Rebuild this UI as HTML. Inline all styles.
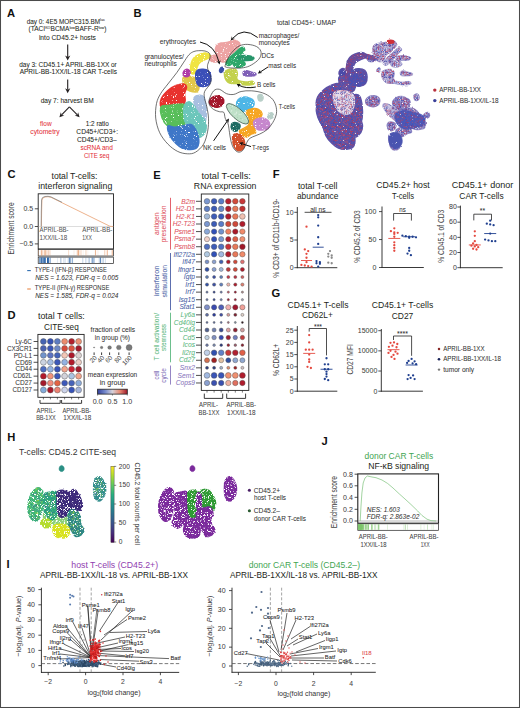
<!DOCTYPE html>
<html><head><meta charset="utf-8"><style>
html,body{margin:0;padding:0;background:#fff;}
body{width:520px;height:708px;overflow:hidden;}
svg{display:block;font-family:"Liberation Sans", sans-serif;}

</style></head><body>
<svg width="520" height="708" viewBox="0 0 520 708">
<rect x="0" y="0" width="520" height="708" fill="#fff"/>
<rect x="0.5" y="0.5" width="519" height="707" fill="none" stroke="#4a4a4a" stroke-width="1.05"/>
<text x="7" y="16.9" font-size="11.2" font-weight="bold" fill="#111">A</text>
<text x="133.6" y="16.9" font-size="11.2" font-weight="bold" fill="#111">B</text>
<text x="7.5" y="178.3" font-size="11.2" font-weight="bold" fill="#111">C</text>
<text x="7.6" y="319.2" font-size="11.2" font-weight="bold" fill="#111">D</text>
<text x="153.3" y="178.6" font-size="11.2" font-weight="bold" fill="#111">E</text>
<text x="272.8" y="177.8" font-size="11.2" font-weight="bold" fill="#111">F</text>
<text x="271.6" y="297.2" font-size="11.2" font-weight="bold" fill="#111">G</text>
<text x="7.2" y="440.7" font-size="11.2" font-weight="bold" fill="#111">H</text>
<text x="6.6" y="567.5" font-size="11.2" font-weight="bold" fill="#111">I</text>
<text x="321.4" y="444.8" font-size="11.2" font-weight="bold" fill="#111">J</text>
<text x="65.70" y="23.61" font-size="6.4" fill="#231f20" stroke="#231f20" stroke-width="0.05" text-anchor="middle" textLength="78" lengthAdjust="spacingAndGlyphs" >day 0: 4E5 MOPC315.BM<tspan font-size="3.6" dy="-2.2">luc</tspan></text>
<text x="67.50" y="31.41" font-size="6.4" fill="#231f20" stroke="#231f20" stroke-width="0.05" text-anchor="middle" textLength="78" lengthAdjust="spacingAndGlyphs" >(TACI<tspan font-size="3.6" dy="-2.2">KO</tspan><tspan dy="2.2">BCMA</tspan><tspan font-size="3.6" dy="-2.2">low</tspan><tspan dy="2.2">BAFF-R</tspan><tspan font-size="3.6" dy="-2.2">low</tspan><tspan dy="2.2">)</tspan></text>
<text x="67.40" y="39.71" font-size="6.4" fill="#231f20" stroke="#231f20" stroke-width="0.05" text-anchor="middle" textLength="57" lengthAdjust="spacingAndGlyphs" >into CD45.2+ hosts</text>
<line x1="67.70" y1="44.60" x2="67.70" y2="57.10" stroke="#231f20" stroke-width="1.1" />
<path d="M67.70,60.60 L65.10,55.60 L67.70,57.10 L70.30,55.60 Z" fill="#231f20"/>
<text x="68.00" y="66.81" font-size="6.4" fill="#231f20" stroke="#231f20" stroke-width="0.05" text-anchor="middle" textLength="97.5" lengthAdjust="spacingAndGlyphs" >day 3: CD45.1+ APRIL-BB-1XX or</text>
<text x="68.30" y="74.41" font-size="6.4" fill="#231f20" stroke="#231f20" stroke-width="0.05" text-anchor="middle" textLength="97.3" lengthAdjust="spacingAndGlyphs" >APRIL-BB-1XX/IL-18 CAR T-cells</text>
<line x1="67.70" y1="79.40" x2="67.70" y2="89.80" stroke="#231f20" stroke-width="1.1" />
<path d="M67.70,93.30 L65.10,88.30 L67.70,89.80 L70.30,88.30 Z" fill="#231f20"/>
<text x="67.20" y="102.51" font-size="6.4" fill="#231f20" stroke="#231f20" stroke-width="0.05" text-anchor="middle" textLength="53" lengthAdjust="spacingAndGlyphs" >day 7: harvest BM</text>
<line x1="69.40" y1="106.80" x2="61.63" y2="114.88" stroke="#231f20" stroke-width="1.1" />
<path d="M59.40,117.20 L60.86,112.22 L61.63,114.88 L64.32,115.55 Z" fill="#231f20"/>
<line x1="69.40" y1="106.80" x2="77.35" y2="114.90" stroke="#231f20" stroke-width="1.1" />
<path d="M79.60,117.20 L74.67,115.60 L77.35,114.90 L78.09,112.24 Z" fill="#231f20"/>
<text x="45.80" y="126.31" font-size="6.4" fill="#e4343b" stroke="#e4343b" stroke-width="0.05" text-anchor="middle" textLength="11.6" lengthAdjust="spacingAndGlyphs" >flow</text>
<text x="45.00" y="133.71" font-size="6.4" fill="#e4343b" stroke="#e4343b" stroke-width="0.05" text-anchor="middle" textLength="29.3" lengthAdjust="spacingAndGlyphs" >cytometry</text>
<text x="97.30" y="126.31" font-size="6.4" fill="#231f20" stroke="#231f20" stroke-width="0.05" text-anchor="middle" textLength="23.1" lengthAdjust="spacingAndGlyphs" >1:2 ratio</text>
<text x="97.20" y="133.71" font-size="6.4" fill="#231f20" stroke="#231f20" stroke-width="0.05" text-anchor="middle" textLength="41.7" lengthAdjust="spacingAndGlyphs" >CD45+/CD3+:</text>
<text x="96.90" y="141.81" font-size="6.4" fill="#231f20" stroke="#231f20" stroke-width="0.05" text-anchor="middle" textLength="39.7" lengthAdjust="spacingAndGlyphs" >CD45+/CD3–</text>
<text x="96.60" y="149.81" font-size="6.4" fill="#e4343b" stroke="#e4343b" stroke-width="0.05" text-anchor="middle" textLength="32.4" lengthAdjust="spacingAndGlyphs" >scRNA and</text>
<text x="96.60" y="157.91" font-size="6.4" fill="#e4343b" stroke="#e4343b" stroke-width="0.05" text-anchor="middle" textLength="25.4" lengthAdjust="spacingAndGlyphs" >CITE seq</text>
<text x="74.50" y="178.97" font-size="9.0" fill="#231f20" text-anchor="middle" textLength="46" lengthAdjust="spacingAndGlyphs" >total T-cells:</text>
<text x="75.30" y="188.87" font-size="9.0" fill="#231f20" text-anchor="middle" textLength="74" lengthAdjust="spacingAndGlyphs" >interferon signaling</text>
<rect x="38.20" y="193.80" width="75.30" height="55.10" fill="none" stroke="#222" stroke-width="0.9" />
<line x1="38.20" y1="226.50" x2="113.50" y2="226.50" stroke="#bbbbbb" stroke-width="0.5" />
<rect x="38.20" y="249.60" width="75.30" height="6.40" fill="#fff" stroke="#222" stroke-width="0.7" />
<rect x="38.20" y="257.10" width="75.30" height="6.40" fill="#fff" stroke="#222" stroke-width="0.7" />
<line x1="41.31" y1="250.10" x2="41.31" y2="255.50" stroke="#e07a3a" stroke-width="1.0" opacity="0.52"/>
<line x1="42.82" y1="250.10" x2="42.82" y2="255.50" stroke="#e07a3a" stroke-width="0.7" opacity="0.54"/>
<line x1="45.73" y1="250.10" x2="45.73" y2="255.50" stroke="#e07a3a" stroke-width="0.7" opacity="0.33"/>
<line x1="38.75" y1="250.10" x2="38.75" y2="255.50" stroke="#e07a3a" stroke-width="0.5" opacity="0.63"/>
<line x1="41.56" y1="250.10" x2="41.56" y2="255.50" stroke="#e07a3a" stroke-width="0.5" opacity="0.39"/>
<line x1="49.95" y1="250.10" x2="49.95" y2="255.50" stroke="#e07a3a" stroke-width="0.7" opacity="0.49"/>
<line x1="48.14" y1="250.10" x2="48.14" y2="255.50" stroke="#e07a3a" stroke-width="1.0" opacity="0.49"/>
<line x1="45.89" y1="250.10" x2="45.89" y2="255.50" stroke="#e07a3a" stroke-width="0.7" opacity="0.36"/>
<line x1="45.84" y1="250.10" x2="45.84" y2="255.50" stroke="#e07a3a" stroke-width="0.5" opacity="0.65"/>
<line x1="44.56" y1="250.10" x2="44.56" y2="255.50" stroke="#e07a3a" stroke-width="0.7" opacity="0.60"/>
<line x1="77.71" y1="250.10" x2="77.71" y2="255.50" stroke="#e07a3a" stroke-width="0.5" opacity="0.27"/>
<line x1="78.58" y1="250.10" x2="78.58" y2="255.50" stroke="#e07a3a" stroke-width="0.7" opacity="0.43"/>
<line x1="74.01" y1="250.10" x2="74.01" y2="255.50" stroke="#e07a3a" stroke-width="0.5" opacity="0.26"/>
<line x1="79.66" y1="250.10" x2="79.66" y2="255.50" stroke="#e07a3a" stroke-width="0.5" opacity="0.39"/>
<line x1="78.19" y1="250.10" x2="78.19" y2="255.50" stroke="#e07a3a" stroke-width="0.7" opacity="0.51"/>
<line x1="78.14" y1="250.10" x2="78.14" y2="255.50" stroke="#e07a3a" stroke-width="0.7" opacity="0.53"/>
<line x1="107.17" y1="250.10" x2="107.17" y2="255.50" stroke="#e07a3a" stroke-width="0.7" opacity="0.54"/>
<line x1="107.63" y1="250.10" x2="107.63" y2="255.50" stroke="#e07a3a" stroke-width="0.5" opacity="0.58"/>
<line x1="111.67" y1="250.10" x2="111.67" y2="255.50" stroke="#e07a3a" stroke-width="0.5" opacity="0.33"/>
<line x1="104.76" y1="250.10" x2="104.76" y2="255.50" stroke="#e07a3a" stroke-width="1.0" opacity="0.37"/>
<line x1="112.48" y1="250.10" x2="112.48" y2="255.50" stroke="#e07a3a" stroke-width="1.0" opacity="0.43"/>
<line x1="83.21" y1="250.10" x2="83.21" y2="255.50" stroke="#e07a3a" stroke-width="0.5" opacity="0.19"/>
<line x1="76.88" y1="250.10" x2="76.88" y2="255.50" stroke="#e07a3a" stroke-width="0.7" opacity="0.21"/>
<line x1="68.60" y1="250.10" x2="68.60" y2="255.50" stroke="#e07a3a" stroke-width="1.0" opacity="0.25"/>
<line x1="80.97" y1="250.10" x2="80.97" y2="255.50" stroke="#e07a3a" stroke-width="1.0" opacity="0.33"/>
<line x1="86.15" y1="250.10" x2="86.15" y2="255.50" stroke="#e07a3a" stroke-width="0.7" opacity="0.33"/>
<line x1="95.39" y1="250.10" x2="95.39" y2="255.50" stroke="#e07a3a" stroke-width="1.0" opacity="0.35"/>
<line x1="85.58" y1="250.10" x2="85.58" y2="255.50" stroke="#e07a3a" stroke-width="0.7" opacity="0.16"/>
<line x1="95.61" y1="250.10" x2="95.61" y2="255.50" stroke="#e07a3a" stroke-width="1.0" opacity="0.34"/>
<line x1="97.95" y1="250.10" x2="97.95" y2="255.50" stroke="#e07a3a" stroke-width="0.5" opacity="0.25"/>
<line x1="87.83" y1="250.10" x2="87.83" y2="255.50" stroke="#e07a3a" stroke-width="0.5" opacity="0.17"/>
<line x1="42.10" y1="257.60" x2="42.10" y2="263.00" stroke="#2a64a8" stroke-width="0.7" opacity="0.63"/>
<line x1="45.00" y1="257.60" x2="45.00" y2="263.00" stroke="#2a64a8" stroke-width="1.0" opacity="0.61"/>
<line x1="40.97" y1="257.60" x2="40.97" y2="263.00" stroke="#2a64a8" stroke-width="0.7" opacity="0.76"/>
<line x1="45.10" y1="257.60" x2="45.10" y2="263.00" stroke="#2a64a8" stroke-width="0.5" opacity="0.66"/>
<line x1="39.42" y1="257.60" x2="39.42" y2="263.00" stroke="#2a64a8" stroke-width="0.7" opacity="0.95"/>
<line x1="42.14" y1="257.60" x2="42.14" y2="263.00" stroke="#2a64a8" stroke-width="0.5" opacity="0.98"/>
<line x1="47.97" y1="257.60" x2="47.97" y2="263.00" stroke="#2a64a8" stroke-width="0.5" opacity="0.75"/>
<line x1="43.60" y1="257.60" x2="43.60" y2="263.00" stroke="#2a64a8" stroke-width="0.5" opacity="0.81"/>
<line x1="45.44" y1="257.60" x2="45.44" y2="263.00" stroke="#2a64a8" stroke-width="0.7" opacity="0.84"/>
<line x1="44.59" y1="257.60" x2="44.59" y2="263.00" stroke="#2a64a8" stroke-width="1.0" opacity="0.85"/>
<line x1="48.41" y1="257.60" x2="48.41" y2="263.00" stroke="#2a64a8" stroke-width="1.0" opacity="0.80"/>
<line x1="43.31" y1="257.60" x2="43.31" y2="263.00" stroke="#2a64a8" stroke-width="0.7" opacity="0.89"/>
<line x1="41.38" y1="257.60" x2="41.38" y2="263.00" stroke="#2a64a8" stroke-width="1.0" opacity="0.72"/>
<line x1="48.78" y1="257.60" x2="48.78" y2="263.00" stroke="#2a64a8" stroke-width="1.0" opacity="0.81"/>
<line x1="44.48" y1="257.60" x2="44.48" y2="263.00" stroke="#2a64a8" stroke-width="0.5" opacity="0.60"/>
<line x1="43.15" y1="257.60" x2="43.15" y2="263.00" stroke="#2a64a8" stroke-width="0.5" opacity="0.83"/>
<line x1="50.28" y1="257.60" x2="50.28" y2="263.00" stroke="#2a64a8" stroke-width="1.0" opacity="0.45"/>
<line x1="89.33" y1="257.60" x2="89.33" y2="263.00" stroke="#2a64a8" stroke-width="0.7" opacity="0.22"/>
<line x1="89.02" y1="257.60" x2="89.02" y2="263.00" stroke="#2a64a8" stroke-width="1.0" opacity="0.39"/>
<line x1="92.34" y1="257.60" x2="92.34" y2="263.00" stroke="#2a64a8" stroke-width="1.0" opacity="0.34"/>
<line x1="94.10" y1="257.60" x2="94.10" y2="263.00" stroke="#2a64a8" stroke-width="1.0" opacity="0.50"/>
<line x1="50.42" y1="257.60" x2="50.42" y2="263.00" stroke="#2a64a8" stroke-width="0.7" opacity="0.22"/>
<line x1="92.13" y1="257.60" x2="92.13" y2="263.00" stroke="#2a64a8" stroke-width="1.0" opacity="0.59"/>
<line x1="65.02" y1="257.60" x2="65.02" y2="263.00" stroke="#2a64a8" stroke-width="0.7" opacity="0.38"/>
<line x1="86.81" y1="257.60" x2="86.81" y2="263.00" stroke="#2a64a8" stroke-width="0.5" opacity="0.33"/>
<line x1="72.22" y1="257.60" x2="72.22" y2="263.00" stroke="#2a64a8" stroke-width="0.5" opacity="0.33"/>
<line x1="72.55" y1="257.60" x2="72.55" y2="263.00" stroke="#2a64a8" stroke-width="1.0" opacity="0.44"/>
<line x1="68.17" y1="257.60" x2="68.17" y2="263.00" stroke="#2a64a8" stroke-width="0.7" opacity="0.35"/>
<line x1="98.27" y1="257.60" x2="98.27" y2="263.00" stroke="#2a64a8" stroke-width="0.5" opacity="0.21"/>
<line x1="85.32" y1="257.60" x2="85.32" y2="263.00" stroke="#2a64a8" stroke-width="0.5" opacity="0.49"/>
<line x1="68.78" y1="257.60" x2="68.78" y2="263.00" stroke="#2a64a8" stroke-width="0.5" opacity="0.29"/>
<line x1="100.28" y1="257.60" x2="100.28" y2="263.00" stroke="#2a64a8" stroke-width="0.5" opacity="0.30"/>
<line x1="60.96" y1="257.60" x2="60.96" y2="263.00" stroke="#2a64a8" stroke-width="1.0" opacity="0.37"/>
<line x1="93.54" y1="257.60" x2="93.54" y2="263.00" stroke="#2a64a8" stroke-width="1.0" opacity="0.24"/>
<line x1="69.54" y1="257.60" x2="69.54" y2="263.00" stroke="#2a64a8" stroke-width="0.5" opacity="0.33"/>
<line x1="102.18" y1="257.60" x2="102.18" y2="263.00" stroke="#2a64a8" stroke-width="0.7" opacity="0.38"/>
<line x1="103.58" y1="257.60" x2="103.58" y2="263.00" stroke="#2a64a8" stroke-width="1.0" opacity="0.27"/>
<line x1="70.48" y1="257.60" x2="70.48" y2="263.00" stroke="#2a64a8" stroke-width="0.5" opacity="0.46"/>
<line x1="105.46" y1="257.60" x2="105.46" y2="263.00" stroke="#2a64a8" stroke-width="0.5" opacity="0.38"/>
<line x1="63.36" y1="257.60" x2="63.36" y2="263.00" stroke="#2a64a8" stroke-width="0.7" opacity="0.25"/>
<line x1="82.79" y1="257.60" x2="82.79" y2="263.00" stroke="#2a64a8" stroke-width="1.0" opacity="0.28"/>
<line x1="100.47" y1="257.60" x2="100.47" y2="263.00" stroke="#2a64a8" stroke-width="0.5" opacity="0.54"/>
<line x1="60.71" y1="257.60" x2="60.71" y2="263.00" stroke="#2a64a8" stroke-width="0.5" opacity="0.31"/>
<line x1="100.50" y1="257.60" x2="100.50" y2="263.00" stroke="#2a64a8" stroke-width="1.0" opacity="0.46"/>
<line x1="100.44" y1="257.60" x2="100.44" y2="263.00" stroke="#2a64a8" stroke-width="0.7" opacity="0.34"/>
<line x1="57.27" y1="257.60" x2="57.27" y2="263.00" stroke="#2a64a8" stroke-width="0.5" opacity="0.32"/>
<line x1="99.65" y1="257.60" x2="99.65" y2="263.00" stroke="#2a64a8" stroke-width="1.0" opacity="0.31"/>
<line x1="71.10" y1="257.60" x2="71.10" y2="263.00" stroke="#2a64a8" stroke-width="0.5" opacity="0.37"/>
<line x1="69.80" y1="257.60" x2="69.80" y2="263.00" stroke="#2a64a8" stroke-width="1.0" opacity="0.90"/>
<line x1="47.50" y1="257.60" x2="47.50" y2="263.00" stroke="#2a64a8" stroke-width="1.0" opacity="1.00"/>
<line x1="41.00" y1="257.60" x2="41.00" y2="263.00" stroke="#2a64a8" stroke-width="0.7" opacity="1.00"/>
<line x1="34.80" y1="208.80" x2="38.20" y2="208.80" stroke="#222" stroke-width="0.8" />
<text x="33.20" y="211.11" font-size="7.0" fill="#444" stroke="#444" stroke-width="0.05" text-anchor="end" >0.5</text>
<line x1="34.80" y1="226.50" x2="38.20" y2="226.50" stroke="#222" stroke-width="0.8" />
<text x="33.20" y="228.81" font-size="7.0" fill="#444" stroke="#444" stroke-width="0.05" text-anchor="end" >0.0</text>
<line x1="34.80" y1="243.90" x2="38.20" y2="243.90" stroke="#222" stroke-width="0.8" />
<text x="33.20" y="246.21" font-size="7.0" fill="#444" stroke="#444" stroke-width="0.05" text-anchor="end" >−0.5</text>
<text transform="translate(11.40,228.40) rotate(-90)" x="0" y="2.77" font-size="8.4" fill="#444" stroke="#444" stroke-width="0.05" text-anchor="middle" textLength="52" lengthAdjust="spacingAndGlyphs" >Enrichment score</text>
<path d="M41.4,226.5 L41.6,212 L41.9,200.5 L42.8,198.0 L45,197.0 L48,196.7 L51,197.3 L54,198.8 L110.0,226.3 L113,226.5" fill="none" stroke="#e8a070" stroke-width="0.8"/>
<path d="M41.2,226.5 L41.3,212 L41.6,199.5 L42.5,197.6 L45,196.5 L48,196.3 L51,196.9 L54,198.4 L62,202.3" fill="none" stroke="#888" stroke-width="0.8"/>
<text x="39.60" y="231.58" font-size="6.6" fill="#555" stroke="#555" stroke-width="0.05" textLength="28.9" lengthAdjust="spacingAndGlyphs" >APRIL-BB-</text>
<text x="39.60" y="239.78" font-size="6.6" fill="#555" stroke="#555" stroke-width="0.05" textLength="27.5" lengthAdjust="spacingAndGlyphs" >1XX/IL-18</text>
<text x="82.30" y="231.58" font-size="6.6" fill="#555" stroke="#555" stroke-width="0.05" textLength="30" lengthAdjust="spacingAndGlyphs" >APRIL-BB-</text>
<text x="82.30" y="239.78" font-size="6.6" fill="#555" stroke="#555" stroke-width="0.05" textLength="9.6" lengthAdjust="spacingAndGlyphs" >1XX</text>
<line x1="27.20" y1="270.60" x2="30.80" y2="270.60" stroke="#2f6db0" stroke-width="1.1" />
<line x1="27.20" y1="289.00" x2="30.80" y2="289.00" stroke="#e8894a" stroke-width="1.1" />
<text x="34.80" y="271.78" font-size="6.6" fill="#333" stroke="#333" stroke-width="0.05" textLength="72" lengthAdjust="spacingAndGlyphs" >TYPE-I (IFN-β) RESPONSE</text>
<text x="35.20" y="280.18" font-size="6.6" fill="#333" stroke="#333" stroke-width="0.05" font-style="italic" textLength="83.2" lengthAdjust="spacingAndGlyphs" >NES = 1.623, FDR-q = 0.005</text>
<text x="34.80" y="290.38" font-size="6.6" fill="#333" stroke="#333" stroke-width="0.05" textLength="74.5" lengthAdjust="spacingAndGlyphs" >TYPE-II (IFN-γ) RESPONSE</text>
<text x="35.20" y="298.38" font-size="6.6" fill="#333" stroke="#333" stroke-width="0.05" font-style="italic" textLength="83.2" lengthAdjust="spacingAndGlyphs" >NES = 1.585, FDR-q = 0.024</text>
<text x="61.40" y="319.37" font-size="9.0" fill="#231f20" text-anchor="middle" textLength="46.8" lengthAdjust="spacingAndGlyphs" >total T cells:</text>
<text x="61.40" y="329.77" font-size="9.0" fill="#231f20" text-anchor="middle" textLength="34.7" lengthAdjust="spacingAndGlyphs" >CITE-seq</text>
<rect x="37.90" y="334.40" width="46.20" height="62.90" fill="none" stroke="#222" stroke-width="0.9" />
<text x="32.00" y="343.74" font-size="6.8" fill="#333" stroke="#333" stroke-width="0.05" text-anchor="end" textLength="16.8" lengthAdjust="spacingAndGlyphs" >Ly-6C</text>
<line x1="33.60" y1="341.50" x2="37.90" y2="341.50" stroke="#222" stroke-width="0.8" />
<circle cx="43.40" cy="341.50" r="2.95" fill="#4563b3" stroke="#555" stroke-width="0.45" />
<circle cx="50.40" cy="341.50" r="2.95" fill="#3552b5" stroke="#555" stroke-width="0.45" />
<circle cx="57.40" cy="341.50" r="2.95" fill="#5d7cc2" stroke="#555" stroke-width="0.45" />
<circle cx="64.60" cy="341.50" r="2.95" fill="#ec8b6c" stroke="#555" stroke-width="0.45" />
<circle cx="71.60" cy="341.50" r="2.95" fill="#b3202b" stroke="#555" stroke-width="0.45" />
<circle cx="78.60" cy="341.50" r="2.95" fill="#ee9073" stroke="#555" stroke-width="0.45" />
<text x="32.00" y="350.67" font-size="6.8" fill="#333" stroke="#333" stroke-width="0.05" text-anchor="end" textLength="25.0" lengthAdjust="spacingAndGlyphs" >CX3CR1</text>
<line x1="33.60" y1="348.43" x2="37.90" y2="348.43" stroke="#222" stroke-width="0.8" />
<circle cx="43.40" cy="348.43" r="2.95" fill="#4b62b0" stroke="#555" stroke-width="0.45" />
<circle cx="50.40" cy="348.43" r="2.95" fill="#3a56b8" stroke="#555" stroke-width="0.45" />
<circle cx="57.40" cy="348.43" r="2.95" fill="#6d88c6" stroke="#555" stroke-width="0.45" />
<circle cx="64.60" cy="348.43" r="2.95" fill="#d54a3a" stroke="#555" stroke-width="0.45" />
<circle cx="71.60" cy="348.43" r="2.95" fill="#dc5340" stroke="#555" stroke-width="0.45" />
<circle cx="78.60" cy="348.43" r="2.95" fill="#a41a29" stroke="#555" stroke-width="0.45" />
<text x="32.00" y="357.60" font-size="6.8" fill="#333" stroke="#333" stroke-width="0.05" text-anchor="end" textLength="18.2" lengthAdjust="spacingAndGlyphs" >PD-L1</text>
<line x1="33.60" y1="355.36" x2="37.90" y2="355.36" stroke="#222" stroke-width="0.8" />
<circle cx="43.40" cy="355.36" r="2.95" fill="#7294cb" stroke="#555" stroke-width="0.45" />
<circle cx="50.40" cy="355.36" r="2.95" fill="#5c73c1" stroke="#555" stroke-width="0.45" />
<circle cx="57.40" cy="355.36" r="2.95" fill="#4463b9" stroke="#555" stroke-width="0.45" />
<circle cx="64.60" cy="355.36" r="2.95" fill="#f3c6b5" stroke="#555" stroke-width="0.45" />
<circle cx="71.60" cy="355.36" r="2.95" fill="#ab192b" stroke="#555" stroke-width="0.45" />
<circle cx="78.60" cy="355.36" r="2.95" fill="#dbd2d1" stroke="#555" stroke-width="0.45" />
<text x="32.00" y="364.53" font-size="6.8" fill="#333" stroke="#333" stroke-width="0.05" text-anchor="end" textLength="16.8" lengthAdjust="spacingAndGlyphs" >CD69</text>
<line x1="33.60" y1="362.29" x2="37.90" y2="362.29" stroke="#222" stroke-width="0.8" />
<circle cx="43.40" cy="362.29" r="2.95" fill="#cbd3e1" stroke="#555" stroke-width="0.45" />
<circle cx="50.40" cy="362.29" r="2.95" fill="#a4bce2" stroke="#555" stroke-width="0.45" />
<circle cx="57.40" cy="362.29" r="2.95" fill="#3c58b9" stroke="#555" stroke-width="0.45" />
<circle cx="64.60" cy="362.29" r="2.95" fill="#93b2e2" stroke="#555" stroke-width="0.45" />
<circle cx="71.60" cy="362.29" r="2.95" fill="#b21a29" stroke="#555" stroke-width="0.45" />
<circle cx="78.60" cy="362.29" r="2.95" fill="#ecccc3" stroke="#555" stroke-width="0.45" />
<text x="32.00" y="371.46" font-size="6.8" fill="#333" stroke="#333" stroke-width="0.05" text-anchor="end" textLength="16.4" lengthAdjust="spacingAndGlyphs" >CD44</text>
<line x1="33.60" y1="369.22" x2="37.90" y2="369.22" stroke="#222" stroke-width="0.8" />
<circle cx="43.40" cy="369.22" r="2.95" fill="#4c6cc1" stroke="#555" stroke-width="0.45" />
<circle cx="50.40" cy="369.22" r="2.95" fill="#92b1e2" stroke="#555" stroke-width="0.45" />
<circle cx="57.40" cy="369.22" r="2.95" fill="#3753b8" stroke="#555" stroke-width="0.45" />
<circle cx="64.60" cy="369.22" r="2.95" fill="#f3a38a" stroke="#555" stroke-width="0.45" />
<circle cx="71.60" cy="369.22" r="2.95" fill="#cb2232" stroke="#555" stroke-width="0.45" />
<circle cx="78.60" cy="369.22" r="2.95" fill="#a31b29" stroke="#555" stroke-width="0.45" />
<text x="32.00" y="378.39" font-size="6.8" fill="#333" stroke="#333" stroke-width="0.05" text-anchor="end" textLength="19.0" lengthAdjust="spacingAndGlyphs" >CD62L</text>
<line x1="33.60" y1="376.15" x2="37.90" y2="376.15" stroke="#222" stroke-width="0.8" />
<circle cx="43.40" cy="376.15" r="2.95" fill="#b2192a" stroke="#555" stroke-width="0.45" />
<circle cx="50.40" cy="376.15" r="2.95" fill="#f2937a" stroke="#555" stroke-width="0.45" />
<circle cx="57.40" cy="376.15" r="2.95" fill="#3c58b9" stroke="#555" stroke-width="0.45" />
<circle cx="64.60" cy="376.15" r="2.95" fill="#d3d3da" stroke="#555" stroke-width="0.45" />
<circle cx="71.60" cy="376.15" r="2.95" fill="#abc3e2" stroke="#555" stroke-width="0.45" />
<circle cx="78.60" cy="376.15" r="2.95" fill="#f2a48b" stroke="#555" stroke-width="0.45" />
<text x="32.00" y="385.32" font-size="6.8" fill="#333" stroke="#333" stroke-width="0.05" text-anchor="end" textLength="16.8" lengthAdjust="spacingAndGlyphs" >CD27</text>
<line x1="33.60" y1="383.08" x2="37.90" y2="383.08" stroke="#222" stroke-width="0.8" />
<circle cx="43.40" cy="383.08" r="2.95" fill="#a4192a" stroke="#555" stroke-width="0.45" />
<circle cx="50.40" cy="383.08" r="2.95" fill="#f28b7b" stroke="#555" stroke-width="0.45" />
<circle cx="57.40" cy="383.08" r="2.95" fill="#e36343" stroke="#555" stroke-width="0.45" />
<circle cx="64.60" cy="383.08" r="2.95" fill="#3c58b9" stroke="#555" stroke-width="0.45" />
<circle cx="71.60" cy="383.08" r="2.95" fill="#4763b9" stroke="#555" stroke-width="0.45" />
<circle cx="78.60" cy="383.08" r="2.95" fill="#8dabda" stroke="#555" stroke-width="0.45" />
<text x="32.00" y="392.25" font-size="6.8" fill="#333" stroke="#333" stroke-width="0.05" text-anchor="end" textLength="19.5" lengthAdjust="spacingAndGlyphs" >CD127</text>
<line x1="33.60" y1="390.01" x2="37.90" y2="390.01" stroke="#222" stroke-width="0.8" />
<circle cx="43.40" cy="390.01" r="2.95" fill="#84abda" stroke="#555" stroke-width="0.45" />
<circle cx="50.40" cy="390.01" r="2.95" fill="#aa192a" stroke="#555" stroke-width="0.45" />
<circle cx="57.40" cy="390.01" r="2.95" fill="#ec8373" stroke="#555" stroke-width="0.45" />
<circle cx="64.60" cy="390.01" r="2.95" fill="#ccd3ea" stroke="#555" stroke-width="0.45" />
<circle cx="71.60" cy="390.01" r="2.95" fill="#3753b8" stroke="#555" stroke-width="0.45" />
<circle cx="78.60" cy="390.01" r="2.95" fill="#a3b3da" stroke="#555" stroke-width="0.45" />
<line x1="43.40" y1="397.30" x2="43.40" y2="399.40" stroke="#222" stroke-width="0.6" />
<line x1="50.40" y1="397.30" x2="50.40" y2="399.40" stroke="#222" stroke-width="0.6" />
<line x1="57.40" y1="397.30" x2="57.40" y2="399.40" stroke="#222" stroke-width="0.6" />
<line x1="64.60" y1="397.30" x2="64.60" y2="399.40" stroke="#222" stroke-width="0.6" />
<line x1="71.60" y1="397.30" x2="71.60" y2="399.40" stroke="#222" stroke-width="0.6" />
<line x1="78.60" y1="397.30" x2="78.60" y2="399.40" stroke="#222" stroke-width="0.6" />
<path d="M40,400 V403.3 H60.2 V400" fill="none" stroke="#222" stroke-width="0.9"/>
<path d="M61.6,400 V403.3 H81.6 V400" fill="none" stroke="#222" stroke-width="0.9"/>
<text x="46.00" y="412.54" font-size="6.8" fill="#444" stroke="#444" stroke-width="0.05" text-anchor="middle" textLength="19.1" lengthAdjust="spacingAndGlyphs" >APRIL-</text>
<text x="46.00" y="419.64" font-size="6.8" fill="#444" stroke="#444" stroke-width="0.05" text-anchor="middle" textLength="19.6" lengthAdjust="spacingAndGlyphs" >BB-1XX</text>
<text x="76.70" y="412.54" font-size="6.8" fill="#444" stroke="#444" stroke-width="0.05" text-anchor="middle" textLength="28.6" lengthAdjust="spacingAndGlyphs" >APRIL-BB-</text>
<text x="77.30" y="419.64" font-size="6.8" fill="#444" stroke="#444" stroke-width="0.05" text-anchor="middle" textLength="28.0" lengthAdjust="spacingAndGlyphs" >1XX/IL-18</text>
<text x="112.80" y="332.14" font-size="6.8" fill="#333" stroke="#333" stroke-width="0.05" text-anchor="middle" textLength="44.4" lengthAdjust="spacingAndGlyphs" >fraction of cells</text>
<text x="112.40" y="340.24" font-size="6.8" fill="#333" stroke="#333" stroke-width="0.05" text-anchor="middle" textLength="35.2" lengthAdjust="spacingAndGlyphs" >in group (%)</text>
<circle cx="94.10" cy="347.50" r="0.60" fill="#7a7a7a" stroke="#555" stroke-width="0.3" />
<line x1="94.10" y1="352.40" x2="94.10" y2="355.00" stroke="#222" stroke-width="0.9" />
<text transform="translate(95.90,356.8) rotate(-45)" font-size="6.4" fill="#444" text-anchor="end" x="0" y="2.0">20</text>
<circle cx="101.60" cy="347.50" r="1.25" fill="#7a7a7a" stroke="#555" stroke-width="0.3" />
<line x1="101.60" y1="352.40" x2="101.60" y2="355.00" stroke="#222" stroke-width="0.9" />
<text transform="translate(103.40,356.8) rotate(-45)" font-size="6.4" fill="#444" text-anchor="end" x="0" y="2.0">40</text>
<circle cx="109.60" cy="347.50" r="1.85" fill="#7a7a7a" stroke="#555" stroke-width="0.3" />
<line x1="109.60" y1="352.40" x2="109.60" y2="355.00" stroke="#222" stroke-width="0.9" />
<text transform="translate(111.40,356.8) rotate(-45)" font-size="6.4" fill="#444" text-anchor="end" x="0" y="2.0">60</text>
<circle cx="118.80" cy="347.50" r="2.35" fill="#7a7a7a" stroke="#555" stroke-width="0.3" />
<line x1="118.80" y1="352.40" x2="118.80" y2="355.00" stroke="#222" stroke-width="0.9" />
<text transform="translate(120.60,356.8) rotate(-45)" font-size="6.4" fill="#444" text-anchor="end" x="0" y="2.0">80</text>
<circle cx="129.10" cy="347.50" r="3.00" fill="#7a7a7a" stroke="#555" stroke-width="0.3" />
<line x1="129.10" y1="352.40" x2="129.10" y2="355.00" stroke="#222" stroke-width="0.9" />
<text transform="translate(130.90,356.8) rotate(-45)" font-size="6.4" fill="#444" text-anchor="end" x="0" y="2.0">100</text>
<text x="112.50" y="377.04" font-size="6.8" fill="#333" stroke="#333" stroke-width="0.05" text-anchor="middle" textLength="49.4" lengthAdjust="spacingAndGlyphs" >mean expression</text>
<text x="112.50" y="385.04" font-size="6.8" fill="#333" stroke="#333" stroke-width="0.05" text-anchor="middle" textLength="25.4" lengthAdjust="spacingAndGlyphs" >in group</text>
<defs><linearGradient id="cw" x1="0" x2="1" y1="0" y2="0"><stop offset="0" stop-color="#34419a"/><stop offset="0.25" stop-color="#7388cc"/><stop offset="0.5" stop-color="#d6d2da"/><stop offset="0.75" stop-color="#e88a72"/><stop offset="1" stop-color="#a0182a"/></linearGradient></defs>
<rect x="97.60" y="389.20" width="29.70" height="4.90" fill="url(#cw)" stroke="#222" stroke-width="0.8" />
<line x1="97.60" y1="394.10" x2="97.60" y2="395.60" stroke="#222" stroke-width="0.5" />
<line x1="112.45" y1="394.10" x2="112.45" y2="395.60" stroke="#222" stroke-width="0.5" />
<line x1="127.30" y1="394.10" x2="127.30" y2="395.60" stroke="#222" stroke-width="0.5" />
<text x="97.60" y="403.51" font-size="7.0" fill="#444" stroke="#444" stroke-width="0.05" text-anchor="middle" textLength="9.9" lengthAdjust="spacingAndGlyphs" >0.0</text>
<text x="112.45" y="403.51" font-size="7.0" fill="#444" stroke="#444" stroke-width="0.05" text-anchor="middle" textLength="9.9" lengthAdjust="spacingAndGlyphs" >0.5</text>
<text x="127.30" y="403.51" font-size="7.0" fill="#444" stroke="#444" stroke-width="0.05" text-anchor="middle" textLength="9.9" lengthAdjust="spacingAndGlyphs" >1.0</text>
<text x="226.20" y="178.57" font-size="9.0" fill="#231f20" text-anchor="middle" textLength="49.3" lengthAdjust="spacingAndGlyphs" >total T-cells:</text>
<text x="225.10" y="189.17" font-size="9.0" fill="#231f20" text-anchor="middle" textLength="62.5" lengthAdjust="spacingAndGlyphs" >RNA expression</text>
<rect x="201.30" y="194.00" width="47.50" height="196.40" fill="none" stroke="#222" stroke-width="0.9" />
<text x="195.00" y="203.51" font-size="6.7" fill="#e0505c" stroke="#e0505c" stroke-width="0.05" text-anchor="end" font-style="italic" >B2m</text>
<line x1="196.00" y1="201.30" x2="201.30" y2="201.30" stroke="#222" stroke-width="0.8" />
<circle cx="207.00" cy="201.30" r="2.80" fill="#7b97cf" stroke="#555" stroke-width="0.45" />
<circle cx="214.10" cy="201.30" r="2.80" fill="#3d5cb8" stroke="#555" stroke-width="0.45" />
<circle cx="221.20" cy="201.30" r="2.80" fill="#5a7cc8" stroke="#555" stroke-width="0.45" />
<circle cx="228.30" cy="201.30" r="2.80" fill="#b82030" stroke="#555" stroke-width="0.45" />
<circle cx="235.30" cy="201.30" r="2.80" fill="#d04a3a" stroke="#555" stroke-width="0.45" />
<circle cx="242.40" cy="201.30" r="2.80" fill="#c83838" stroke="#555" stroke-width="0.45" />
<text x="195.00" y="211.08" font-size="6.7" fill="#e0505c" stroke="#e0505c" stroke-width="0.05" text-anchor="end" font-style="italic" >H2-D1</text>
<line x1="196.00" y1="208.87" x2="201.30" y2="208.87" stroke="#222" stroke-width="0.8" />
<circle cx="207.00" cy="208.87" r="2.80" fill="#6080c4" stroke="#555" stroke-width="0.45" />
<circle cx="214.10" cy="208.87" r="2.80" fill="#3d5cb8" stroke="#555" stroke-width="0.45" />
<circle cx="221.20" cy="208.87" r="2.80" fill="#6a8ac8" stroke="#555" stroke-width="0.45" />
<circle cx="228.30" cy="208.87" r="2.80" fill="#b01c2c" stroke="#555" stroke-width="0.45" />
<circle cx="235.30" cy="208.87" r="2.80" fill="#e87a5a" stroke="#555" stroke-width="0.45" />
<circle cx="242.40" cy="208.87" r="2.80" fill="#c03030" stroke="#555" stroke-width="0.45" />
<text x="195.00" y="218.65" font-size="6.7" fill="#e0505c" stroke="#e0505c" stroke-width="0.05" text-anchor="end" font-style="italic" >H2-K1</text>
<line x1="196.00" y1="216.44" x2="201.30" y2="216.44" stroke="#222" stroke-width="0.8" />
<circle cx="207.00" cy="216.44" r="2.80" fill="#a0b8d8" stroke="#555" stroke-width="0.45" />
<circle cx="214.10" cy="216.44" r="2.80" fill="#3d5cb8" stroke="#555" stroke-width="0.45" />
<circle cx="221.20" cy="216.44" r="2.80" fill="#3a58b8" stroke="#555" stroke-width="0.45" />
<circle cx="228.30" cy="216.44" r="2.80" fill="#b01c2c" stroke="#555" stroke-width="0.45" />
<circle cx="235.30" cy="216.44" r="2.80" fill="#e87a5a" stroke="#555" stroke-width="0.45" />
<circle cx="242.40" cy="216.44" r="2.80" fill="#f0c0b0" stroke="#555" stroke-width="0.45" />
<text x="195.00" y="226.22" font-size="6.7" fill="#e0505c" stroke="#e0505c" stroke-width="0.05" text-anchor="end" font-style="italic" >H2-T23</text>
<line x1="196.00" y1="224.01" x2="201.30" y2="224.01" stroke="#222" stroke-width="0.8" />
<circle cx="207.00" cy="224.01" r="2.70" fill="#7b97cf" stroke="#555" stroke-width="0.45" />
<circle cx="214.10" cy="224.01" r="2.70" fill="#3d5cb8" stroke="#555" stroke-width="0.45" />
<circle cx="221.20" cy="224.01" r="2.70" fill="#5a7cc8" stroke="#555" stroke-width="0.45" />
<circle cx="228.30" cy="224.01" r="2.70" fill="#d04a3a" stroke="#555" stroke-width="0.45" />
<circle cx="235.30" cy="224.01" r="2.70" fill="#d04a3a" stroke="#555" stroke-width="0.45" />
<circle cx="242.40" cy="224.01" r="2.70" fill="#b01c2c" stroke="#555" stroke-width="0.45" />
<text x="195.00" y="233.79" font-size="6.7" fill="#e0505c" stroke="#e0505c" stroke-width="0.05" text-anchor="end" font-style="italic" >Psme1</text>
<line x1="196.00" y1="231.58" x2="201.30" y2="231.58" stroke="#222" stroke-width="0.8" />
<circle cx="207.00" cy="231.58" r="2.70" fill="#8aa8d8" stroke="#555" stroke-width="0.45" />
<circle cx="214.10" cy="231.58" r="2.70" fill="#3050b8" stroke="#555" stroke-width="0.45" />
<circle cx="221.20" cy="231.58" r="2.70" fill="#7090cc" stroke="#555" stroke-width="0.45" />
<circle cx="228.30" cy="231.58" r="2.70" fill="#f08060" stroke="#555" stroke-width="0.45" />
<circle cx="235.30" cy="231.58" r="2.70" fill="#a81828" stroke="#555" stroke-width="0.45" />
<circle cx="242.40" cy="231.58" r="2.70" fill="#f08a68" stroke="#555" stroke-width="0.45" />
<text x="195.00" y="241.36" font-size="6.7" fill="#e0505c" stroke="#e0505c" stroke-width="0.05" text-anchor="end" font-style="italic" >Psma7</text>
<line x1="196.00" y1="239.15" x2="201.30" y2="239.15" stroke="#222" stroke-width="0.8" />
<circle cx="207.00" cy="239.15" r="2.60" fill="#f0d0c8" stroke="#555" stroke-width="0.45" />
<circle cx="214.10" cy="239.15" r="2.60" fill="#3050b8" stroke="#555" stroke-width="0.45" />
<circle cx="221.20" cy="239.15" r="2.60" fill="#7a98d0" stroke="#555" stroke-width="0.45" />
<circle cx="228.30" cy="239.15" r="2.60" fill="#b01c2c" stroke="#555" stroke-width="0.45" />
<circle cx="235.30" cy="239.15" r="2.60" fill="#e06048" stroke="#555" stroke-width="0.45" />
<circle cx="242.40" cy="239.15" r="2.60" fill="#f09070" stroke="#555" stroke-width="0.45" />
<text x="195.00" y="248.93" font-size="6.7" fill="#e0505c" stroke="#e0505c" stroke-width="0.05" text-anchor="end" font-style="italic" >Psmb8</text>
<line x1="196.00" y1="246.72" x2="201.30" y2="246.72" stroke="#222" stroke-width="0.8" />
<circle cx="207.00" cy="246.72" r="2.80" fill="#5070c0" stroke="#555" stroke-width="0.45" />
<circle cx="214.10" cy="246.72" r="2.80" fill="#3d5cb8" stroke="#555" stroke-width="0.45" />
<circle cx="221.20" cy="246.72" r="2.80" fill="#5070c0" stroke="#555" stroke-width="0.45" />
<circle cx="228.30" cy="246.72" r="2.80" fill="#c83038" stroke="#555" stroke-width="0.45" />
<circle cx="235.30" cy="246.72" r="2.80" fill="#e87a5a" stroke="#555" stroke-width="0.45" />
<circle cx="242.40" cy="246.72" r="2.80" fill="#a01828" stroke="#555" stroke-width="0.45" />
<text x="195.00" y="256.50" font-size="6.7" fill="#4b5fa6" stroke="#4b5fa6" stroke-width="0.05" text-anchor="end" font-style="italic" >Ifi27l2a</text>
<line x1="196.00" y1="254.29" x2="201.30" y2="254.29" stroke="#222" stroke-width="0.8" />
<circle cx="207.00" cy="254.29" r="2.70" fill="#b0c8e0" stroke="#555" stroke-width="0.45" />
<circle cx="214.10" cy="254.29" r="2.70" fill="#3050b8" stroke="#555" stroke-width="0.45" />
<circle cx="221.20" cy="254.29" r="2.70" fill="#a0b8e0" stroke="#555" stroke-width="0.45" />
<circle cx="228.30" cy="254.29" r="2.70" fill="#b01c2c" stroke="#555" stroke-width="0.45" />
<circle cx="235.30" cy="254.29" r="2.70" fill="#e87a5a" stroke="#555" stroke-width="0.45" />
<circle cx="242.40" cy="254.29" r="2.70" fill="#f08a68" stroke="#555" stroke-width="0.45" />
<text x="195.00" y="264.07" font-size="6.7" fill="#4b5fa6" stroke="#4b5fa6" stroke-width="0.05" text-anchor="end" font-style="italic" >Ifi47</text>
<line x1="196.00" y1="261.86" x2="201.30" y2="261.86" stroke="#222" stroke-width="0.8" />
<circle cx="207.00" cy="261.86" r="1.90" fill="#7890c8" stroke="#555" stroke-width="0.45" />
<circle cx="214.10" cy="261.86" r="1.90" fill="#8aa0d0" stroke="#555" stroke-width="0.45" />
<circle cx="221.20" cy="261.86" r="1.90" fill="#4060b0" stroke="#555" stroke-width="0.45" />
<circle cx="228.30" cy="261.86" r="1.90" fill="#b01c2c" stroke="#555" stroke-width="0.45" />
<circle cx="235.30" cy="261.86" r="1.90" fill="#d04a3a" stroke="#555" stroke-width="0.45" />
<circle cx="242.40" cy="261.86" r="1.90" fill="#e07070" stroke="#555" stroke-width="0.45" />
<text x="195.00" y="271.64" font-size="6.7" fill="#4b5fa6" stroke="#4b5fa6" stroke-width="0.05" text-anchor="end" font-style="italic" >Ifngr1</text>
<line x1="196.00" y1="269.43" x2="201.30" y2="269.43" stroke="#222" stroke-width="0.8" />
<circle cx="207.00" cy="269.43" r="2.00" fill="#3050a8" stroke="#555" stroke-width="0.45" />
<circle cx="214.10" cy="269.43" r="2.00" fill="#8aa0d0" stroke="#555" stroke-width="0.45" />
<circle cx="221.20" cy="269.43" r="2.00" fill="#a0b8d8" stroke="#555" stroke-width="0.45" />
<circle cx="228.30" cy="269.43" r="2.00" fill="#c03838" stroke="#555" stroke-width="0.45" />
<circle cx="235.30" cy="269.43" r="2.00" fill="#d04a3a" stroke="#555" stroke-width="0.45" />
<circle cx="242.40" cy="269.43" r="2.00" fill="#b01c2c" stroke="#555" stroke-width="0.45" />
<text x="195.00" y="279.21" font-size="6.7" fill="#4b5fa6" stroke="#4b5fa6" stroke-width="0.05" text-anchor="end" font-style="italic" >Igtp</text>
<line x1="196.00" y1="277.00" x2="201.30" y2="277.00" stroke="#222" stroke-width="0.8" />
<circle cx="207.00" cy="277.00" r="1.50" fill="#6080b8" stroke="#555" stroke-width="0.45" />
<circle cx="214.10" cy="277.00" r="1.50" fill="#3a50a8" stroke="#555" stroke-width="0.45" />
<circle cx="221.20" cy="277.00" r="1.50" fill="#6080b8" stroke="#555" stroke-width="0.45" />
<circle cx="228.30" cy="277.00" r="1.50" fill="#c83848" stroke="#555" stroke-width="0.45" />
<circle cx="235.30" cy="277.00" r="1.50" fill="#c03040" stroke="#555" stroke-width="0.45" />
<circle cx="242.40" cy="277.00" r="1.50" fill="#d06060" stroke="#555" stroke-width="0.45" />
<text x="195.00" y="286.78" font-size="6.7" fill="#4b5fa6" stroke="#4b5fa6" stroke-width="0.05" text-anchor="end" font-style="italic" >Irf1</text>
<line x1="196.00" y1="284.57" x2="201.30" y2="284.57" stroke="#222" stroke-width="0.8" />
<circle cx="207.00" cy="284.57" r="1.60" fill="#3050a8" stroke="#555" stroke-width="0.45" />
<circle cx="214.10" cy="284.57" r="1.60" fill="#3a50a8" stroke="#555" stroke-width="0.45" />
<circle cx="221.20" cy="284.57" r="1.60" fill="#6080c0" stroke="#555" stroke-width="0.45" />
<circle cx="228.30" cy="284.57" r="1.60" fill="#f0b8b0" stroke="#555" stroke-width="0.45" />
<circle cx="235.30" cy="284.57" r="1.60" fill="#b01c2c" stroke="#555" stroke-width="0.45" />
<circle cx="242.40" cy="284.57" r="1.60" fill="#e08070" stroke="#555" stroke-width="0.45" />
<text x="195.00" y="294.35" font-size="6.7" fill="#4b5fa6" stroke="#4b5fa6" stroke-width="0.05" text-anchor="end" font-style="italic" >Irf7</text>
<line x1="196.00" y1="292.14" x2="201.30" y2="292.14" stroke="#222" stroke-width="0.8" />
<circle cx="207.00" cy="292.14" r="1.10" fill="#7080b0" stroke="#555" stroke-width="0.45" />
<circle cx="214.10" cy="292.14" r="1.10" fill="#3a4a98" stroke="#555" stroke-width="0.45" />
<circle cx="221.20" cy="292.14" r="1.10" fill="#7080b0" stroke="#555" stroke-width="0.45" />
<circle cx="228.30" cy="292.14" r="1.10" fill="#c86070" stroke="#555" stroke-width="0.45" />
<circle cx="235.30" cy="292.14" r="1.10" fill="#a01830" stroke="#555" stroke-width="0.45" />
<circle cx="242.40" cy="292.14" r="1.10" fill="#b09090" stroke="#555" stroke-width="0.45" />
<text x="195.00" y="301.92" font-size="6.7" fill="#4b5fa6" stroke="#4b5fa6" stroke-width="0.05" text-anchor="end" font-style="italic" >Isg15</text>
<line x1="196.00" y1="299.71" x2="201.30" y2="299.71" stroke="#222" stroke-width="0.8" />
<circle cx="207.00" cy="299.71" r="1.10" fill="#7080b0" stroke="#555" stroke-width="0.45" />
<circle cx="214.10" cy="299.71" r="1.10" fill="#3a4a98" stroke="#555" stroke-width="0.45" />
<circle cx="221.20" cy="299.71" r="1.10" fill="#7080b0" stroke="#555" stroke-width="0.45" />
<circle cx="228.30" cy="299.71" r="1.10" fill="#a01830" stroke="#555" stroke-width="0.45" />
<circle cx="235.30" cy="299.71" r="1.10" fill="#a01830" stroke="#555" stroke-width="0.45" />
<circle cx="242.40" cy="299.71" r="1.10" fill="#a0a0b0" stroke="#555" stroke-width="0.45" />
<text x="195.00" y="309.49" font-size="6.7" fill="#4b5fa6" stroke="#4b5fa6" stroke-width="0.05" text-anchor="end" font-style="italic" >Stat1</text>
<line x1="196.00" y1="307.28" x2="201.30" y2="307.28" stroke="#222" stroke-width="0.8" />
<circle cx="207.00" cy="307.28" r="2.60" fill="#8090c8" stroke="#555" stroke-width="0.45" />
<circle cx="214.10" cy="307.28" r="2.60" fill="#3a4ab0" stroke="#555" stroke-width="0.45" />
<circle cx="221.20" cy="307.28" r="2.60" fill="#5060b8" stroke="#555" stroke-width="0.45" />
<circle cx="228.30" cy="307.28" r="2.60" fill="#f0b0b0" stroke="#555" stroke-width="0.45" />
<circle cx="235.30" cy="307.28" r="2.60" fill="#a01830" stroke="#555" stroke-width="0.45" />
<circle cx="242.40" cy="307.28" r="2.60" fill="#f0a098" stroke="#555" stroke-width="0.45" />
<text x="195.00" y="317.06" font-size="6.7" fill="#5cb880" stroke="#5cb880" stroke-width="0.05" text-anchor="end" font-style="italic" >Ly6a</text>
<line x1="196.00" y1="314.85" x2="201.30" y2="314.85" stroke="#222" stroke-width="0.8" />
<circle cx="207.00" cy="314.85" r="1.50" fill="#6070a8" stroke="#555" stroke-width="0.45" />
<circle cx="214.10" cy="314.85" r="1.50" fill="#2a3aa0" stroke="#555" stroke-width="0.45" />
<circle cx="221.20" cy="314.85" r="1.50" fill="#4050a8" stroke="#555" stroke-width="0.45" />
<circle cx="228.30" cy="314.85" r="1.50" fill="#d8a0a0" stroke="#555" stroke-width="0.45" />
<circle cx="235.30" cy="314.85" r="1.50" fill="#802030" stroke="#555" stroke-width="0.45" />
<circle cx="242.40" cy="314.85" r="1.50" fill="#e0d0c8" stroke="#555" stroke-width="0.45" />
<text x="195.00" y="324.63" font-size="6.7" fill="#5cb880" stroke="#5cb880" stroke-width="0.05" text-anchor="end" font-style="italic" >Cd40lg</text>
<line x1="196.00" y1="322.42" x2="201.30" y2="322.42" stroke="#222" stroke-width="0.8" />
<circle cx="207.00" cy="322.42" r="1.00" fill="#6070a0" stroke="#555" stroke-width="0.45" />
<circle cx="214.10" cy="322.42" r="1.00" fill="#6070a0" stroke="#555" stroke-width="0.45" />
<circle cx="221.20" cy="322.42" r="1.00" fill="#6070a0" stroke="#555" stroke-width="0.45" />
<circle cx="228.30" cy="322.42" r="1.00" fill="#a07080" stroke="#555" stroke-width="0.45" />
<circle cx="235.30" cy="322.42" r="1.00" fill="#8090a0" stroke="#555" stroke-width="0.45" />
<circle cx="242.40" cy="322.42" r="1.00" fill="#301820" stroke="#555" stroke-width="0.45" />
<text x="195.00" y="332.20" font-size="6.7" fill="#5cb880" stroke="#5cb880" stroke-width="0.05" text-anchor="end" font-style="italic" >Cd44</text>
<line x1="196.00" y1="329.99" x2="201.30" y2="329.99" stroke="#222" stroke-width="0.8" />
<circle cx="207.00" cy="329.99" r="2.00" fill="#506090" stroke="#555" stroke-width="0.45" />
<circle cx="214.10" cy="329.99" r="2.00" fill="#7080b0" stroke="#555" stroke-width="0.45" />
<circle cx="221.20" cy="329.99" r="2.00" fill="#3a4a90" stroke="#555" stroke-width="0.45" />
<circle cx="228.30" cy="329.99" r="2.00" fill="#e0a0a0" stroke="#555" stroke-width="0.45" />
<circle cx="235.30" cy="329.99" r="2.00" fill="#902030" stroke="#555" stroke-width="0.45" />
<circle cx="242.40" cy="329.99" r="2.00" fill="#d0a0a0" stroke="#555" stroke-width="0.45" />
<text x="195.00" y="339.77" font-size="6.7" fill="#5cb880" stroke="#5cb880" stroke-width="0.05" text-anchor="end" font-style="italic" >Cd5</text>
<line x1="196.00" y1="337.56" x2="201.30" y2="337.56" stroke="#222" stroke-width="0.8" />
<circle cx="207.00" cy="337.56" r="2.20" fill="#c0d0e0" stroke="#555" stroke-width="0.45" />
<circle cx="214.10" cy="337.56" r="2.20" fill="#8090c0" stroke="#555" stroke-width="0.45" />
<circle cx="221.20" cy="337.56" r="2.20" fill="#3a4ab0" stroke="#555" stroke-width="0.45" />
<circle cx="228.30" cy="337.56" r="2.20" fill="#a02030" stroke="#555" stroke-width="0.45" />
<circle cx="235.30" cy="337.56" r="2.20" fill="#7080c0" stroke="#555" stroke-width="0.45" />
<circle cx="242.40" cy="337.56" r="2.20" fill="#c04040" stroke="#555" stroke-width="0.45" />
<text x="195.00" y="347.34" font-size="6.7" fill="#5cb880" stroke="#5cb880" stroke-width="0.05" text-anchor="end" font-style="italic" >Icos</text>
<line x1="196.00" y1="345.13" x2="201.30" y2="345.13" stroke="#222" stroke-width="0.8" />
<circle cx="207.00" cy="345.13" r="1.30" fill="#7080b0" stroke="#555" stroke-width="0.45" />
<circle cx="214.10" cy="345.13" r="1.30" fill="#8090b8" stroke="#555" stroke-width="0.45" />
<circle cx="221.20" cy="345.13" r="1.30" fill="#2a3a80" stroke="#555" stroke-width="0.45" />
<circle cx="228.30" cy="345.13" r="1.30" fill="#a02030" stroke="#555" stroke-width="0.45" />
<circle cx="235.30" cy="345.13" r="1.30" fill="#a06070" stroke="#555" stroke-width="0.45" />
<circle cx="242.40" cy="345.13" r="1.30" fill="#902030" stroke="#555" stroke-width="0.45" />
<text x="195.00" y="354.91" font-size="6.7" fill="#5cb880" stroke="#5cb880" stroke-width="0.05" text-anchor="end" font-style="italic" >Il2rg</text>
<line x1="196.00" y1="352.70" x2="201.30" y2="352.70" stroke="#222" stroke-width="0.8" />
<circle cx="207.00" cy="352.70" r="2.80" fill="#c0d0e8" stroke="#555" stroke-width="0.45" />
<circle cx="214.10" cy="352.70" r="2.80" fill="#3050b0" stroke="#555" stroke-width="0.45" />
<circle cx="221.20" cy="352.70" r="2.80" fill="#6080c8" stroke="#555" stroke-width="0.45" />
<circle cx="228.30" cy="352.70" r="2.80" fill="#c83838" stroke="#555" stroke-width="0.45" />
<circle cx="235.30" cy="352.70" r="2.80" fill="#b02030" stroke="#555" stroke-width="0.45" />
<circle cx="242.40" cy="352.70" r="2.80" fill="#e06048" stroke="#555" stroke-width="0.45" />
<text x="195.00" y="362.48" font-size="6.7" fill="#5cb880" stroke="#5cb880" stroke-width="0.05" text-anchor="end" font-style="italic" >Cd27</text>
<line x1="196.00" y1="360.27" x2="201.30" y2="360.27" stroke="#222" stroke-width="0.8" />
<circle cx="207.00" cy="360.27" r="2.50" fill="#d07050" stroke="#555" stroke-width="0.45" />
<circle cx="214.10" cy="360.27" r="2.50" fill="#a02020" stroke="#555" stroke-width="0.45" />
<circle cx="221.20" cy="360.27" r="2.50" fill="#e0c0a0" stroke="#555" stroke-width="0.45" />
<circle cx="228.30" cy="360.27" r="2.50" fill="#3050a0" stroke="#555" stroke-width="0.45" />
<circle cx="235.30" cy="360.27" r="2.50" fill="#90a8d0" stroke="#555" stroke-width="0.45" />
<circle cx="242.40" cy="360.27" r="2.50" fill="#90a8d0" stroke="#555" stroke-width="0.45" />
<text x="195.00" y="370.05" font-size="6.7" fill="#8a78bd" stroke="#8a78bd" stroke-width="0.05" text-anchor="end" font-style="italic" >Snx2</text>
<line x1="196.00" y1="367.84" x2="201.30" y2="367.84" stroke="#222" stroke-width="0.8" />
<circle cx="207.00" cy="367.84" r="1.50" fill="#304080" stroke="#555" stroke-width="0.45" />
<circle cx="214.10" cy="367.84" r="1.50" fill="#304080" stroke="#555" stroke-width="0.45" />
<circle cx="221.20" cy="367.84" r="1.50" fill="#a0b0c8" stroke="#555" stroke-width="0.45" />
<circle cx="228.30" cy="367.84" r="1.50" fill="#e09070" stroke="#555" stroke-width="0.45" />
<circle cx="235.30" cy="367.84" r="1.50" fill="#a02020" stroke="#555" stroke-width="0.45" />
<circle cx="242.40" cy="367.84" r="1.50" fill="#d0c0c0" stroke="#555" stroke-width="0.45" />
<text x="195.00" y="377.62" font-size="6.7" fill="#8a78bd" stroke="#8a78bd" stroke-width="0.05" text-anchor="end" font-style="italic" >Sem1</text>
<line x1="196.00" y1="375.41" x2="201.30" y2="375.41" stroke="#222" stroke-width="0.8" />
<circle cx="207.00" cy="375.41" r="2.90" fill="#a0b8e0" stroke="#555" stroke-width="0.45" />
<circle cx="214.10" cy="375.41" r="2.90" fill="#3a55b8" stroke="#555" stroke-width="0.45" />
<circle cx="221.20" cy="375.41" r="2.90" fill="#3a55b8" stroke="#555" stroke-width="0.45" />
<circle cx="228.30" cy="375.41" r="2.90" fill="#f09070" stroke="#555" stroke-width="0.45" />
<circle cx="235.30" cy="375.41" r="2.90" fill="#f09070" stroke="#555" stroke-width="0.45" />
<circle cx="242.40" cy="375.41" r="2.90" fill="#b01c2c" stroke="#555" stroke-width="0.45" />
<text x="195.00" y="385.19" font-size="6.7" fill="#8a78bd" stroke="#8a78bd" stroke-width="0.05" text-anchor="end" font-style="italic" >Cops9</text>
<line x1="196.00" y1="382.98" x2="201.30" y2="382.98" stroke="#222" stroke-width="0.8" />
<circle cx="207.00" cy="382.98" r="2.70" fill="#8aa0d0" stroke="#555" stroke-width="0.45" />
<circle cx="214.10" cy="382.98" r="2.70" fill="#3a50b0" stroke="#555" stroke-width="0.45" />
<circle cx="221.20" cy="382.98" r="2.70" fill="#3a50b0" stroke="#555" stroke-width="0.45" />
<circle cx="228.30" cy="382.98" r="2.70" fill="#f0b0a0" stroke="#555" stroke-width="0.45" />
<circle cx="235.30" cy="382.98" r="2.70" fill="#e07060" stroke="#555" stroke-width="0.45" />
<circle cx="242.40" cy="382.98" r="2.70" fill="#b01c2c" stroke="#555" stroke-width="0.45" />
<line x1="207.00" y1="390.40" x2="207.00" y2="392.60" stroke="#222" stroke-width="0.6" />
<line x1="214.10" y1="390.40" x2="214.10" y2="392.60" stroke="#222" stroke-width="0.6" />
<line x1="221.20" y1="390.40" x2="221.20" y2="392.60" stroke="#222" stroke-width="0.6" />
<line x1="228.30" y1="390.40" x2="228.30" y2="392.60" stroke="#222" stroke-width="0.6" />
<line x1="235.30" y1="390.40" x2="235.30" y2="392.60" stroke="#222" stroke-width="0.6" />
<line x1="242.40" y1="390.40" x2="242.40" y2="392.60" stroke="#222" stroke-width="0.6" />
<path d="M204.3,393.6 V398.4 H222.7 V393.6" fill="none" stroke="#222" stroke-width="0.9"/>
<path d="M226.7,393.6 V398.4 H245.6 V393.6" fill="none" stroke="#222" stroke-width="0.9"/>
<text x="208.60" y="407.14" font-size="6.8" fill="#444" stroke="#444" stroke-width="0.05" text-anchor="middle" textLength="19.0" lengthAdjust="spacingAndGlyphs" >APRIL-</text>
<text x="208.90" y="414.84" font-size="6.8" fill="#444" stroke="#444" stroke-width="0.05" text-anchor="middle" textLength="20.8" lengthAdjust="spacingAndGlyphs" >BB-1XX</text>
<text x="241.30" y="407.14" font-size="6.8" fill="#444" stroke="#444" stroke-width="0.05" text-anchor="middle" textLength="29.4" lengthAdjust="spacingAndGlyphs" >APRIL-BB-</text>
<text x="241.30" y="414.84" font-size="6.8" fill="#444" stroke="#444" stroke-width="0.05" text-anchor="middle" textLength="28.4" lengthAdjust="spacingAndGlyphs" >1XX/IL-18</text>
<line x1="170.50" y1="197.80" x2="170.50" y2="249.60" stroke="#e0505c" stroke-width="0.9" />
<line x1="170.50" y1="253.00" x2="170.50" y2="310.20" stroke="#4b5fa6" stroke-width="0.9" />
<line x1="170.50" y1="312.70" x2="170.50" y2="362.30" stroke="#5cb880" stroke-width="0.9" />
<line x1="170.50" y1="365.50" x2="170.50" y2="384.60" stroke="#8a78bd" stroke-width="0.9" />
<text transform="translate(156.50,223.70) rotate(-90)" x="0" y="2.24" font-size="6.8" fill="#e0505c" stroke="#e0505c" stroke-width="0.05" text-anchor="middle" textLength="22.5" lengthAdjust="spacingAndGlyphs" >antigen</text>
<text transform="translate(163.90,224.00) rotate(-90)" x="0" y="2.24" font-size="6.8" fill="#e0505c" stroke="#e0505c" stroke-width="0.05" text-anchor="middle" textLength="36.7" lengthAdjust="spacingAndGlyphs" >presentation</text>
<text transform="translate(156.40,281.00) rotate(-90)" x="0" y="2.24" font-size="6.8" fill="#4b5fa6" stroke="#4b5fa6" stroke-width="0.05" text-anchor="middle" textLength="30.7" lengthAdjust="spacingAndGlyphs" >interferon</text>
<text transform="translate(164.40,281.20) rotate(-90)" x="0" y="2.24" font-size="6.8" fill="#4b5fa6" stroke="#4b5fa6" stroke-width="0.05" text-anchor="middle" textLength="32.5" lengthAdjust="spacingAndGlyphs" >stimulation</text>
<text transform="translate(156.50,336.70) rotate(-90)" x="0" y="2.24" font-size="6.8" fill="#5cb880" stroke="#5cb880" stroke-width="0.05" text-anchor="middle" textLength="47.4" lengthAdjust="spacingAndGlyphs" >T cell activation/</text>
<text transform="translate(164.20,337.50) rotate(-90)" x="0" y="2.24" font-size="6.8" fill="#5cb880" stroke="#5cb880" stroke-width="0.05" text-anchor="middle" textLength="27.0" lengthAdjust="spacingAndGlyphs" >stemness</text>
<text transform="translate(156.50,375.20) rotate(-90)" x="0" y="2.24" font-size="6.8" fill="#8a78bd" stroke="#8a78bd" stroke-width="0.05" text-anchor="middle" textLength="8.5" lengthAdjust="spacingAndGlyphs" >cell</text>
<text transform="translate(164.20,375.40) rotate(-90)" x="0" y="2.24" font-size="6.8" fill="#8a78bd" stroke="#8a78bd" stroke-width="0.05" text-anchor="middle" textLength="14.7" lengthAdjust="spacingAndGlyphs" >cycle</text>
<text x="317.70" y="189.17" font-size="9.0" fill="#231f20" text-anchor="middle" textLength="39.6" lengthAdjust="spacingAndGlyphs" >total T-cell</text>
<text x="317.70" y="199.17" font-size="9.0" fill="#231f20" text-anchor="middle" textLength="41.5" lengthAdjust="spacingAndGlyphs" >abundance</text>
<line x1="297.30" y1="207.00" x2="297.30" y2="268.10" stroke="#222" stroke-width="0.9" />
<line x1="296.90" y1="267.70" x2="337.30" y2="267.70" stroke="#222" stroke-width="0.9" />
<line x1="294.30" y1="212.30" x2="297.30" y2="212.30" stroke="#222" stroke-width="0.8" />
<text x="293.60" y="214.61" font-size="7.0" fill="#444" stroke="#444" stroke-width="0.05" text-anchor="end" >10</text>
<line x1="294.30" y1="240.00" x2="297.30" y2="240.00" stroke="#222" stroke-width="0.8" />
<text x="293.60" y="242.31" font-size="7.0" fill="#444" stroke="#444" stroke-width="0.05" text-anchor="end" >5</text>
<line x1="294.30" y1="267.70" x2="297.30" y2="267.70" stroke="#222" stroke-width="0.8" />
<text x="293.60" y="270.01" font-size="7.0" fill="#444" stroke="#444" stroke-width="0.05" text-anchor="end" >0</text>
<text transform="translate(276.20,238.20) rotate(-90)" x="0" y="2.94" font-size="8.9" fill="#444" text-anchor="middle" textLength="79" lengthAdjust="spacingAndGlyphs" >% CD3+ of CD11b-/CD19-</text>
<text x="317.90" y="211.74" font-size="7.4" fill="#333" stroke="#333" stroke-width="0.05" text-anchor="middle" textLength="15.5" lengthAdjust="spacingAndGlyphs" >all ns</text>
<line x1="304.60" y1="212.30" x2="331.50" y2="212.30" stroke="#222" stroke-width="0.8" />
<circle cx="306.50" cy="226.70" r="1.15" fill="#e4493f" stroke="none" stroke-width="0.3" />
<circle cx="304.80" cy="249.42" r="1.15" fill="#e4493f" stroke="none" stroke-width="0.3" />
<circle cx="308.20" cy="251.08" r="1.15" fill="#e4493f" stroke="none" stroke-width="0.3" />
<circle cx="306.50" cy="253.85" r="1.15" fill="#e4493f" stroke="none" stroke-width="0.3" />
<circle cx="306.50" cy="257.73" r="1.15" fill="#e4493f" stroke="none" stroke-width="0.3" />
<circle cx="306.50" cy="262.16" r="1.15" fill="#e4493f" stroke="none" stroke-width="0.3" />
<circle cx="301.40" cy="264.93" r="1.15" fill="#e4493f" stroke="none" stroke-width="0.3" />
<circle cx="304.80" cy="265.48" r="1.15" fill="#e4493f" stroke="none" stroke-width="0.3" />
<circle cx="308.20" cy="266.04" r="1.15" fill="#e4493f" stroke="none" stroke-width="0.3" />
<circle cx="311.60" cy="266.59" r="1.15" fill="#e4493f" stroke="none" stroke-width="0.3" />
<line x1="301.00" y1="260.50" x2="312.00" y2="260.50" stroke="#e4493f" stroke-width="0.9" />
<circle cx="318.20" cy="215.07" r="1.15" fill="#1f3f8f" stroke="none" stroke-width="0.3" />
<circle cx="318.20" cy="217.29" r="1.15" fill="#1f3f8f" stroke="none" stroke-width="0.3" />
<circle cx="318.20" cy="225.60" r="1.15" fill="#1f3f8f" stroke="none" stroke-width="0.3" />
<circle cx="318.20" cy="237.23" r="1.15" fill="#1f3f8f" stroke="none" stroke-width="0.3" />
<circle cx="318.20" cy="243.88" r="1.15" fill="#1f3f8f" stroke="none" stroke-width="0.3" />
<circle cx="316.50" cy="261.05" r="1.15" fill="#1f3f8f" stroke="none" stroke-width="0.3" />
<circle cx="319.90" cy="262.16" r="1.15" fill="#1f3f8f" stroke="none" stroke-width="0.3" />
<circle cx="316.50" cy="263.27" r="1.15" fill="#1f3f8f" stroke="none" stroke-width="0.3" />
<circle cx="319.90" cy="263.82" r="1.15" fill="#1f3f8f" stroke="none" stroke-width="0.3" />
<circle cx="318.20" cy="266.59" r="1.15" fill="#1f3f8f" stroke="none" stroke-width="0.3" />
<line x1="312.70" y1="247.20" x2="323.70" y2="247.20" stroke="#1f3f8f" stroke-width="0.9" />
<circle cx="330.00" cy="251.08" r="1.15" fill="#8a8a8a" stroke="none" stroke-width="0.3" />
<circle cx="328.30" cy="253.85" r="1.15" fill="#8a8a8a" stroke="none" stroke-width="0.3" />
<circle cx="331.70" cy="255.51" r="1.15" fill="#8a8a8a" stroke="none" stroke-width="0.3" />
<circle cx="328.30" cy="256.62" r="1.15" fill="#8a8a8a" stroke="none" stroke-width="0.3" />
<circle cx="331.70" cy="257.73" r="1.15" fill="#8a8a8a" stroke="none" stroke-width="0.3" />
<circle cx="328.30" cy="262.71" r="1.15" fill="#8a8a8a" stroke="none" stroke-width="0.3" />
<circle cx="331.70" cy="263.27" r="1.15" fill="#8a8a8a" stroke="none" stroke-width="0.3" />
<text x="403.00" y="188.47" font-size="9.0" fill="#231f20" text-anchor="middle" textLength="53.5" lengthAdjust="spacingAndGlyphs" >CD45.2+ host</text>
<text x="403.00" y="199.37" font-size="9.0" fill="#231f20" text-anchor="middle" textLength="22" lengthAdjust="spacingAndGlyphs" >T-cells</text>
<line x1="382.00" y1="206.50" x2="382.00" y2="267.90" stroke="#222" stroke-width="0.9" />
<line x1="381.60" y1="267.50" x2="423.80" y2="267.50" stroke="#222" stroke-width="0.9" />
<line x1="379.00" y1="211.60" x2="382.00" y2="211.60" stroke="#222" stroke-width="0.8" />
<text x="376.30" y="213.91" font-size="7.0" fill="#444" stroke="#444" stroke-width="0.05" text-anchor="end" >100</text>
<line x1="379.00" y1="239.55" x2="382.00" y2="239.55" stroke="#222" stroke-width="0.8" />
<text x="376.30" y="241.86" font-size="7.0" fill="#444" stroke="#444" stroke-width="0.05" text-anchor="end" >50</text>
<line x1="379.00" y1="267.50" x2="382.00" y2="267.50" stroke="#222" stroke-width="0.8" />
<text x="376.30" y="269.81" font-size="7.0" fill="#444" stroke="#444" stroke-width="0.05" text-anchor="end" >0</text>
<text transform="translate(357.00,236.60) rotate(-90)" x="0" y="2.94" font-size="8.9" fill="#444" text-anchor="middle" textLength="52.3" lengthAdjust="spacingAndGlyphs" >% CD45.2 of CD3</text>
<path d="M393.6,220.6 V213.5 H411.4 V220.6" fill="none" stroke="#222" stroke-width="0.8"/>
<text x="402.50" y="211.84" font-size="6.8" fill="#333" stroke="#333" stroke-width="0.05" text-anchor="middle" textLength="6.5" lengthAdjust="spacingAndGlyphs" >ns</text>
<circle cx="394.30" cy="228.37" r="1.15" fill="#e4493f" stroke="none" stroke-width="0.3" />
<circle cx="390.90" cy="231.16" r="1.15" fill="#e4493f" stroke="none" stroke-width="0.3" />
<circle cx="394.30" cy="232.28" r="1.15" fill="#e4493f" stroke="none" stroke-width="0.3" />
<circle cx="397.70" cy="232.84" r="1.15" fill="#e4493f" stroke="none" stroke-width="0.3" />
<circle cx="394.30" cy="233.96" r="1.15" fill="#e4493f" stroke="none" stroke-width="0.3" />
<circle cx="394.30" cy="236.75" r="1.15" fill="#e4493f" stroke="none" stroke-width="0.3" />
<circle cx="394.30" cy="242.34" r="1.15" fill="#e4493f" stroke="none" stroke-width="0.3" />
<circle cx="394.30" cy="245.14" r="1.15" fill="#e4493f" stroke="none" stroke-width="0.3" />
<circle cx="394.30" cy="247.94" r="1.15" fill="#e4493f" stroke="none" stroke-width="0.3" />
<circle cx="394.30" cy="250.73" r="1.15" fill="#e4493f" stroke="none" stroke-width="0.3" />
<line x1="388.30" y1="238.43" x2="400.30" y2="238.43" stroke="#e4493f" stroke-width="0.9" />
<circle cx="402.40" cy="235.64" r="1.15" fill="#1f3f8f" stroke="none" stroke-width="0.3" />
<circle cx="405.80" cy="236.20" r="1.15" fill="#1f3f8f" stroke="none" stroke-width="0.3" />
<circle cx="409.20" cy="236.75" r="1.15" fill="#1f3f8f" stroke="none" stroke-width="0.3" />
<circle cx="412.60" cy="236.75" r="1.15" fill="#1f3f8f" stroke="none" stroke-width="0.3" />
<circle cx="416.00" cy="237.31" r="1.15" fill="#1f3f8f" stroke="none" stroke-width="0.3" />
<circle cx="409.20" cy="237.87" r="1.15" fill="#1f3f8f" stroke="none" stroke-width="0.3" />
<circle cx="409.20" cy="247.94" r="1.15" fill="#1f3f8f" stroke="none" stroke-width="0.3" />
<circle cx="409.20" cy="250.73" r="1.15" fill="#1f3f8f" stroke="none" stroke-width="0.3" />
<circle cx="407.50" cy="253.53" r="1.15" fill="#1f3f8f" stroke="none" stroke-width="0.3" />
<circle cx="410.90" cy="255.20" r="1.15" fill="#1f3f8f" stroke="none" stroke-width="0.3" />
<line x1="403.20" y1="236.75" x2="415.20" y2="236.75" stroke="#1f3f8f" stroke-width="0.9" />
<text x="482.50" y="188.37" font-size="9.0" fill="#231f20" text-anchor="middle" textLength="61.6" lengthAdjust="spacingAndGlyphs" >CD45.1+ donor</text>
<text x="481.50" y="198.97" font-size="9.0" fill="#231f20" text-anchor="middle" textLength="44.3" lengthAdjust="spacingAndGlyphs" >CAR T-cells</text>
<line x1="460.40" y1="205.60" x2="460.40" y2="268.10" stroke="#222" stroke-width="0.9" />
<line x1="460.00" y1="267.70" x2="502.70" y2="267.70" stroke="#222" stroke-width="0.9" />
<line x1="457.40" y1="207.00" x2="460.40" y2="207.00" stroke="#222" stroke-width="0.8" />
<text x="456.80" y="209.31" font-size="7.0" fill="#444" stroke="#444" stroke-width="0.05" text-anchor="end" >80</text>
<line x1="457.40" y1="222.17" x2="460.40" y2="222.17" stroke="#222" stroke-width="0.8" />
<text x="456.80" y="224.48" font-size="7.0" fill="#444" stroke="#444" stroke-width="0.05" text-anchor="end" >60</text>
<line x1="457.40" y1="237.35" x2="460.40" y2="237.35" stroke="#222" stroke-width="0.8" />
<text x="456.80" y="239.66" font-size="7.0" fill="#444" stroke="#444" stroke-width="0.05" text-anchor="end" >40</text>
<line x1="457.40" y1="252.52" x2="460.40" y2="252.52" stroke="#222" stroke-width="0.8" />
<text x="456.80" y="254.83" font-size="7.0" fill="#444" stroke="#444" stroke-width="0.05" text-anchor="end" >20</text>
<line x1="457.40" y1="267.70" x2="460.40" y2="267.70" stroke="#222" stroke-width="0.8" />
<text x="456.80" y="270.01" font-size="7.0" fill="#444" stroke="#444" stroke-width="0.05" text-anchor="end" >0</text>
<text transform="translate(440.80,236.20) rotate(-90)" x="0" y="2.94" font-size="8.9" fill="#444" text-anchor="middle" textLength="53" lengthAdjust="spacingAndGlyphs" >% CD45.1 of CD3</text>
<path d="M473.8,220.4 V214.2 H491.5 V220.4" fill="none" stroke="#222" stroke-width="0.8"/>
<text x="482.50" y="213.44" font-size="6.8" fill="#333" stroke="#333" stroke-width="0.05" text-anchor="middle" >**</text>
<circle cx="474.80" cy="231.28" r="1.15" fill="#e4493f" stroke="none" stroke-width="0.3" />
<circle cx="474.80" cy="235.83" r="1.15" fill="#e4493f" stroke="none" stroke-width="0.3" />
<circle cx="474.80" cy="241.14" r="1.15" fill="#e4493f" stroke="none" stroke-width="0.3" />
<circle cx="473.10" cy="243.42" r="1.15" fill="#e4493f" stroke="none" stroke-width="0.3" />
<circle cx="476.50" cy="244.94" r="1.15" fill="#e4493f" stroke="none" stroke-width="0.3" />
<circle cx="471.40" cy="245.69" r="1.15" fill="#e4493f" stroke="none" stroke-width="0.3" />
<circle cx="474.80" cy="246.45" r="1.15" fill="#e4493f" stroke="none" stroke-width="0.3" />
<circle cx="478.20" cy="247.21" r="1.15" fill="#e4493f" stroke="none" stroke-width="0.3" />
<circle cx="473.10" cy="248.73" r="1.15" fill="#e4493f" stroke="none" stroke-width="0.3" />
<circle cx="476.50" cy="249.49" r="1.15" fill="#e4493f" stroke="none" stroke-width="0.3" />
<line x1="468.80" y1="244.94" x2="480.80" y2="244.94" stroke="#e4493f" stroke-width="0.9" />
<circle cx="490.20" cy="220.65" r="1.15" fill="#1f3f8f" stroke="none" stroke-width="0.3" />
<circle cx="486.80" cy="223.69" r="1.15" fill="#1f3f8f" stroke="none" stroke-width="0.3" />
<circle cx="490.20" cy="224.45" r="1.15" fill="#1f3f8f" stroke="none" stroke-width="0.3" />
<circle cx="493.60" cy="225.21" r="1.15" fill="#1f3f8f" stroke="none" stroke-width="0.3" />
<circle cx="490.20" cy="233.55" r="1.15" fill="#1f3f8f" stroke="none" stroke-width="0.3" />
<circle cx="485.10" cy="239.62" r="1.15" fill="#1f3f8f" stroke="none" stroke-width="0.3" />
<circle cx="488.50" cy="240.38" r="1.15" fill="#1f3f8f" stroke="none" stroke-width="0.3" />
<circle cx="491.90" cy="241.14" r="1.15" fill="#1f3f8f" stroke="none" stroke-width="0.3" />
<circle cx="495.30" cy="241.14" r="1.15" fill="#1f3f8f" stroke="none" stroke-width="0.3" />
<line x1="484.20" y1="233.55" x2="496.20" y2="233.55" stroke="#1f3f8f" stroke-width="0.9" />
<text x="318.00" y="307.57" font-size="9.0" fill="#231f20" text-anchor="middle" textLength="61" lengthAdjust="spacingAndGlyphs" >CD45.1+ T-cells</text>
<text x="317.40" y="317.97" font-size="9.0" fill="#231f20" text-anchor="middle" textLength="30.7" lengthAdjust="spacingAndGlyphs" >CD62L+</text>
<line x1="297.30" y1="326.00" x2="297.30" y2="391.60" stroke="#222" stroke-width="0.9" />
<line x1="296.90" y1="391.20" x2="337.30" y2="391.20" stroke="#222" stroke-width="0.9" />
<line x1="294.30" y1="330.20" x2="297.30" y2="330.20" stroke="#222" stroke-width="0.8" />
<text x="293.60" y="332.51" font-size="7.0" fill="#444" stroke="#444" stroke-width="0.05" text-anchor="end" >25</text>
<line x1="294.30" y1="342.40" x2="297.30" y2="342.40" stroke="#222" stroke-width="0.8" />
<text x="293.60" y="344.71" font-size="7.0" fill="#444" stroke="#444" stroke-width="0.05" text-anchor="end" >20</text>
<line x1="294.30" y1="354.60" x2="297.30" y2="354.60" stroke="#222" stroke-width="0.8" />
<text x="293.60" y="356.91" font-size="7.0" fill="#444" stroke="#444" stroke-width="0.05" text-anchor="end" >15</text>
<line x1="294.30" y1="366.80" x2="297.30" y2="366.80" stroke="#222" stroke-width="0.8" />
<text x="293.60" y="369.11" font-size="7.0" fill="#444" stroke="#444" stroke-width="0.05" text-anchor="end" >10</text>
<line x1="294.30" y1="379.00" x2="297.30" y2="379.00" stroke="#222" stroke-width="0.8" />
<text x="293.60" y="381.31" font-size="7.0" fill="#444" stroke="#444" stroke-width="0.05" text-anchor="end" >5</text>
<line x1="294.30" y1="391.20" x2="297.30" y2="391.20" stroke="#222" stroke-width="0.8" />
<text x="293.60" y="393.51" font-size="7.0" fill="#444" stroke="#444" stroke-width="0.05" text-anchor="end" >0</text>
<text transform="translate(275.80,359.90) rotate(-90)" x="0" y="2.94" font-size="8.9" fill="#444" text-anchor="middle" textLength="32.2" lengthAdjust="spacingAndGlyphs" >% CD62L+</text>
<path d="M309.2,331.6 V328.5 H326.5 V355.4" fill="none" stroke="#222" stroke-width="0.8"/>
<text x="318.00" y="328.74" font-size="6.8" fill="#333" stroke="#333" stroke-width="0.05" text-anchor="middle" >***</text>
<circle cx="309.20" cy="335.08" r="1.15" fill="#e4493f" stroke="none" stroke-width="0.3" />
<circle cx="309.20" cy="342.40" r="1.15" fill="#e4493f" stroke="none" stroke-width="0.3" />
<circle cx="305.80" cy="349.72" r="1.15" fill="#e4493f" stroke="none" stroke-width="0.3" />
<circle cx="309.20" cy="349.72" r="1.15" fill="#e4493f" stroke="none" stroke-width="0.3" />
<circle cx="312.60" cy="349.72" r="1.15" fill="#e4493f" stroke="none" stroke-width="0.3" />
<circle cx="309.20" cy="354.60" r="1.15" fill="#e4493f" stroke="none" stroke-width="0.3" />
<circle cx="309.20" cy="359.48" r="1.15" fill="#e4493f" stroke="none" stroke-width="0.3" />
<circle cx="309.20" cy="361.92" r="1.15" fill="#e4493f" stroke="none" stroke-width="0.3" />
<circle cx="307.50" cy="366.80" r="1.15" fill="#e4493f" stroke="none" stroke-width="0.3" />
<circle cx="310.90" cy="368.02" r="1.15" fill="#e4493f" stroke="none" stroke-width="0.3" />
<line x1="303.20" y1="353.38" x2="315.20" y2="353.38" stroke="#e4493f" stroke-width="0.9" />
<circle cx="326.50" cy="358.26" r="1.15" fill="#1f3f8f" stroke="none" stroke-width="0.3" />
<circle cx="324.80" cy="364.36" r="1.15" fill="#1f3f8f" stroke="none" stroke-width="0.3" />
<circle cx="328.20" cy="364.36" r="1.15" fill="#1f3f8f" stroke="none" stroke-width="0.3" />
<circle cx="324.80" cy="369.24" r="1.15" fill="#1f3f8f" stroke="none" stroke-width="0.3" />
<circle cx="328.20" cy="369.24" r="1.15" fill="#1f3f8f" stroke="none" stroke-width="0.3" />
<circle cx="326.50" cy="371.68" r="1.15" fill="#1f3f8f" stroke="none" stroke-width="0.3" />
<circle cx="326.50" cy="374.12" r="1.15" fill="#1f3f8f" stroke="none" stroke-width="0.3" />
<circle cx="326.50" cy="376.56" r="1.15" fill="#1f3f8f" stroke="none" stroke-width="0.3" />
<circle cx="324.80" cy="379.00" r="1.15" fill="#1f3f8f" stroke="none" stroke-width="0.3" />
<circle cx="328.20" cy="380.22" r="1.15" fill="#1f3f8f" stroke="none" stroke-width="0.3" />
<line x1="320.50" y1="369.24" x2="332.50" y2="369.24" stroke="#1f3f8f" stroke-width="0.9" />
<text x="402.50" y="307.67" font-size="9.0" fill="#231f20" text-anchor="middle" textLength="61.5" lengthAdjust="spacingAndGlyphs" >CD45.1+ T-cells</text>
<text x="402.50" y="318.57" font-size="9.0" fill="#231f20" text-anchor="middle" textLength="21.7" lengthAdjust="spacingAndGlyphs" >CD27</text>
<line x1="381.30" y1="329.00" x2="381.30" y2="391.60" stroke="#222" stroke-width="0.9" />
<line x1="380.90" y1="391.20" x2="422.90" y2="391.20" stroke="#222" stroke-width="0.9" />
<line x1="378.30" y1="330.70" x2="381.30" y2="330.70" stroke="#222" stroke-width="0.8" />
<text x="377.30" y="333.01" font-size="7.0" fill="#444" stroke="#444" stroke-width="0.05" text-anchor="end" >15000</text>
<line x1="378.30" y1="350.87" x2="381.30" y2="350.87" stroke="#222" stroke-width="0.8" />
<text x="377.30" y="353.18" font-size="7.0" fill="#444" stroke="#444" stroke-width="0.05" text-anchor="end" >10000</text>
<line x1="378.30" y1="371.03" x2="381.30" y2="371.03" stroke="#222" stroke-width="0.8" />
<text x="377.30" y="373.34" font-size="7.0" fill="#444" stroke="#444" stroke-width="0.05" text-anchor="end" >5000</text>
<line x1="378.30" y1="391.20" x2="381.30" y2="391.20" stroke="#222" stroke-width="0.8" />
<text x="377.30" y="393.51" font-size="7.0" fill="#444" stroke="#444" stroke-width="0.05" text-anchor="end" >0</text>
<text transform="translate(349.80,359.40) rotate(-90)" x="0" y="2.94" font-size="8.9" fill="#444" text-anchor="middle" textLength="30.4" lengthAdjust="spacingAndGlyphs" >CD27 MFI</text>
<path d="M393.5,340.0 V336.0 H411.6 V355.8" fill="none" stroke="#222" stroke-width="0.8"/>
<text x="402.50" y="335.64" font-size="6.8" fill="#333" stroke="#333" stroke-width="0.05" text-anchor="middle" textLength="11" lengthAdjust="spacingAndGlyphs" >****</text>
<circle cx="390.50" cy="342.80" r="1.15" fill="#e4493f" stroke="none" stroke-width="0.3" />
<circle cx="394.00" cy="342.40" r="1.15" fill="#e4493f" stroke="none" stroke-width="0.3" />
<circle cx="397.30" cy="344.01" r="1.15" fill="#e4493f" stroke="none" stroke-width="0.3" />
<circle cx="388.90" cy="346.84" r="1.15" fill="#e4493f" stroke="none" stroke-width="0.3" />
<circle cx="392.50" cy="345.63" r="1.15" fill="#e4493f" stroke="none" stroke-width="0.3" />
<circle cx="396.50" cy="347.24" r="1.15" fill="#e4493f" stroke="none" stroke-width="0.3" />
<circle cx="390.50" cy="350.87" r="1.15" fill="#e4493f" stroke="none" stroke-width="0.3" />
<circle cx="395.50" cy="351.68" r="1.15" fill="#e4493f" stroke="none" stroke-width="0.3" />
<circle cx="388.50" cy="352.89" r="1.15" fill="#e4493f" stroke="none" stroke-width="0.3" />
<circle cx="393.50" cy="354.90" r="1.15" fill="#e4493f" stroke="none" stroke-width="0.3" />
<circle cx="397.50" cy="353.69" r="1.15" fill="#e4493f" stroke="none" stroke-width="0.3" />
<circle cx="391.50" cy="356.92" r="1.15" fill="#e4493f" stroke="none" stroke-width="0.3" />
<circle cx="394.50" cy="358.94" r="1.15" fill="#e4493f" stroke="none" stroke-width="0.3" />
<line x1="387.50" y1="349.66" x2="399.50" y2="349.66" stroke="#e4493f" stroke-width="0.9" />
<circle cx="411.60" cy="358.94" r="1.15" fill="#1f3f8f" stroke="none" stroke-width="0.3" />
<circle cx="408.60" cy="360.95" r="1.15" fill="#1f3f8f" stroke="none" stroke-width="0.3" />
<circle cx="414.60" cy="361.36" r="1.15" fill="#1f3f8f" stroke="none" stroke-width="0.3" />
<circle cx="407.10" cy="362.97" r="1.15" fill="#1f3f8f" stroke="none" stroke-width="0.3" />
<circle cx="412.60" cy="363.37" r="1.15" fill="#1f3f8f" stroke="none" stroke-width="0.3" />
<circle cx="416.10" cy="364.18" r="1.15" fill="#1f3f8f" stroke="none" stroke-width="0.3" />
<circle cx="408.60" cy="375.07" r="1.15" fill="#1f3f8f" stroke="none" stroke-width="0.3" />
<circle cx="413.10" cy="375.47" r="1.15" fill="#1f3f8f" stroke="none" stroke-width="0.3" />
<circle cx="410.60" cy="377.89" r="1.15" fill="#1f3f8f" stroke="none" stroke-width="0.3" />
<circle cx="414.60" cy="379.10" r="1.15" fill="#1f3f8f" stroke="none" stroke-width="0.3" />
<circle cx="407.60" cy="379.10" r="1.15" fill="#1f3f8f" stroke="none" stroke-width="0.3" />
<line x1="405.60" y1="364.99" x2="417.60" y2="364.99" stroke="#1f3f8f" stroke-width="0.9" />
<circle cx="439.00" cy="349.00" r="1.25" fill="#8a2a28" stroke="none" stroke-width="0.3" />
<text x="443.20" y="350.88" font-size="6.6" fill="#333" stroke="#333" stroke-width="0.05" textLength="41.3" lengthAdjust="spacingAndGlyphs" >APRIL-BB-1XX</text>
<circle cx="439.00" cy="359.20" r="1.30" fill="#1a2458" stroke="none" stroke-width="0.3" />
<text x="443.20" y="360.88" font-size="6.6" fill="#333" stroke="#333" stroke-width="0.05" textLength="57.8" lengthAdjust="spacingAndGlyphs" >APRIL-BB-1XX/IL-18</text>
<circle cx="439.00" cy="369.60" r="1.20" fill="#777" stroke="none" stroke-width="0.3" />
<text x="443.20" y="371.58" font-size="6.6" fill="#333" stroke="#333" stroke-width="0.05" textLength="30.8" lengthAdjust="spacingAndGlyphs" >tumor only</text>
<defs><filter id="spk" x="-5%" y="-5%" width="110%" height="110%" color-interpolation-filters="sRGB"><feTurbulence type="fractalNoise" baseFrequency="1.1" numOctaves="2" seed="4" result="n"/><feColorMatrix in="n" type="matrix" values="0 0 0 0 0  0 0 0 0 0  0 0 0 0 0  10 0 0 0 -2.45" result="m"/><feComposite in="SourceGraphic" in2="m" operator="in" result="c"/><feTurbulence type="fractalNoise" baseFrequency="0.35" numOctaves="1" seed="9" result="n2"/><feDisplacementMap in="c" in2="n2" scale="2.2" xChannelSelector="R" yChannelSelector="G"/></filter></defs>
<g filter="url(#spk)">
<path d="M209.50,57.50 C209.83,56.58 211.75,55.75 213.00,55.50 C214.25,55.25 216.00,55.25 217.00,56.00 C218.00,56.75 219.33,59.00 219.00,60.00 C218.67,61.00 216.33,61.83 215.00,62.00 C213.67,62.17 211.92,61.75 211.00,61.00 C210.08,60.25 209.17,58.42 209.50,57.50 Z" fill="#eaa0a0" stroke="#eaa0a0" stroke-width="1.6" stroke-linejoin="round"/>
<path d="M216.40,45.80 C217.30,44.23 219.28,43.67 221.20,43.10 C223.12,42.53 226.12,42.85 227.90,42.40 C229.68,41.95 230.33,40.62 231.90,40.40 C233.47,40.18 235.95,40.43 237.30,41.10 C238.65,41.77 240.00,43.17 240.00,44.40 C240.00,45.63 238.42,47.15 237.30,48.50 C236.18,49.85 234.65,51.38 233.30,52.50 C231.95,53.62 230.33,53.85 229.20,55.20 C228.07,56.55 227.62,59.48 226.50,60.60 C225.38,61.72 223.83,62.13 222.50,61.90 C221.17,61.67 219.62,60.77 218.50,59.20 C217.38,57.63 216.15,54.73 215.80,52.50 C215.45,50.27 215.50,47.37 216.40,45.80 Z" fill="#eda3a3" stroke="#eda3a3" stroke-width="1.6" stroke-linejoin="round"/>
<path d="M226.00,63.00 C226.17,61.67 228.50,59.17 230.00,57.50 C231.50,55.83 233.33,54.50 235.00,53.00 C236.67,51.50 238.58,49.42 240.00,48.50 C241.42,47.58 242.75,47.17 243.50,47.50 C244.25,47.83 244.92,49.42 244.50,50.50 C244.08,51.58 242.25,52.67 241.00,54.00 C239.75,55.33 238.33,57.08 237.00,58.50 C235.67,59.92 234.33,61.33 233.00,62.50 C231.67,63.67 230.17,65.42 229.00,65.50 C227.83,65.58 225.83,64.33 226.00,63.00 Z" fill="#2ea86a" stroke="#2ea86a" stroke-width="1.6" stroke-linejoin="round"/>
<path d="M238.00,57.00 C238.67,56.17 242.00,55.67 244.00,55.50 C246.00,55.33 248.37,55.62 250.00,56.00 C251.63,56.38 253.47,57.13 253.80,57.80 C254.13,58.47 253.30,59.55 252.00,60.00 C250.70,60.45 248.00,60.42 246.00,60.50 C244.00,60.58 241.33,61.08 240.00,60.50 C238.67,59.92 237.33,57.83 238.00,57.00 Z" fill="#27956a" stroke="#27956a" stroke-width="1.6" stroke-linejoin="round"/>
<path d="M233.00,62.00 C233.50,61.00 236.33,60.58 238.00,60.50 C239.67,60.42 241.83,60.83 243.00,61.50 C244.17,62.17 245.33,63.58 245.00,64.50 C244.67,65.42 242.67,66.67 241.00,67.00 C239.33,67.33 236.33,67.33 235.00,66.50 C233.67,65.67 232.50,63.00 233.00,62.00 Z" fill="#2ea86a" stroke="#2ea86a" stroke-width="1.6" stroke-linejoin="round"/>
<path d="M219.80,69.50 C220.13,68.72 221.40,67.38 222.00,67.30 C222.60,67.22 223.40,68.22 223.40,69.00 C223.40,69.78 222.57,71.50 222.00,72.00 C221.43,72.50 220.37,72.42 220.00,72.00 C219.63,71.58 219.47,70.28 219.80,69.50 Z" fill="#3950a8" stroke="#3950a8" stroke-width="1.6" stroke-linejoin="round"/>
<path d="M243.40,72.00 C243.85,71.22 245.47,70.70 246.70,70.70 C247.93,70.70 249.33,71.55 250.80,72.00 C252.27,72.45 254.83,72.83 255.50,73.40 C256.17,73.97 256.03,74.97 254.80,75.40 C253.57,75.83 249.90,76.00 248.10,76.00 C246.30,76.00 244.78,76.07 244.00,75.40 C243.22,74.73 242.95,72.78 243.40,72.00 Z" fill="#8060b8" stroke="#8060b8" stroke-width="1.6" stroke-linejoin="round"/>
<path d="M225.20,71.30 C226.22,70.52 228.80,69.52 230.60,69.30 C232.40,69.08 234.88,69.22 236.00,70.00 C237.12,70.78 237.20,72.65 237.30,74.00 C237.40,75.35 236.38,76.97 236.60,78.10 C236.82,79.23 237.13,80.13 238.60,80.80 C240.07,81.47 243.15,82.00 245.40,82.10 C247.65,82.20 250.65,81.17 252.10,81.40 C253.55,81.63 254.32,82.93 254.10,83.50 C253.88,84.07 252.48,84.58 250.80,84.80 C249.12,85.02 246.25,85.02 244.00,84.80 C241.75,84.58 239.32,83.72 237.30,83.50 C235.28,83.28 233.47,83.73 231.90,83.50 C230.33,83.27 229.02,83.00 227.90,82.10 C226.78,81.20 225.77,79.45 225.20,78.10 C224.63,76.75 224.50,75.13 224.50,74.00 C224.50,72.87 224.18,72.08 225.20,71.30 Z" fill="#c3d14c" stroke="#c3d14c" stroke-width="1.6" stroke-linejoin="round"/>
<path d="M190.60,69.40 C190.60,67.65 190.85,64.80 191.40,62.90 C191.95,61.00 192.68,59.37 193.90,58.00 C195.12,56.63 196.82,55.52 198.70,54.70 C200.58,53.88 203.43,53.10 205.20,53.10 C206.97,53.10 208.75,53.88 209.30,54.70 C209.85,55.52 209.45,57.05 208.50,58.00 C207.55,58.95 205.23,59.45 203.60,60.40 C201.97,61.35 199.92,62.20 198.70,63.70 C197.48,65.20 196.97,67.78 196.30,69.40 C195.63,71.02 195.52,72.73 194.70,73.40 C193.88,74.07 192.08,74.07 191.40,73.40 C190.72,72.73 190.60,71.15 190.60,69.40 Z" fill="#f0e442" stroke="#f0e442" stroke-width="1.6" stroke-linejoin="round"/>
<path d="M183.00,78.00 C183.83,76.17 187.67,76.25 190.00,76.50 C192.33,76.75 195.50,77.92 197.00,79.50 C198.50,81.08 199.00,84.00 199.00,86.00 C199.00,88.00 198.50,90.67 197.00,91.50 C195.50,92.33 192.00,91.67 190.00,91.00 C188.00,90.33 186.17,89.67 185.00,87.50 C183.83,85.33 182.17,79.83 183.00,78.00 Z" fill="#e2c74a" stroke="#e2c74a" stroke-width="1.6" stroke-linejoin="round"/>
<path d="M183.30,72.50 C183.63,71.43 185.00,69.73 186.00,69.40 C187.00,69.07 188.67,69.65 189.30,70.50 C189.93,71.35 190.18,73.47 189.80,74.50 C189.42,75.53 187.97,76.48 187.00,76.70 C186.03,76.92 184.62,76.50 184.00,75.80 C183.38,75.10 182.97,73.57 183.30,72.50 Z" fill="#b03ca8" stroke="#b03ca8" stroke-width="1.6" stroke-linejoin="round"/>
<path d="M196.30,71.80 C197.25,69.92 199.97,69.53 202.00,69.40 C204.03,69.27 207.02,69.65 208.50,71.00 C209.98,72.35 210.77,75.33 210.90,77.50 C211.03,79.67 210.38,82.52 209.30,84.00 C208.22,85.48 206.17,86.13 204.40,86.40 C202.63,86.67 200.05,86.55 198.70,85.60 C197.35,84.65 196.70,83.00 196.30,80.70 C195.90,78.40 195.35,73.68 196.30,71.80 Z" fill="#3b4fb8" stroke="#3b4fb8" stroke-width="1.6" stroke-linejoin="round"/>
<path d="M161.40,98.60 C162.52,95.87 165.47,92.67 167.90,90.50 C170.33,88.33 173.43,86.68 176.00,85.60 C178.57,84.52 181.55,83.73 183.30,84.00 C185.05,84.27 186.30,85.58 186.50,87.20 C186.70,88.82 184.73,91.53 184.50,93.70 C184.27,95.87 185.37,98.43 185.10,100.20 C184.83,101.97 185.50,103.35 182.90,104.30 C180.30,105.25 173.12,105.47 169.50,105.90 C165.88,106.33 162.55,108.12 161.20,106.90 C159.85,105.68 160.28,101.33 161.40,98.60 Z" fill="#e8322e" stroke="#e8322e" stroke-width="1.6" stroke-linejoin="round"/>
<path d="M161.20,106.70 C162.42,104.58 165.88,105.85 169.50,105.40 C173.12,104.95 180.30,103.78 182.90,104.00 C185.50,104.22 184.60,104.62 185.10,106.70 C185.60,108.78 186.17,113.25 185.90,116.50 C185.63,119.75 185.42,124.32 183.50,126.20 C181.58,128.08 177.00,127.80 174.40,127.80 C171.80,127.80 169.93,127.82 167.90,126.20 C165.87,124.58 163.32,121.35 162.20,118.10 C161.08,114.85 159.98,108.82 161.20,106.70 Z" fill="#58be5a" stroke="#58be5a" stroke-width="1.6" stroke-linejoin="round"/>
<path d="M193.90,98.60 C194.43,96.43 197.08,95.57 198.70,95.30 C200.32,95.03 202.38,95.10 203.60,97.00 C204.82,98.90 205.60,103.18 206.00,106.70 C206.40,110.22 206.40,115.38 206.00,118.10 C205.60,120.82 204.82,123.27 203.60,123.00 C202.38,122.73 200.05,118.95 198.70,116.50 C197.35,114.05 196.30,111.28 195.50,108.30 C194.70,105.32 193.37,100.77 193.90,98.60 Z" fill="#a8bfe0" stroke="#a8bfe0" stroke-width="1.6" stroke-linejoin="round"/>
<path d="M184.10,106.70 C184.78,103.45 187.52,102.07 189.00,101.80 C190.48,101.53 191.38,103.20 193.00,105.10 C194.62,107.00 196.67,110.50 198.70,113.20 C200.73,115.90 203.98,118.58 205.20,121.30 C206.42,124.02 206.53,127.05 206.00,129.50 C205.47,131.95 203.48,134.83 202.00,136.00 C200.52,137.17 198.87,138.13 197.10,136.50 C195.33,134.87 193.43,128.73 191.40,126.20 C189.37,123.67 186.12,124.55 184.90,121.30 C183.68,118.05 183.42,109.95 184.10,106.70 Z" fill="#6cc6bb" stroke="#6cc6bb" stroke-width="1.6" stroke-linejoin="round"/>
<path d="M167.90,126.20 C168.62,124.75 171.97,127.33 174.40,127.30 C176.83,127.27 179.80,126.45 182.50,126.00 C185.20,125.55 188.43,124.02 190.60,124.60 C192.77,125.18 194.15,127.07 195.50,129.50 C196.85,131.93 198.43,136.23 198.70,139.20 C198.97,142.17 198.45,145.58 197.10,147.30 C195.75,149.02 193.03,149.33 190.60,149.50 C188.17,149.67 184.93,149.30 182.50,148.30 C180.07,147.30 178.07,145.55 176.00,143.50 C173.93,141.45 171.45,138.88 170.10,136.00 C168.75,133.12 167.18,127.65 167.90,126.20 Z" fill="#3f77c8" stroke="#3f77c8" stroke-width="1.6" stroke-linejoin="round"/>
<path d="M210.00,100.00 C210.62,98.88 212.08,97.43 213.50,96.80 C214.92,96.17 217.00,96.00 218.50,96.20 C220.00,96.40 221.62,97.12 222.50,98.00 C223.38,98.88 223.88,100.25 223.80,101.50 C223.72,102.75 223.05,104.55 222.00,105.50 C220.95,106.45 219.08,107.08 217.50,107.20 C215.92,107.32 213.78,106.82 212.50,106.20 C211.22,105.58 210.22,104.53 209.80,103.50 C209.38,102.47 209.38,101.12 210.00,100.00 Z" fill="#a3162b" stroke="#a3162b" stroke-width="1.6" stroke-linejoin="round"/>
<path d="M237.00,101.50 C237.58,100.25 239.10,98.75 240.50,98.00 C241.90,97.25 243.87,96.95 245.40,97.00 C246.93,97.05 248.40,97.73 249.70,98.30 C251.00,98.87 252.48,99.37 253.20,100.40 C253.92,101.43 254.33,103.22 254.00,104.50 C253.67,105.78 252.40,107.15 251.20,108.10 C250.00,109.05 248.25,109.72 246.80,110.20 C245.35,110.68 243.70,111.45 242.50,111.00 C241.30,110.55 240.52,108.42 239.60,107.50 C238.68,106.58 237.43,106.50 237.00,105.50 C236.57,104.50 236.42,102.75 237.00,101.50 Z" fill="#4eb6e6" stroke="#4eb6e6" stroke-width="1.6" stroke-linejoin="round"/>
<path d="M246.80,111.00 C247.65,109.92 250.67,109.05 252.60,108.80 C254.53,108.55 256.83,108.67 258.40,109.50 C259.97,110.33 261.77,112.35 262.00,113.80 C262.23,115.25 260.88,116.98 259.80,118.20 C258.72,119.42 256.47,119.67 255.50,121.10 C254.53,122.53 254.00,124.88 254.00,126.80 C254.00,128.72 255.97,131.40 255.50,132.60 C255.03,133.80 252.65,133.28 251.20,134.00 C249.75,134.72 248.25,136.65 246.80,136.90 C245.35,137.15 243.70,136.45 242.50,135.50 C241.30,134.55 239.37,132.40 239.60,131.20 C239.83,130.00 242.45,129.27 243.90,128.30 C245.35,127.33 247.33,126.85 248.30,125.40 C249.27,123.95 249.83,121.28 249.70,119.60 C249.57,117.92 247.98,116.73 247.50,115.30 C247.02,113.87 245.95,112.08 246.80,111.00 Z" fill="#f6a623" stroke="#f6a623" stroke-width="1.6" stroke-linejoin="round"/>
<path d="M254.00,121.10 C254.83,119.67 257.87,118.57 259.80,118.20 C261.73,117.83 264.03,118.18 265.60,118.90 C267.17,119.62 268.72,120.93 269.20,122.50 C269.68,124.07 269.35,127.10 268.50,128.30 C267.65,129.50 265.78,129.47 264.10,129.70 C262.42,129.93 259.95,130.18 258.40,129.70 C256.85,129.22 255.53,128.23 254.80,126.80 C254.07,125.37 253.17,122.53 254.00,121.10 Z" fill="#c687cd" stroke="#c687cd" stroke-width="1.6" stroke-linejoin="round"/>
<path d="M231.70,124.00 C232.20,122.83 233.68,122.42 235.00,122.50 C236.32,122.58 238.93,123.42 239.60,124.50 C240.27,125.58 239.68,127.88 239.00,129.00 C238.32,130.12 236.67,131.12 235.50,131.20 C234.33,131.28 232.63,130.70 232.00,129.50 C231.37,128.30 231.20,125.17 231.70,124.00 Z" fill="#1f6b62" stroke="#1f6b62" stroke-width="1.6" stroke-linejoin="round"/>
<path d="M233.10,135.50 C233.95,134.05 236.63,133.77 238.20,134.00 C239.77,134.23 241.42,135.45 242.50,136.90 C243.58,138.35 244.58,140.77 244.70,142.70 C244.82,144.63 244.17,147.18 243.20,148.50 C242.23,149.82 240.22,150.60 238.90,150.60 C237.58,150.60 236.27,149.82 235.30,148.50 C234.33,147.18 233.47,144.87 233.10,142.70 C232.73,140.53 232.25,136.95 233.10,135.50 Z" fill="#d4502a" stroke="#d4502a" stroke-width="1.6" stroke-linejoin="round"/>
<path d="M258.00,96.00 C258.33,95.00 260.17,94.33 261.00,94.50 C261.83,94.67 262.83,96.00 263.00,97.00 C263.17,98.00 262.67,99.92 262.00,100.50 C261.33,101.08 259.67,101.25 259.00,100.50 C258.33,99.75 257.67,97.00 258.00,96.00 Z" fill="#b8cfc8" stroke="#b8cfc8" stroke-width="1.6" stroke-linejoin="round"/>
<path d="M268.50,114.50 C269.17,113.75 271.17,112.75 272.00,113.00 C272.83,113.25 273.67,115.08 273.50,116.00 C273.33,116.92 271.92,118.25 271.00,118.50 C270.08,118.75 268.42,118.17 268.00,117.50 C267.58,116.83 267.83,115.25 268.50,114.50 Z" fill="#b8cfc8" stroke="#b8cfc8" stroke-width="1.6" stroke-linejoin="round"/>
</g>
<ellipse cx="237.5" cy="113.8" rx="14.2" ry="5.2" transform="rotate(41.8 237.5 113.8)" fill="#bfe0c8" stroke="#1e3a2a" stroke-width="0.6"/>
<circle cx="230.27" cy="106.38" r="0.45" fill="#9acaa8"/><circle cx="232.42" cy="106.32" r="0.45" fill="#ffffff"/><circle cx="246.44" cy="119.31" r="0.45" fill="#ffffff"/><circle cx="237.75" cy="114.85" r="0.45" fill="#9acaa8"/><circle cx="236.46" cy="112.99" r="0.45" fill="#ffffff"/><circle cx="245.14" cy="118.73" r="0.45" fill="#ffffff"/><circle cx="230.49" cy="105.30" r="0.45" fill="#ffffff"/><circle cx="238.04" cy="110.00" r="0.45" fill="#9acaa8"/><circle cx="235.79" cy="109.78" r="0.45" fill="#9acaa8"/><circle cx="231.82" cy="110.25" r="0.45" fill="#ffffff"/><circle cx="242.46" cy="119.11" r="0.45" fill="#ffffff"/><circle cx="241.01" cy="114.29" r="0.45" fill="#ffffff"/><circle cx="240.46" cy="112.20" r="0.45" fill="#9acaa8"/><circle cx="240.55" cy="118.44" r="0.45" fill="#9acaa8"/><circle cx="237.22" cy="108.66" r="0.45" fill="#9acaa8"/><circle cx="236.50" cy="112.09" r="0.45" fill="#ffffff"/><circle cx="245.96" cy="119.03" r="0.45" fill="#9acaa8"/><circle cx="234.37" cy="114.11" r="0.45" fill="#ffffff"/><circle cx="235.77" cy="114.02" r="0.45" fill="#ffffff"/><circle cx="239.07" cy="114.45" r="0.45" fill="#ffffff"/><circle cx="231.60" cy="108.75" r="0.45" fill="#9acaa8"/><circle cx="244.87" cy="122.37" r="0.45" fill="#9acaa8"/><circle cx="241.82" cy="118.37" r="0.45" fill="#9acaa8"/><circle cx="231.12" cy="111.62" r="0.45" fill="#ffffff"/><circle cx="237.67" cy="117.27" r="0.45" fill="#9acaa8"/>
<path d="M193.90,51.50 C195.52,50.83 196.85,50.78 198.70,50.70 C200.55,50.62 203.18,50.52 205.00,51.00 C206.82,51.48 208.80,52.35 209.60,53.60 C210.40,54.85 210.12,56.68 209.80,58.50 C209.48,60.32 208.02,62.68 207.70,64.50 C207.38,66.32 207.37,67.23 207.90,69.40 C208.43,71.57 210.53,75.07 210.90,77.50 C211.27,79.93 211.15,81.65 210.10,84.00 C209.05,86.35 205.52,89.17 204.60,91.60 C203.68,94.03 204.23,96.08 204.60,98.60 C204.97,101.12 206.15,103.45 206.80,106.70 C207.45,109.95 208.35,114.03 208.50,118.10 C208.65,122.17 208.52,126.77 207.70,131.10 C206.88,135.43 205.63,140.58 203.60,144.10 C201.57,147.62 198.20,150.58 195.50,152.20 C192.80,153.82 190.38,153.93 187.40,153.80 C184.42,153.67 180.85,153.02 177.60,151.40 C174.35,149.78 170.88,147.22 167.90,144.10 C164.92,140.98 161.73,137.03 159.70,132.70 C157.67,128.37 156.23,122.97 155.70,118.10 C155.17,113.23 155.68,107.57 156.50,103.50 C157.32,99.43 158.70,96.95 160.60,93.70 C162.50,90.45 165.20,87.52 167.90,84.00 C170.60,80.48 174.23,76.12 176.80,72.60 C179.37,69.08 181.27,65.88 183.30,62.90 C185.33,59.92 187.23,56.60 189.00,54.70 C190.77,52.80 192.28,52.17 193.90,51.50 Z" fill="none" stroke="#333" stroke-width="0.7" />
<path d="M209.30,99.40 C209.98,97.00 212.02,92.48 213.70,90.80 C215.38,89.12 217.25,88.82 219.40,89.30 C221.55,89.78 224.20,92.85 226.60,93.70 C229.00,94.55 231.38,94.77 233.80,94.40 C236.22,94.03 238.20,92.10 241.10,91.50 C244.00,90.90 247.60,90.57 251.20,90.80 C254.80,91.03 259.33,91.70 262.70,92.90 C266.07,94.10 269.23,95.95 271.40,98.00 C273.57,100.05 274.87,102.57 275.70,105.20 C276.53,107.83 276.88,110.92 276.40,113.80 C275.92,116.68 274.37,119.85 272.80,122.50 C271.23,125.15 269.17,127.78 267.00,129.70 C264.83,131.62 262.20,132.80 259.80,134.00 C257.40,135.20 254.52,135.93 252.60,136.90 C250.68,137.87 249.50,138.35 248.30,139.80 C247.10,141.25 246.37,143.80 245.40,145.60 C244.43,147.40 243.70,149.52 242.50,150.60 C241.30,151.68 239.65,152.45 238.20,152.10 C236.75,151.75 235.00,150.30 233.80,148.50 C232.60,146.70 231.72,143.95 231.00,141.30 C230.28,138.65 229.98,135.50 229.50,132.60 C229.02,129.70 228.82,126.30 228.10,123.90 C227.38,121.50 225.92,120.12 225.20,118.20 C224.48,116.28 224.77,113.48 223.80,112.40 C222.83,111.32 221.08,112.18 219.40,111.70 C217.72,111.22 215.33,110.58 213.70,109.50 C212.07,108.42 210.33,106.88 209.60,105.20 C208.87,103.52 208.62,101.80 209.30,99.40 Z" fill="none" stroke="#333" stroke-width="0.7" />
<path d="M225.20,65.30 C225.77,63.28 227.88,58.23 229.90,55.20 C231.92,52.17 234.72,48.90 237.30,47.10 C239.88,45.30 242.48,44.62 245.40,44.40 C248.32,44.18 252.33,44.90 254.80,45.80 C257.27,46.70 259.18,48.23 260.20,49.80 C261.22,51.37 261.35,53.40 260.90,55.20 C260.45,57.00 259.42,58.80 257.50,60.60 C255.58,62.40 252.10,64.77 249.40,66.00 C246.70,67.23 244.22,67.67 241.30,68.00 C238.38,68.33 234.37,68.12 231.90,68.00 C229.43,67.88 227.62,67.75 226.50,67.30 C225.38,66.85 224.63,67.32 225.20,65.30 Z" fill="none" stroke="#333" stroke-width="0.7" />
<text x="159.80" y="44.08" font-size="6.6" fill="#333" stroke="#333" stroke-width="0.05" textLength="36.2" lengthAdjust="spacingAndGlyphs" >erythrocytes</text>
<text x="144.40" y="58.88" font-size="6.6" fill="#333" stroke="#333" stroke-width="0.05" textLength="39.4" lengthAdjust="spacingAndGlyphs" >granulocytes/</text>
<text x="144.40" y="65.78" font-size="6.6" fill="#333" stroke="#333" stroke-width="0.05" textLength="32.3" lengthAdjust="spacingAndGlyphs" >neutrophils</text>
<text x="258.70" y="38.28" font-size="6.6" fill="#333" stroke="#333" stroke-width="0.05" textLength="40.5" lengthAdjust="spacingAndGlyphs" >macrophages/</text>
<text x="258.70" y="45.48" font-size="6.6" fill="#333" stroke="#333" stroke-width="0.05" textLength="31.0" lengthAdjust="spacingAndGlyphs" >monocytes</text>
<text x="261.50" y="57.98" font-size="6.6" fill="#333" stroke="#333" stroke-width="0.05" textLength="12.5" lengthAdjust="spacingAndGlyphs" >DCs</text>
<text x="268.30" y="68.48" font-size="6.6" fill="#333" stroke="#333" stroke-width="0.05" textLength="27.7" lengthAdjust="spacingAndGlyphs" >mast cells</text>
<text x="257.00" y="87.18" font-size="6.6" fill="#333" stroke="#333" stroke-width="0.05" textLength="18.4" lengthAdjust="spacingAndGlyphs" >B cells</text>
<text x="278.80" y="108.68" font-size="6.6" fill="#333" stroke="#333" stroke-width="0.05" textLength="16.2" lengthAdjust="spacingAndGlyphs" >T-cells</text>
<text x="252.00" y="149.68" font-size="6.6" fill="#333" stroke="#333" stroke-width="0.05" textLength="17.0" lengthAdjust="spacingAndGlyphs" >T-regs</text>
<text x="203.00" y="150.18" font-size="6.6" fill="#333" stroke="#333" stroke-width="0.05" textLength="23.0" lengthAdjust="spacingAndGlyphs" >NK cells</text>
<text x="277.00" y="25.18" font-size="6.6" fill="#333" stroke="#333" stroke-width="0.05" textLength="59.0" lengthAdjust="spacingAndGlyphs" >total CD45+: UMAP</text>
<path d="M200.00,42.00 Q215.00,45.00 218.96,61.87" fill="none" stroke="#111" stroke-width="1.0"/>
<path d="M219.60,64.60 L216.74,61.16 L218.96,61.87 L220.63,60.25 Z" fill="#111"/>
<path d="M257.70,37.50 Q243.00,26.00 232.60,38.45" fill="none" stroke="#111" stroke-width="1.0"/>
<path d="M230.80,40.60 L231.83,36.25 L232.60,38.45 L234.90,38.81 Z" fill="#111"/>
<line x1="268.00" y1="67.00" x2="260.15" y2="72.08" stroke="#111" stroke-width="1.0" />
<path d="M257.80,73.60 L260.07,69.75 L260.15,72.08 L262.24,73.11 Z" fill="#111"/>
<path d="M255.80,87.00 Q246.00,89.00 239.07,85.31" fill="none" stroke="#111" stroke-width="1.0"/>
<path d="M236.60,84.00 L241.07,84.11 L239.07,85.31 L239.19,87.64 Z" fill="#111"/>
<line x1="213.60" y1="140.80" x2="227.41" y2="120.80" stroke="#111" stroke-width="1.0" />
<path d="M229.00,118.50 L228.37,122.93 L227.41,120.80 L225.08,120.65 Z" fill="#111"/>
<line x1="251.00" y1="146.60" x2="241.87" y2="143.66" stroke="#111" stroke-width="1.0" />
<path d="M239.20,142.80 L243.62,142.12 L241.87,143.66 L242.39,145.93 Z" fill="#111"/>
<defs><pattern id="pU" patternUnits="userSpaceOnUse" width="18" height="18"><circle cx="8.1" cy="10.1" r="0.42" fill="#c8344c"/><circle cx="8.4" cy="9.1" r="0.42" fill="#3444b8"/><circle cx="3.4" cy="14.5" r="0.42" fill="#3f4fb0"/><circle cx="11.3" cy="14.3" r="0.42" fill="#c8344c"/><circle cx="8.0" cy="2.6" r="0.42" fill="#3444b8"/><circle cx="14.6" cy="12.5" r="0.42" fill="#c8344c"/><circle cx="10.7" cy="7.1" r="0.42" fill="#3f4fb0"/><circle cx="11.8" cy="11.1" r="0.42" fill="#d04a5e"/><circle cx="11.2" cy="15.0" r="0.42" fill="#c8344c"/><circle cx="1.1" cy="3.4" r="0.42" fill="#d04a5e"/><circle cx="10.8" cy="14.0" r="0.42" fill="#a83050"/><circle cx="7.9" cy="15.2" r="0.42" fill="#3444b8"/><circle cx="4.2" cy="5.3" r="0.42" fill="#c8344c"/><circle cx="11.9" cy="8.2" r="0.42" fill="#a83050"/><circle cx="7.3" cy="9.9" r="0.42" fill="#c8344c"/><circle cx="1.5" cy="4.6" r="0.42" fill="#c8344c"/><circle cx="4.1" cy="5.2" r="0.42" fill="#c8344c"/><circle cx="10.1" cy="1.9" r="0.42" fill="#c8344c"/><circle cx="15.2" cy="7.0" r="0.42" fill="#c8344c"/><circle cx="15.3" cy="0.0" r="0.42" fill="#d04a5e"/><circle cx="16.7" cy="0.9" r="0.42" fill="#3f4fb0"/><circle cx="17.6" cy="7.2" r="0.42" fill="#c8344c"/><circle cx="10.2" cy="3.6" r="0.42" fill="#b85a80"/><circle cx="4.9" cy="1.6" r="0.42" fill="#a83050"/><circle cx="0.3" cy="7.4" r="0.42" fill="#c8344c"/><circle cx="2.4" cy="12.7" r="0.42" fill="#c8344c"/><circle cx="1.1" cy="14.3" r="0.42" fill="#d04a5e"/><circle cx="12.3" cy="3.4" r="0.42" fill="#3444b8"/><circle cx="3.4" cy="13.2" r="0.42" fill="#d04a5e"/><circle cx="7.5" cy="6.9" r="0.42" fill="#3f4fb0"/><circle cx="7.6" cy="3.8" r="0.42" fill="#a83050"/><circle cx="15.6" cy="17.5" r="0.42" fill="#3444b8"/><circle cx="5.5" cy="15.9" r="0.42" fill="#d04a5e"/><circle cx="3.4" cy="17.9" r="0.42" fill="#3444b8"/><circle cx="11.6" cy="1.8" r="0.42" fill="#d04a5e"/><circle cx="3.8" cy="4.6" r="0.42" fill="#c8344c"/><circle cx="11.0" cy="14.9" r="0.42" fill="#3f4fb0"/><circle cx="1.3" cy="1.6" r="0.42" fill="#3444b8"/><circle cx="11.5" cy="0.3" r="0.42" fill="#a83050"/><circle cx="6.7" cy="8.2" r="0.42" fill="#3444b8"/><circle cx="8.7" cy="10.3" r="0.42" fill="#c8344c"/><circle cx="6.9" cy="11.3" r="0.42" fill="#a83050"/><circle cx="16.4" cy="14.7" r="0.42" fill="#d04a5e"/><circle cx="13.1" cy="2.9" r="0.42" fill="#b85a80"/><circle cx="16.9" cy="3.5" r="0.42" fill="#3f4fb0"/><circle cx="15.9" cy="10.9" r="0.42" fill="#3f4fb0"/><circle cx="0.9" cy="2.0" r="0.42" fill="#3444b8"/><circle cx="17.3" cy="4.3" r="0.42" fill="#b85a80"/><circle cx="7.0" cy="7.6" r="0.42" fill="#3444b8"/><circle cx="8.8" cy="9.4" r="0.42" fill="#b85a80"/><circle cx="17.6" cy="2.3" r="0.42" fill="#3f4fb0"/><circle cx="10.1" cy="15.3" r="0.42" fill="#3444b8"/><circle cx="1.3" cy="3.8" r="0.42" fill="#d04a5e"/><circle cx="13.5" cy="1.2" r="0.42" fill="#3f4fb0"/><circle cx="8.0" cy="1.1" r="0.42" fill="#d04a5e"/><circle cx="5.1" cy="9.6" r="0.42" fill="#d04a5e"/><circle cx="1.7" cy="2.5" r="0.42" fill="#3f4fb0"/><circle cx="17.6" cy="11.8" r="0.42" fill="#b85a80"/><circle cx="9.4" cy="17.0" r="0.42" fill="#3444b8"/><circle cx="0.6" cy="0.3" r="0.42" fill="#a83050"/><circle cx="12.6" cy="17.3" r="0.42" fill="#c8344c"/><circle cx="10.8" cy="1.3" r="0.42" fill="#c8344c"/><circle cx="13.1" cy="5.7" r="0.42" fill="#c8344c"/><circle cx="1.4" cy="9.8" r="0.42" fill="#b85a80"/><circle cx="0.8" cy="16.9" r="0.42" fill="#b85a80"/><circle cx="12.7" cy="14.3" r="0.42" fill="#a83050"/><circle cx="6.3" cy="12.3" r="0.42" fill="#c8344c"/><circle cx="15.7" cy="7.5" r="0.42" fill="#c8344c"/><circle cx="0.5" cy="9.0" r="0.42" fill="#c8344c"/><circle cx="11.2" cy="6.9" r="0.42" fill="#3444b8"/><circle cx="0.2" cy="1.3" r="0.42" fill="#c8344c"/><circle cx="11.5" cy="17.9" r="0.42" fill="#3f4fb0"/><circle cx="13.1" cy="7.0" r="0.42" fill="#b85a80"/><circle cx="12.5" cy="8.2" r="0.42" fill="#3f4fb0"/><circle cx="15.1" cy="1.5" r="0.42" fill="#c8344c"/><circle cx="9.3" cy="5.6" r="0.42" fill="#c8344c"/><circle cx="8.7" cy="4.1" r="0.42" fill="#b85a80"/><circle cx="2.0" cy="14.0" r="0.42" fill="#b85a80"/><circle cx="16.6" cy="4.6" r="0.42" fill="#c8344c"/><circle cx="6.6" cy="2.6" r="0.42" fill="#3444b8"/><circle cx="3.6" cy="3.1" r="0.42" fill="#a83050"/><circle cx="11.9" cy="8.0" r="0.42" fill="#d04a5e"/><circle cx="5.9" cy="12.0" r="0.42" fill="#d04a5e"/><circle cx="11.4" cy="14.5" r="0.42" fill="#c8344c"/><circle cx="16.5" cy="15.8" r="0.42" fill="#3f4fb0"/><circle cx="4.0" cy="16.6" r="0.42" fill="#d04a5e"/><circle cx="2.5" cy="8.9" r="0.42" fill="#c8344c"/><circle cx="16.1" cy="0.7" r="0.42" fill="#c8344c"/><circle cx="17.1" cy="5.0" r="0.42" fill="#d04a5e"/><circle cx="2.0" cy="8.5" r="0.42" fill="#d04a5e"/><circle cx="15.0" cy="6.9" r="0.42" fill="#3444b8"/><circle cx="8.9" cy="5.7" r="0.42" fill="#c8344c"/><circle cx="15.2" cy="11.2" r="0.42" fill="#a83050"/><circle cx="1.3" cy="0.6" r="0.42" fill="#c8344c"/><circle cx="10.9" cy="12.2" r="0.42" fill="#a83050"/><circle cx="10.3" cy="5.6" r="0.42" fill="#c8344c"/><circle cx="10.2" cy="11.5" r="0.42" fill="#3f4fb0"/><circle cx="8.2" cy="0.4" r="0.42" fill="#c8344c"/><circle cx="4.8" cy="14.0" r="0.42" fill="#c8344c"/><circle cx="0.8" cy="11.3" r="0.42" fill="#3f4fb0"/><circle cx="2.0" cy="9.6" r="0.42" fill="#b85a80"/><circle cx="14.5" cy="17.3" r="0.42" fill="#b85a80"/><circle cx="3.6" cy="14.8" r="0.42" fill="#a83050"/><circle cx="3.2" cy="0.2" r="0.42" fill="#3f4fb0"/><circle cx="9.6" cy="0.7" r="0.42" fill="#d04a5e"/><circle cx="4.9" cy="6.2" r="0.42" fill="#b85a80"/><circle cx="17.0" cy="9.0" r="0.42" fill="#c8344c"/><circle cx="2.9" cy="15.3" r="0.42" fill="#b85a80"/><circle cx="16.3" cy="1.6" r="0.42" fill="#b85a80"/><circle cx="7.0" cy="8.1" r="0.42" fill="#d04a5e"/><circle cx="11.3" cy="16.4" r="0.42" fill="#3f4fb0"/><circle cx="9.9" cy="11.7" r="0.42" fill="#3444b8"/><circle cx="14.3" cy="17.0" r="0.42" fill="#3f4fb0"/><circle cx="5.9" cy="17.7" r="0.42" fill="#c8344c"/><circle cx="13.0" cy="14.7" r="0.42" fill="#b85a80"/><circle cx="16.6" cy="2.2" r="0.42" fill="#d04a5e"/><circle cx="16.2" cy="17.6" r="0.42" fill="#a83050"/><circle cx="9.7" cy="14.2" r="0.42" fill="#a83050"/><circle cx="4.7" cy="12.9" r="0.42" fill="#c8344c"/><circle cx="6.3" cy="1.5" r="0.42" fill="#3f4fb0"/><circle cx="6.2" cy="7.6" r="0.42" fill="#a83050"/><circle cx="8.8" cy="0.5" r="0.42" fill="#c8344c"/><circle cx="15.6" cy="7.7" r="0.42" fill="#c8344c"/><circle cx="3.1" cy="6.0" r="0.42" fill="#c8344c"/><circle cx="16.5" cy="8.5" r="0.42" fill="#3444b8"/><circle cx="16.2" cy="9.3" r="0.42" fill="#b85a80"/><circle cx="12.4" cy="17.0" r="0.42" fill="#3f4fb0"/><circle cx="10.4" cy="12.4" r="0.42" fill="#c8344c"/><circle cx="4.0" cy="9.5" r="0.42" fill="#a83050"/><circle cx="15.0" cy="10.1" r="0.42" fill="#d04a5e"/><circle cx="9.4" cy="15.2" r="0.42" fill="#3444b8"/><circle cx="4.6" cy="12.1" r="0.42" fill="#c8344c"/><circle cx="15.7" cy="11.0" r="0.42" fill="#a83050"/><circle cx="15.3" cy="17.4" r="0.42" fill="#3444b8"/><circle cx="4.9" cy="9.0" r="0.42" fill="#3f4fb0"/><circle cx="9.6" cy="9.1" r="0.42" fill="#3444b8"/><circle cx="6.8" cy="9.7" r="0.42" fill="#c8344c"/><circle cx="9.3" cy="7.2" r="0.42" fill="#c8344c"/><circle cx="17.8" cy="2.2" r="0.42" fill="#c8344c"/><circle cx="12.4" cy="1.2" r="0.42" fill="#3444b8"/><circle cx="8.3" cy="16.6" r="0.42" fill="#c8344c"/><circle cx="16.6" cy="4.8" r="0.42" fill="#3f4fb0"/><circle cx="8.9" cy="6.1" r="0.42" fill="#c8344c"/><circle cx="16.8" cy="16.6" r="0.42" fill="#3444b8"/><circle cx="5.7" cy="3.4" r="0.42" fill="#3444b8"/><circle cx="0.5" cy="4.7" r="0.42" fill="#b85a80"/><circle cx="14.0" cy="0.4" r="0.42" fill="#d04a5e"/><circle cx="2.8" cy="0.2" r="0.42" fill="#a83050"/><circle cx="5.8" cy="6.4" r="0.42" fill="#3444b8"/><circle cx="9.0" cy="9.0" r="0.42" fill="#3444b8"/></pattern></defs>
<defs><pattern id="pS" patternUnits="userSpaceOnUse" width="16" height="16"><circle cx="7.6" cy="10.5" r="0.5" fill="#b03a60"/><circle cx="5.6" cy="6.1" r="0.5" fill="#c03a58"/><circle cx="7.7" cy="10.3" r="0.5" fill="#3a48b0"/><circle cx="11.0" cy="9.6" r="0.5" fill="#e8e4f0"/><circle cx="0.0" cy="10.0" r="0.5" fill="#3a48b0"/><circle cx="5.9" cy="5.4" r="0.5" fill="#5a50b0"/><circle cx="0.9" cy="13.1" r="0.5" fill="#4a4aa8"/><circle cx="8.2" cy="13.1" r="0.5" fill="#b03a60"/><circle cx="6.5" cy="13.5" r="0.5" fill="#4a4aa8"/><circle cx="14.7" cy="13.1" r="0.5" fill="#b03a60"/><circle cx="8.1" cy="1.5" r="0.5" fill="#3a48b0"/><circle cx="15.1" cy="1.8" r="0.5" fill="#3a48b0"/><circle cx="15.5" cy="8.6" r="0.5" fill="#e8e4f0"/><circle cx="8.9" cy="15.6" r="0.5" fill="#4a4aa8"/><circle cx="8.9" cy="8.1" r="0.5" fill="#4a4aa8"/><circle cx="6.4" cy="6.7" r="0.5" fill="#e8e4f0"/><circle cx="7.5" cy="9.7" r="0.5" fill="#e8e4f0"/><circle cx="0.5" cy="11.6" r="0.5" fill="#5a50b0"/><circle cx="15.6" cy="10.6" r="0.5" fill="#c03a58"/><circle cx="15.1" cy="13.9" r="0.5" fill="#3a48b0"/><circle cx="10.8" cy="1.8" r="0.5" fill="#5a50b0"/><circle cx="5.4" cy="5.9" r="0.5" fill="#e8e4f0"/><circle cx="13.0" cy="8.0" r="0.5" fill="#4a4aa8"/><circle cx="6.1" cy="13.7" r="0.5" fill="#4a4aa8"/><circle cx="8.3" cy="3.6" r="0.5" fill="#3a48b0"/><circle cx="0.7" cy="3.3" r="0.5" fill="#e8e4f0"/><circle cx="1.6" cy="8.8" r="0.5" fill="#5a50b0"/><circle cx="1.2" cy="4.4" r="0.5" fill="#3a48b0"/><circle cx="4.4" cy="5.5" r="0.5" fill="#b03a60"/><circle cx="11.6" cy="8.2" r="0.5" fill="#c03a58"/><circle cx="3.3" cy="4.5" r="0.5" fill="#3a48b0"/><circle cx="11.2" cy="13.7" r="0.5" fill="#5a50b0"/><circle cx="15.3" cy="2.7" r="0.5" fill="#e8e4f0"/><circle cx="5.8" cy="3.0" r="0.5" fill="#b03a60"/><circle cx="3.5" cy="9.7" r="0.5" fill="#c03a58"/><circle cx="14.6" cy="12.8" r="0.5" fill="#5a50b0"/><circle cx="3.9" cy="0.1" r="0.5" fill="#4a4aa8"/><circle cx="4.0" cy="1.9" r="0.5" fill="#c03a58"/><circle cx="16.0" cy="8.1" r="0.5" fill="#4a4aa8"/><circle cx="14.8" cy="14.1" r="0.5" fill="#b03a60"/><circle cx="13.3" cy="10.2" r="0.5" fill="#5a50b0"/><circle cx="12.5" cy="8.0" r="0.5" fill="#3a48b0"/><circle cx="10.0" cy="4.2" r="0.5" fill="#3a48b0"/><circle cx="14.3" cy="2.6" r="0.5" fill="#c03a58"/><circle cx="9.9" cy="0.7" r="0.5" fill="#c03a58"/><circle cx="15.1" cy="8.2" r="0.5" fill="#b03a60"/><circle cx="7.1" cy="12.7" r="0.5" fill="#b03a60"/><circle cx="4.6" cy="4.1" r="0.5" fill="#b03a60"/><circle cx="0.1" cy="0.4" r="0.5" fill="#e8e4f0"/><circle cx="14.2" cy="6.7" r="0.5" fill="#5a50b0"/><circle cx="3.2" cy="7.5" r="0.5" fill="#4a4aa8"/><circle cx="9.0" cy="10.0" r="0.5" fill="#c03a58"/><circle cx="12.2" cy="6.7" r="0.5" fill="#e8e4f0"/><circle cx="1.5" cy="6.5" r="0.5" fill="#5a50b0"/><circle cx="9.3" cy="5.6" r="0.5" fill="#c03a58"/><circle cx="10.2" cy="6.2" r="0.5" fill="#5a50b0"/><circle cx="0.3" cy="11.4" r="0.5" fill="#4a4aa8"/><circle cx="12.8" cy="14.4" r="0.5" fill="#3a48b0"/><circle cx="8.6" cy="12.6" r="0.5" fill="#3a48b0"/><circle cx="12.7" cy="11.4" r="0.5" fill="#5a50b0"/><circle cx="5.0" cy="14.9" r="0.5" fill="#b03a60"/><circle cx="11.0" cy="7.9" r="0.5" fill="#e8e4f0"/><circle cx="2.0" cy="8.5" r="0.5" fill="#b03a60"/><circle cx="10.9" cy="9.3" r="0.5" fill="#4a4aa8"/><circle cx="6.5" cy="5.2" r="0.5" fill="#b03a60"/><circle cx="5.3" cy="11.0" r="0.5" fill="#b03a60"/><circle cx="5.0" cy="11.1" r="0.5" fill="#b03a60"/><circle cx="10.6" cy="15.0" r="0.5" fill="#c03a58"/><circle cx="2.8" cy="3.3" r="0.5" fill="#e8e4f0"/><circle cx="7.1" cy="2.9" r="0.5" fill="#b03a60"/><circle cx="9.5" cy="7.3" r="0.5" fill="#c03a58"/><circle cx="1.6" cy="3.6" r="0.5" fill="#c03a58"/><circle cx="5.9" cy="13.6" r="0.5" fill="#b03a60"/><circle cx="6.9" cy="3.5" r="0.5" fill="#5a50b0"/><circle cx="8.0" cy="11.2" r="0.5" fill="#5a50b0"/><circle cx="8.0" cy="6.2" r="0.5" fill="#e8e4f0"/><circle cx="13.5" cy="4.0" r="0.5" fill="#3a48b0"/><circle cx="12.6" cy="0.8" r="0.5" fill="#5a50b0"/><circle cx="6.5" cy="11.2" r="0.5" fill="#3a48b0"/><circle cx="8.3" cy="7.0" r="0.5" fill="#4a4aa8"/><circle cx="15.6" cy="8.9" r="0.5" fill="#b03a60"/><circle cx="5.0" cy="12.2" r="0.5" fill="#4a4aa8"/><circle cx="5.2" cy="8.0" r="0.5" fill="#c03a58"/><circle cx="10.1" cy="2.7" r="0.5" fill="#3a48b0"/><circle cx="3.6" cy="8.7" r="0.5" fill="#c03a58"/><circle cx="7.9" cy="6.9" r="0.5" fill="#c03a58"/><circle cx="4.6" cy="15.0" r="0.5" fill="#e8e4f0"/><circle cx="4.5" cy="13.0" r="0.5" fill="#e8e4f0"/><circle cx="5.1" cy="2.0" r="0.5" fill="#b03a60"/><circle cx="0.5" cy="10.5" r="0.5" fill="#3a48b0"/><circle cx="6.6" cy="9.9" r="0.5" fill="#c03a58"/><circle cx="5.4" cy="12.3" r="0.5" fill="#3a48b0"/><circle cx="6.2" cy="6.4" r="0.5" fill="#5a50b0"/><circle cx="2.7" cy="3.3" r="0.5" fill="#c03a58"/><circle cx="1.8" cy="4.3" r="0.5" fill="#4a4aa8"/><circle cx="13.9" cy="10.4" r="0.5" fill="#b03a60"/><circle cx="13.1" cy="5.7" r="0.5" fill="#b03a60"/><circle cx="14.6" cy="12.3" r="0.5" fill="#c03a58"/><circle cx="13.3" cy="3.4" r="0.5" fill="#4a4aa8"/><circle cx="8.9" cy="0.7" r="0.5" fill="#5a50b0"/><circle cx="3.1" cy="3.2" r="0.5" fill="#c03a58"/><circle cx="14.8" cy="15.7" r="0.5" fill="#c03a58"/><circle cx="8.7" cy="0.3" r="0.5" fill="#4a4aa8"/><circle cx="5.8" cy="8.0" r="0.5" fill="#5a50b0"/><circle cx="7.2" cy="8.4" r="0.5" fill="#b03a60"/><circle cx="2.0" cy="6.3" r="0.5" fill="#3a48b0"/><circle cx="10.2" cy="7.5" r="0.5" fill="#b03a60"/><circle cx="13.4" cy="13.6" r="0.5" fill="#e8e4f0"/><circle cx="0.5" cy="13.5" r="0.5" fill="#4a4aa8"/><circle cx="14.8" cy="7.9" r="0.5" fill="#c03a58"/><circle cx="11.0" cy="15.3" r="0.5" fill="#b03a60"/><circle cx="12.7" cy="8.8" r="0.5" fill="#e8e4f0"/><circle cx="6.0" cy="1.1" r="0.5" fill="#5a50b0"/><circle cx="5.6" cy="3.7" r="0.5" fill="#3a48b0"/><circle cx="1.3" cy="0.9" r="0.5" fill="#4a4aa8"/><circle cx="14.9" cy="0.5" r="0.5" fill="#b03a60"/><circle cx="11.0" cy="9.9" r="0.5" fill="#b03a60"/><circle cx="15.4" cy="11.9" r="0.5" fill="#4a4aa8"/><circle cx="9.5" cy="9.4" r="0.5" fill="#3a48b0"/><circle cx="10.1" cy="7.4" r="0.5" fill="#c03a58"/><circle cx="6.8" cy="8.7" r="0.5" fill="#c03a58"/><circle cx="12.8" cy="6.3" r="0.5" fill="#b03a60"/><circle cx="9.7" cy="15.2" r="0.5" fill="#b03a60"/><circle cx="14.9" cy="5.8" r="0.5" fill="#c03a58"/><circle cx="2.0" cy="7.8" r="0.5" fill="#5a50b0"/><circle cx="10.7" cy="0.2" r="0.5" fill="#5a50b0"/><circle cx="2.0" cy="7.0" r="0.5" fill="#c03a58"/><circle cx="13.2" cy="12.1" r="0.5" fill="#c03a58"/><circle cx="9.5" cy="12.2" r="0.5" fill="#3a48b0"/><circle cx="5.5" cy="14.2" r="0.5" fill="#b03a60"/><circle cx="8.6" cy="5.8" r="0.5" fill="#5a50b0"/><circle cx="5.5" cy="4.3" r="0.5" fill="#e8e4f0"/><circle cx="2.0" cy="8.7" r="0.5" fill="#3a48b0"/><circle cx="11.9" cy="4.0" r="0.5" fill="#3a48b0"/><circle cx="15.9" cy="1.9" r="0.5" fill="#e8e4f0"/><circle cx="10.1" cy="2.8" r="0.5" fill="#e8e4f0"/><circle cx="2.5" cy="9.9" r="0.5" fill="#c03a58"/><circle cx="6.1" cy="5.0" r="0.5" fill="#c03a58"/><circle cx="14.5" cy="14.7" r="0.5" fill="#e8e4f0"/><circle cx="9.6" cy="1.1" r="0.5" fill="#e8e4f0"/><circle cx="6.4" cy="3.3" r="0.5" fill="#c03a58"/><circle cx="9.9" cy="9.9" r="0.5" fill="#5a50b0"/><circle cx="4.7" cy="5.3" r="0.5" fill="#b03a60"/><circle cx="10.3" cy="0.7" r="0.5" fill="#c03a58"/><circle cx="10.4" cy="1.2" r="0.5" fill="#b03a60"/><circle cx="8.4" cy="13.8" r="0.5" fill="#5a50b0"/><circle cx="13.0" cy="15.8" r="0.5" fill="#b03a60"/><circle cx="5.0" cy="12.7" r="0.5" fill="#5a50b0"/><circle cx="4.5" cy="13.5" r="0.5" fill="#5a50b0"/><circle cx="3.0" cy="4.4" r="0.5" fill="#4a4aa8"/><circle cx="10.2" cy="9.4" r="0.5" fill="#3a48b0"/><circle cx="11.9" cy="5.0" r="0.5" fill="#5a50b0"/><circle cx="15.0" cy="6.3" r="0.5" fill="#3a48b0"/><circle cx="6.2" cy="4.4" r="0.5" fill="#5a50b0"/><circle cx="3.8" cy="8.4" r="0.5" fill="#b03a60"/><circle cx="7.8" cy="10.5" r="0.5" fill="#b03a60"/><circle cx="9.9" cy="11.4" r="0.5" fill="#c03a58"/><circle cx="6.4" cy="2.2" r="0.5" fill="#4a4aa8"/><circle cx="14.2" cy="12.6" r="0.5" fill="#3a48b0"/><circle cx="10.8" cy="4.6" r="0.5" fill="#3a48b0"/><circle cx="2.4" cy="13.4" r="0.5" fill="#3a48b0"/><circle cx="9.2" cy="2.9" r="0.5" fill="#3a48b0"/><circle cx="6.6" cy="0.8" r="0.5" fill="#4a4aa8"/><circle cx="7.2" cy="8.5" r="0.5" fill="#5a50b0"/><circle cx="2.5" cy="1.9" r="0.5" fill="#e8e4f0"/><circle cx="6.1" cy="7.8" r="0.5" fill="#e8e4f0"/><circle cx="1.5" cy="3.1" r="0.5" fill="#5a50b0"/><circle cx="6.1" cy="8.5" r="0.5" fill="#c03a58"/><circle cx="14.9" cy="8.5" r="0.5" fill="#c03a58"/><circle cx="12.6" cy="2.0" r="0.5" fill="#5a50b0"/><circle cx="12.2" cy="8.8" r="0.5" fill="#5a50b0"/><circle cx="4.2" cy="8.5" r="0.5" fill="#3a48b0"/><circle cx="1.7" cy="9.9" r="0.5" fill="#5a50b0"/><circle cx="15.4" cy="9.1" r="0.5" fill="#b03a60"/><circle cx="0.9" cy="4.8" r="0.5" fill="#3a48b0"/><circle cx="6.1" cy="13.5" r="0.5" fill="#4a4aa8"/><circle cx="1.2" cy="14.7" r="0.5" fill="#e8e4f0"/><circle cx="7.3" cy="12.6" r="0.5" fill="#e8e4f0"/><circle cx="6.4" cy="0.1" r="0.5" fill="#e8e4f0"/><circle cx="6.0" cy="14.4" r="0.5" fill="#4a4aa8"/><circle cx="5.4" cy="1.2" r="0.5" fill="#b03a60"/><circle cx="10.0" cy="15.8" r="0.5" fill="#5a50b0"/><circle cx="4.8" cy="4.5" r="0.5" fill="#e8e4f0"/><circle cx="11.9" cy="8.4" r="0.5" fill="#b03a60"/><circle cx="10.8" cy="13.9" r="0.5" fill="#b03a60"/><circle cx="15.4" cy="11.1" r="0.5" fill="#c03a58"/><circle cx="1.3" cy="2.0" r="0.5" fill="#4a4aa8"/><circle cx="1.8" cy="12.9" r="0.5" fill="#4a4aa8"/><circle cx="9.6" cy="2.1" r="0.5" fill="#e8e4f0"/><circle cx="8.5" cy="2.8" r="0.5" fill="#c03a58"/><circle cx="15.6" cy="3.6" r="0.5" fill="#3a48b0"/><circle cx="0.3" cy="2.3" r="0.5" fill="#3a48b0"/><circle cx="9.1" cy="11.2" r="0.5" fill="#5a50b0"/><circle cx="13.2" cy="12.0" r="0.5" fill="#c03a58"/><circle cx="6.9" cy="12.2" r="0.5" fill="#5a50b0"/><circle cx="2.7" cy="0.3" r="0.5" fill="#e8e4f0"/><circle cx="5.7" cy="4.7" r="0.5" fill="#e8e4f0"/><circle cx="7.8" cy="6.6" r="0.5" fill="#c03a58"/><circle cx="0.6" cy="4.8" r="0.5" fill="#e8e4f0"/><circle cx="10.0" cy="8.9" r="0.5" fill="#4a4aa8"/></pattern></defs>
<defs><filter id="spk3" x="-5%" y="-5%" width="110%" height="110%" color-interpolation-filters="sRGB"><feTurbulence type="fractalNoise" baseFrequency="1.1" numOctaves="2" seed="8" result="n"/><feColorMatrix in="n" type="matrix" values="0 0 0 0 0  0 0 0 0 0  0 0 0 0 0  10 0 0 0 -1.9" result="m"/><feComposite in="SourceGraphic" in2="m" operator="in" result="c"/><feTurbulence type="fractalNoise" baseFrequency="0.35" numOctaves="1" seed="3" result="n2"/><feDisplacementMap in="c" in2="n2" scale="2.2" xChannelSelector="R" yChannelSelector="G"/></filter></defs>
<g filter="url(#spk3)">
<path d="M320.00,93.60 C321.57,91.80 324.33,90.63 326.80,89.50 C329.27,88.37 332.80,87.47 334.80,86.80 C336.80,86.13 337.23,85.27 338.80,85.50 C340.37,85.73 342.40,87.30 344.20,88.20 C346.00,89.10 347.80,89.78 349.60,90.90 C351.40,92.02 353.43,93.57 355.00,94.90 C356.57,96.23 358.40,97.33 359.00,98.90 C359.60,100.47 358.15,101.38 358.60,104.30 C359.05,107.22 361.42,112.82 361.70,116.40 C361.98,119.98 361.20,122.67 360.30,125.80 C359.40,128.93 357.87,132.52 356.30,135.20 C354.73,137.88 352.92,139.67 350.90,141.90 C348.88,144.13 346.22,147.65 344.20,148.60 C342.18,149.55 341.03,149.17 338.80,147.60 C336.57,146.03 333.27,142.17 330.80,139.20 C328.33,136.23 326.13,133.60 324.00,129.80 C321.87,126.00 319.10,121.32 318.00,116.40 C316.90,111.48 317.07,104.10 317.40,100.30 C317.73,96.50 318.43,95.40 320.00,93.60 Z" fill="#5a52a8" stroke="#5a52a8" stroke-width="1.0" />
<path d="M346.60,68.90 C346.60,67.15 346.85,64.30 347.40,62.40 C347.95,60.50 348.68,58.87 349.90,57.50 C351.12,56.13 352.82,55.02 354.70,54.20 C356.58,53.38 359.43,52.60 361.20,52.60 C362.97,52.60 364.75,53.38 365.30,54.20 C365.85,55.02 365.45,56.55 364.50,57.50 C363.55,58.45 361.23,58.95 359.60,59.90 C357.97,60.85 355.92,61.70 354.70,63.20 C353.48,64.70 352.97,67.28 352.30,68.90 C351.63,70.52 351.52,72.23 350.70,72.90 C349.88,73.57 348.08,73.57 347.40,72.90 C346.72,72.23 346.60,70.65 346.60,68.90 Z" fill="#5a52a8" stroke="#5a52a8" stroke-width="1.8" stroke-linejoin="round"/>
<path d="M317.40,98.10 C318.52,95.37 321.47,92.17 323.90,90.00 C326.33,87.83 329.43,86.18 332.00,85.10 C334.57,84.02 337.55,83.23 339.30,83.50 C341.05,83.77 342.30,85.08 342.50,86.70 C342.70,88.32 340.73,91.03 340.50,93.20 C340.27,95.37 341.37,97.93 341.10,99.70 C340.83,101.47 341.50,102.85 338.90,103.80 C336.30,104.75 329.12,104.97 325.50,105.40 C321.88,105.83 318.55,107.62 317.20,106.40 C315.85,105.18 316.28,100.83 317.40,98.10 Z" fill="#5a52a8" stroke="#5a52a8" stroke-width="1.8" stroke-linejoin="round"/>
<path d="M317.20,106.20 C318.42,104.08 321.88,105.35 325.50,104.90 C329.12,104.45 336.30,103.28 338.90,103.50 C341.50,103.72 340.60,104.12 341.10,106.20 C341.60,108.28 342.17,112.75 341.90,116.00 C341.63,119.25 341.42,123.82 339.50,125.70 C337.58,127.58 333.00,127.30 330.40,127.30 C327.80,127.30 325.93,127.32 323.90,125.70 C321.87,124.08 319.32,120.85 318.20,117.60 C317.08,114.35 315.98,108.32 317.20,106.20 Z" fill="#5a52a8" stroke="#5a52a8" stroke-width="1.8" stroke-linejoin="round"/>
<path d="M340.10,106.20 C340.78,102.95 343.52,101.57 345.00,101.30 C346.48,101.03 347.38,102.70 349.00,104.60 C350.62,106.50 352.67,110.00 354.70,112.70 C356.73,115.40 359.98,118.08 361.20,120.80 C362.42,123.52 362.53,126.55 362.00,129.00 C361.47,131.45 359.48,134.33 358.00,135.50 C356.52,136.67 354.87,137.63 353.10,136.00 C351.33,134.37 349.43,128.23 347.40,125.70 C345.37,123.17 342.12,124.05 340.90,120.80 C339.68,117.55 339.42,109.45 340.10,106.20 Z" fill="#5a52a8" stroke="#5a52a8" stroke-width="1.8" stroke-linejoin="round"/>
<path d="M349.90,98.10 C350.43,95.93 353.08,95.07 354.70,94.80 C356.32,94.53 358.38,94.60 359.60,96.50 C360.82,98.40 361.60,102.68 362.00,106.20 C362.40,109.72 362.40,114.88 362.00,117.60 C361.60,120.32 360.82,122.77 359.60,122.50 C358.38,122.23 356.05,118.45 354.70,116.00 C353.35,113.55 352.30,110.78 351.50,107.80 C350.70,104.82 349.37,100.27 349.90,98.10 Z" fill="#5a52a8" stroke="#5a52a8" stroke-width="1.8" stroke-linejoin="round"/>
<path d="M323.90,125.70 C324.62,124.25 327.97,126.83 330.40,126.80 C332.83,126.77 335.80,125.95 338.50,125.50 C341.20,125.05 344.43,123.52 346.60,124.10 C348.77,124.68 350.15,126.57 351.50,129.00 C352.85,131.43 354.43,135.73 354.70,138.70 C354.97,141.67 354.45,145.08 353.10,146.80 C351.75,148.52 349.03,148.83 346.60,149.00 C344.17,149.17 340.93,148.80 338.50,147.80 C336.07,146.80 334.07,145.05 332.00,143.00 C329.93,140.95 327.45,138.38 326.10,135.50 C324.75,132.62 323.18,127.15 323.90,125.70 Z" fill="#5a52a8" stroke="#5a52a8" stroke-width="1.8" stroke-linejoin="round"/>
<path d="M339.00,77.50 C339.83,75.67 343.67,75.75 346.00,76.00 C348.33,76.25 351.50,77.42 353.00,79.00 C354.50,80.58 355.00,83.50 355.00,85.50 C355.00,87.50 354.50,90.17 353.00,91.00 C351.50,91.83 348.00,91.17 346.00,90.50 C344.00,89.83 342.17,89.17 341.00,87.00 C339.83,84.83 338.17,79.33 339.00,77.50 Z" fill="#5a52a8" stroke="#5a52a8" stroke-width="1.8" stroke-linejoin="round"/>
<path d="M352.30,71.30 C353.25,69.42 355.97,69.03 358.00,68.90 C360.03,68.77 363.02,69.15 364.50,70.50 C365.98,71.85 366.77,74.83 366.90,77.00 C367.03,79.17 366.38,82.02 365.30,83.50 C364.22,84.98 362.17,85.63 360.40,85.90 C358.63,86.17 356.05,86.05 354.70,85.10 C353.35,84.15 352.70,82.50 352.30,80.20 C351.90,77.90 351.35,73.18 352.30,71.30 Z" fill="#5a52a8" stroke="#5a52a8" stroke-width="1.8" stroke-linejoin="round"/>
<path d="M339.30,72.00 C339.63,70.93 341.00,69.23 342.00,68.90 C343.00,68.57 344.67,69.15 345.30,70.00 C345.93,70.85 346.18,72.97 345.80,74.00 C345.42,75.03 343.97,75.98 343.00,76.20 C342.03,76.42 340.62,76.00 340.00,75.30 C339.38,74.60 338.97,73.07 339.30,72.00 Z" fill="#5a52a8" stroke="#5a52a8" stroke-width="1.8" stroke-linejoin="round"/>
<path d="M320.00,93.60 C321.57,91.80 324.33,90.63 326.80,89.50 C329.27,88.37 332.80,87.47 334.80,86.80 C336.80,86.13 337.23,85.27 338.80,85.50 C340.37,85.73 342.40,87.30 344.20,88.20 C346.00,89.10 347.80,89.78 349.60,90.90 C351.40,92.02 353.43,93.57 355.00,94.90 C356.57,96.23 358.40,97.33 359.00,98.90 C359.60,100.47 358.15,101.38 358.60,104.30 C359.05,107.22 361.42,112.82 361.70,116.40 C361.98,119.98 361.20,122.67 360.30,125.80 C359.40,128.93 357.87,132.52 356.30,135.20 C354.73,137.88 352.92,139.67 350.90,141.90 C348.88,144.13 346.22,147.65 344.20,148.60 C342.18,149.55 341.03,149.17 338.80,147.60 C336.57,146.03 333.27,142.17 330.80,139.20 C328.33,136.23 326.13,133.60 324.00,129.80 C321.87,126.00 319.10,121.32 318.00,116.40 C316.90,111.48 317.07,104.10 317.40,100.30 C317.73,96.50 318.43,95.40 320.00,93.60 Z" fill="url(#pU)" stroke="none" stroke-width="0.6" />
<path d="M346.60,68.90 C346.60,67.15 346.85,64.30 347.40,62.40 C347.95,60.50 348.68,58.87 349.90,57.50 C351.12,56.13 352.82,55.02 354.70,54.20 C356.58,53.38 359.43,52.60 361.20,52.60 C362.97,52.60 364.75,53.38 365.30,54.20 C365.85,55.02 365.45,56.55 364.50,57.50 C363.55,58.45 361.23,58.95 359.60,59.90 C357.97,60.85 355.92,61.70 354.70,63.20 C353.48,64.70 352.97,67.28 352.30,68.90 C351.63,70.52 351.52,72.23 350.70,72.90 C349.88,73.57 348.08,73.57 347.40,72.90 C346.72,72.23 346.60,70.65 346.60,68.90 Z" fill="url(#pU)" stroke="none" stroke-width="0.6" />
<path d="M317.40,98.10 C318.52,95.37 321.47,92.17 323.90,90.00 C326.33,87.83 329.43,86.18 332.00,85.10 C334.57,84.02 337.55,83.23 339.30,83.50 C341.05,83.77 342.30,85.08 342.50,86.70 C342.70,88.32 340.73,91.03 340.50,93.20 C340.27,95.37 341.37,97.93 341.10,99.70 C340.83,101.47 341.50,102.85 338.90,103.80 C336.30,104.75 329.12,104.97 325.50,105.40 C321.88,105.83 318.55,107.62 317.20,106.40 C315.85,105.18 316.28,100.83 317.40,98.10 Z" fill="url(#pU)" stroke="none" stroke-width="0.6" />
<path d="M317.20,106.20 C318.42,104.08 321.88,105.35 325.50,104.90 C329.12,104.45 336.30,103.28 338.90,103.50 C341.50,103.72 340.60,104.12 341.10,106.20 C341.60,108.28 342.17,112.75 341.90,116.00 C341.63,119.25 341.42,123.82 339.50,125.70 C337.58,127.58 333.00,127.30 330.40,127.30 C327.80,127.30 325.93,127.32 323.90,125.70 C321.87,124.08 319.32,120.85 318.20,117.60 C317.08,114.35 315.98,108.32 317.20,106.20 Z" fill="url(#pU)" stroke="none" stroke-width="0.6" />
<path d="M340.10,106.20 C340.78,102.95 343.52,101.57 345.00,101.30 C346.48,101.03 347.38,102.70 349.00,104.60 C350.62,106.50 352.67,110.00 354.70,112.70 C356.73,115.40 359.98,118.08 361.20,120.80 C362.42,123.52 362.53,126.55 362.00,129.00 C361.47,131.45 359.48,134.33 358.00,135.50 C356.52,136.67 354.87,137.63 353.10,136.00 C351.33,134.37 349.43,128.23 347.40,125.70 C345.37,123.17 342.12,124.05 340.90,120.80 C339.68,117.55 339.42,109.45 340.10,106.20 Z" fill="url(#pU)" stroke="none" stroke-width="0.6" />
<path d="M349.90,98.10 C350.43,95.93 353.08,95.07 354.70,94.80 C356.32,94.53 358.38,94.60 359.60,96.50 C360.82,98.40 361.60,102.68 362.00,106.20 C362.40,109.72 362.40,114.88 362.00,117.60 C361.60,120.32 360.82,122.77 359.60,122.50 C358.38,122.23 356.05,118.45 354.70,116.00 C353.35,113.55 352.30,110.78 351.50,107.80 C350.70,104.82 349.37,100.27 349.90,98.10 Z" fill="url(#pU)" stroke="none" stroke-width="0.6" />
<path d="M323.90,125.70 C324.62,124.25 327.97,126.83 330.40,126.80 C332.83,126.77 335.80,125.95 338.50,125.50 C341.20,125.05 344.43,123.52 346.60,124.10 C348.77,124.68 350.15,126.57 351.50,129.00 C352.85,131.43 354.43,135.73 354.70,138.70 C354.97,141.67 354.45,145.08 353.10,146.80 C351.75,148.52 349.03,148.83 346.60,149.00 C344.17,149.17 340.93,148.80 338.50,147.80 C336.07,146.80 334.07,145.05 332.00,143.00 C329.93,140.95 327.45,138.38 326.10,135.50 C324.75,132.62 323.18,127.15 323.90,125.70 Z" fill="url(#pU)" stroke="none" stroke-width="0.6" />
<path d="M339.00,77.50 C339.83,75.67 343.67,75.75 346.00,76.00 C348.33,76.25 351.50,77.42 353.00,79.00 C354.50,80.58 355.00,83.50 355.00,85.50 C355.00,87.50 354.50,90.17 353.00,91.00 C351.50,91.83 348.00,91.17 346.00,90.50 C344.00,89.83 342.17,89.17 341.00,87.00 C339.83,84.83 338.17,79.33 339.00,77.50 Z" fill="url(#pU)" stroke="none" stroke-width="0.6" />
<path d="M352.30,71.30 C353.25,69.42 355.97,69.03 358.00,68.90 C360.03,68.77 363.02,69.15 364.50,70.50 C365.98,71.85 366.77,74.83 366.90,77.00 C367.03,79.17 366.38,82.02 365.30,83.50 C364.22,84.98 362.17,85.63 360.40,85.90 C358.63,86.17 356.05,86.05 354.70,85.10 C353.35,84.15 352.70,82.50 352.30,80.20 C351.90,77.90 351.35,73.18 352.30,71.30 Z" fill="url(#pU)" stroke="none" stroke-width="0.6" />
<path d="M339.30,72.00 C339.63,70.93 341.00,69.23 342.00,68.90 C343.00,68.57 344.67,69.15 345.30,70.00 C345.93,70.85 346.18,72.97 345.80,74.00 C345.42,75.03 343.97,75.98 343.00,76.20 C342.03,76.42 340.62,76.00 340.00,75.30 C339.38,74.60 338.97,73.07 339.30,72.00 Z" fill="url(#pU)" stroke="none" stroke-width="0.6" />
<path d="M347.5,80 C347,68 349,60 355,57 C362,54.5 368,55.5 374,59" fill="none" stroke="#6a4a98" stroke-width="5" stroke-linecap="round"/>
<path d="M347.5,80 C347,68 349,60 355,57 C362,54.5 368,55.5 374,59" fill="none" stroke="url(#pU)" stroke-width="5" stroke-linecap="round"/>
<path d="M334.00,92.00 C335.67,90.17 340.08,89.92 343.00,90.00 C345.92,90.08 349.50,91.00 351.50,92.50 C353.50,94.00 354.58,96.42 355.00,99.00 C355.42,101.58 354.83,105.50 354.00,108.00 C353.17,110.50 351.83,112.92 350.00,114.00 C348.17,115.08 345.17,115.17 343.00,114.50 C340.83,113.83 338.67,112.25 337.00,110.00 C335.33,107.75 333.50,104.00 333.00,101.00 C332.50,98.00 332.33,93.83 334.00,92.00 Z" fill="#e6dcea" stroke="none" stroke-width="0.6" />
<path d="M334.00,92.00 C335.67,90.17 340.08,89.92 343.00,90.00 C345.92,90.08 349.50,91.00 351.50,92.50 C353.50,94.00 354.58,96.42 355.00,99.00 C355.42,101.58 354.83,105.50 354.00,108.00 C353.17,110.50 351.83,112.92 350.00,114.00 C348.17,115.08 345.17,115.17 343.00,114.50 C340.83,113.83 338.67,112.25 337.00,110.00 C335.33,107.75 333.50,104.00 333.00,101.00 C332.50,98.00 332.33,93.83 334.00,92.00 Z" fill="url(#pS)" stroke="none" stroke-width="0.6" opacity="0.8"/>
<ellipse cx="357.2" cy="80" rx="9.3" ry="6.6" fill="#4a50b0"/>
<ellipse cx="357.2" cy="80" rx="9.3" ry="6.6" fill="url(#pU)" opacity="0.6"/>
<circle cx="342.40" cy="73.20" r="3.00" fill="#4a4aa8" stroke="none" stroke-width="0.3" />
<path d="M366.50,57.50 C366.83,56.58 368.75,55.75 370.00,55.50 C371.25,55.25 373.00,55.25 374.00,56.00 C375.00,56.75 376.33,59.00 376.00,60.00 C375.67,61.00 373.33,61.83 372.00,62.00 C370.67,62.17 368.92,61.75 368.00,61.00 C367.08,60.25 366.17,58.42 366.50,57.50 Z" fill="#6a62b0" stroke="#6a62b0" stroke-width="1.0" opacity="0.55"/>
<path d="M366.50,57.50 C366.83,56.58 368.75,55.75 370.00,55.50 C371.25,55.25 373.00,55.25 374.00,56.00 C375.00,56.75 376.33,59.00 376.00,60.00 C375.67,61.00 373.33,61.83 372.00,62.00 C370.67,62.17 368.92,61.75 368.00,61.00 C367.08,60.25 366.17,58.42 366.50,57.50 Z" fill="url(#pS)" stroke="none" stroke-width="0.6" />
<path d="M373.40,45.80 C374.30,44.23 376.28,43.67 378.20,43.10 C380.12,42.53 383.12,42.85 384.90,42.40 C386.68,41.95 387.33,40.62 388.90,40.40 C390.47,40.18 392.95,40.43 394.30,41.10 C395.65,41.77 397.00,43.17 397.00,44.40 C397.00,45.63 395.42,47.15 394.30,48.50 C393.18,49.85 391.65,51.38 390.30,52.50 C388.95,53.62 387.33,53.85 386.20,55.20 C385.07,56.55 384.62,59.48 383.50,60.60 C382.38,61.72 380.83,62.13 379.50,61.90 C378.17,61.67 376.62,60.77 375.50,59.20 C374.38,57.63 373.15,54.73 372.80,52.50 C372.45,50.27 372.50,47.37 373.40,45.80 Z" fill="#6a62b0" stroke="#6a62b0" stroke-width="1.0" opacity="0.55"/>
<path d="M373.40,45.80 C374.30,44.23 376.28,43.67 378.20,43.10 C380.12,42.53 383.12,42.85 384.90,42.40 C386.68,41.95 387.33,40.62 388.90,40.40 C390.47,40.18 392.95,40.43 394.30,41.10 C395.65,41.77 397.00,43.17 397.00,44.40 C397.00,45.63 395.42,47.15 394.30,48.50 C393.18,49.85 391.65,51.38 390.30,52.50 C388.95,53.62 387.33,53.85 386.20,55.20 C385.07,56.55 384.62,59.48 383.50,60.60 C382.38,61.72 380.83,62.13 379.50,61.90 C378.17,61.67 376.62,60.77 375.50,59.20 C374.38,57.63 373.15,54.73 372.80,52.50 C372.45,50.27 372.50,47.37 373.40,45.80 Z" fill="url(#pS)" stroke="none" stroke-width="0.6" />
<path d="M383.00,63.00 C383.17,61.67 385.50,59.17 387.00,57.50 C388.50,55.83 390.33,54.50 392.00,53.00 C393.67,51.50 395.58,49.42 397.00,48.50 C398.42,47.58 399.75,47.17 400.50,47.50 C401.25,47.83 401.92,49.42 401.50,50.50 C401.08,51.58 399.25,52.67 398.00,54.00 C396.75,55.33 395.33,57.08 394.00,58.50 C392.67,59.92 391.33,61.33 390.00,62.50 C388.67,63.67 387.17,65.42 386.00,65.50 C384.83,65.58 382.83,64.33 383.00,63.00 Z" fill="#6a62b0" stroke="#6a62b0" stroke-width="1.0" opacity="0.55"/>
<path d="M383.00,63.00 C383.17,61.67 385.50,59.17 387.00,57.50 C388.50,55.83 390.33,54.50 392.00,53.00 C393.67,51.50 395.58,49.42 397.00,48.50 C398.42,47.58 399.75,47.17 400.50,47.50 C401.25,47.83 401.92,49.42 401.50,50.50 C401.08,51.58 399.25,52.67 398.00,54.00 C396.75,55.33 395.33,57.08 394.00,58.50 C392.67,59.92 391.33,61.33 390.00,62.50 C388.67,63.67 387.17,65.42 386.00,65.50 C384.83,65.58 382.83,64.33 383.00,63.00 Z" fill="url(#pS)" stroke="none" stroke-width="0.6" />
<path d="M395.00,57.00 C395.67,56.17 399.00,55.67 401.00,55.50 C403.00,55.33 405.37,55.62 407.00,56.00 C408.63,56.38 410.47,57.13 410.80,57.80 C411.13,58.47 410.30,59.55 409.00,60.00 C407.70,60.45 405.00,60.42 403.00,60.50 C401.00,60.58 398.33,61.08 397.00,60.50 C395.67,59.92 394.33,57.83 395.00,57.00 Z" fill="#6a62b0" stroke="#6a62b0" stroke-width="1.0" opacity="0.55"/>
<path d="M395.00,57.00 C395.67,56.17 399.00,55.67 401.00,55.50 C403.00,55.33 405.37,55.62 407.00,56.00 C408.63,56.38 410.47,57.13 410.80,57.80 C411.13,58.47 410.30,59.55 409.00,60.00 C407.70,60.45 405.00,60.42 403.00,60.50 C401.00,60.58 398.33,61.08 397.00,60.50 C395.67,59.92 394.33,57.83 395.00,57.00 Z" fill="url(#pS)" stroke="none" stroke-width="0.6" />
<path d="M390.00,62.00 C390.50,61.00 393.33,60.58 395.00,60.50 C396.67,60.42 398.83,60.83 400.00,61.50 C401.17,62.17 402.33,63.58 402.00,64.50 C401.67,65.42 399.67,66.67 398.00,67.00 C396.33,67.33 393.33,67.33 392.00,66.50 C390.67,65.67 389.50,63.00 390.00,62.00 Z" fill="#6a62b0" stroke="#6a62b0" stroke-width="1.0" opacity="0.55"/>
<path d="M390.00,62.00 C390.50,61.00 393.33,60.58 395.00,60.50 C396.67,60.42 398.83,60.83 400.00,61.50 C401.17,62.17 402.33,63.58 402.00,64.50 C401.67,65.42 399.67,66.67 398.00,67.00 C396.33,67.33 393.33,67.33 392.00,66.50 C390.67,65.67 389.50,63.00 390.00,62.00 Z" fill="url(#pS)" stroke="none" stroke-width="0.6" />
<path d="M376.80,69.50 C377.13,68.72 378.40,67.38 379.00,67.30 C379.60,67.22 380.40,68.22 380.40,69.00 C380.40,69.78 379.57,71.50 379.00,72.00 C378.43,72.50 377.37,72.42 377.00,72.00 C376.63,71.58 376.47,70.28 376.80,69.50 Z" fill="#6a62b0" stroke="#6a62b0" stroke-width="1.0" opacity="0.55"/>
<path d="M376.80,69.50 C377.13,68.72 378.40,67.38 379.00,67.30 C379.60,67.22 380.40,68.22 380.40,69.00 C380.40,69.78 379.57,71.50 379.00,72.00 C378.43,72.50 377.37,72.42 377.00,72.00 C376.63,71.58 376.47,70.28 376.80,69.50 Z" fill="url(#pS)" stroke="none" stroke-width="0.6" />
<path d="M400.40,72.00 C400.85,71.22 402.47,70.70 403.70,70.70 C404.93,70.70 406.33,71.55 407.80,72.00 C409.27,72.45 411.83,72.83 412.50,73.40 C413.17,73.97 413.03,74.97 411.80,75.40 C410.57,75.83 406.90,76.00 405.10,76.00 C403.30,76.00 401.78,76.07 401.00,75.40 C400.22,74.73 399.95,72.78 400.40,72.00 Z" fill="#6a62b0" stroke="#6a62b0" stroke-width="1.0" opacity="0.55"/>
<path d="M400.40,72.00 C400.85,71.22 402.47,70.70 403.70,70.70 C404.93,70.70 406.33,71.55 407.80,72.00 C409.27,72.45 411.83,72.83 412.50,73.40 C413.17,73.97 413.03,74.97 411.80,75.40 C410.57,75.83 406.90,76.00 405.10,76.00 C403.30,76.00 401.78,76.07 401.00,75.40 C400.22,74.73 399.95,72.78 400.40,72.00 Z" fill="url(#pS)" stroke="none" stroke-width="0.6" />
<path d="M382.20,71.30 C383.22,70.52 385.80,69.52 387.60,69.30 C389.40,69.08 391.88,69.22 393.00,70.00 C394.12,70.78 394.20,72.65 394.30,74.00 C394.40,75.35 393.38,76.97 393.60,78.10 C393.82,79.23 394.13,80.13 395.60,80.80 C397.07,81.47 400.15,82.00 402.40,82.10 C404.65,82.20 407.65,81.17 409.10,81.40 C410.55,81.63 411.32,82.93 411.10,83.50 C410.88,84.07 409.48,84.58 407.80,84.80 C406.12,85.02 403.25,85.02 401.00,84.80 C398.75,84.58 396.32,83.72 394.30,83.50 C392.28,83.28 390.47,83.73 388.90,83.50 C387.33,83.27 386.02,83.00 384.90,82.10 C383.78,81.20 382.77,79.45 382.20,78.10 C381.63,76.75 381.50,75.13 381.50,74.00 C381.50,72.87 381.18,72.08 382.20,71.30 Z" fill="#6a62b0" stroke="#6a62b0" stroke-width="1.0" opacity="0.55"/>
<path d="M382.20,71.30 C383.22,70.52 385.80,69.52 387.60,69.30 C389.40,69.08 391.88,69.22 393.00,70.00 C394.12,70.78 394.20,72.65 394.30,74.00 C394.40,75.35 393.38,76.97 393.60,78.10 C393.82,79.23 394.13,80.13 395.60,80.80 C397.07,81.47 400.15,82.00 402.40,82.10 C404.65,82.20 407.65,81.17 409.10,81.40 C410.55,81.63 411.32,82.93 411.10,83.50 C410.88,84.07 409.48,84.58 407.80,84.80 C406.12,85.02 403.25,85.02 401.00,84.80 C398.75,84.58 396.32,83.72 394.30,83.50 C392.28,83.28 390.47,83.73 388.90,83.50 C387.33,83.27 386.02,83.00 384.90,82.10 C383.78,81.20 382.77,79.45 382.20,78.10 C381.63,76.75 381.50,75.13 381.50,74.00 C381.50,72.87 381.18,72.08 382.20,71.30 Z" fill="url(#pS)" stroke="none" stroke-width="0.6" />
<ellipse cx="390.5" cy="41.8" rx="4" ry="2.2" fill="#d03038"/>
<path d="M366.00,99.50 C366.62,98.38 368.08,96.93 369.50,96.30 C370.92,95.67 373.00,95.50 374.50,95.70 C376.00,95.90 377.62,96.62 378.50,97.50 C379.38,98.38 379.88,99.75 379.80,101.00 C379.72,102.25 379.05,104.05 378.00,105.00 C376.95,105.95 375.08,106.58 373.50,106.70 C371.92,106.82 369.78,106.32 368.50,105.70 C367.22,105.08 366.22,104.03 365.80,103.00 C365.38,101.97 365.38,100.62 366.00,99.50 Z" fill="#6a60b0" stroke="#6a60b0" stroke-width="1.4" opacity="0.75" stroke-linejoin="round"/>
<path d="M366.00,99.50 C366.62,98.38 368.08,96.93 369.50,96.30 C370.92,95.67 373.00,95.50 374.50,95.70 C376.00,95.90 377.62,96.62 378.50,97.50 C379.38,98.38 379.88,99.75 379.80,101.00 C379.72,102.25 379.05,104.05 378.00,105.00 C376.95,105.95 375.08,106.58 373.50,106.70 C371.92,106.82 369.78,106.32 368.50,105.70 C367.22,105.08 366.22,104.03 365.80,103.00 C365.38,101.97 365.38,100.62 366.00,99.50 Z" fill="url(#pS)" stroke="none" stroke-width="0.6" />
<path d="M393.00,101.00 C393.58,99.75 395.10,98.25 396.50,97.50 C397.90,96.75 399.87,96.45 401.40,96.50 C402.93,96.55 404.40,97.23 405.70,97.80 C407.00,98.37 408.48,98.87 409.20,99.90 C409.92,100.93 410.33,102.72 410.00,104.00 C409.67,105.28 408.40,106.65 407.20,107.60 C406.00,108.55 404.25,109.22 402.80,109.70 C401.35,110.18 399.70,110.95 398.50,110.50 C397.30,110.05 396.52,107.92 395.60,107.00 C394.68,106.08 393.43,106.00 393.00,105.00 C392.57,104.00 392.42,102.25 393.00,101.00 Z" fill="#6a60b0" stroke="#6a60b0" stroke-width="1.4" opacity="0.75" stroke-linejoin="round"/>
<path d="M393.00,101.00 C393.58,99.75 395.10,98.25 396.50,97.50 C397.90,96.75 399.87,96.45 401.40,96.50 C402.93,96.55 404.40,97.23 405.70,97.80 C407.00,98.37 408.48,98.87 409.20,99.90 C409.92,100.93 410.33,102.72 410.00,104.00 C409.67,105.28 408.40,106.65 407.20,107.60 C406.00,108.55 404.25,109.22 402.80,109.70 C401.35,110.18 399.70,110.95 398.50,110.50 C397.30,110.05 396.52,107.92 395.60,107.00 C394.68,106.08 393.43,106.00 393.00,105.00 C392.57,104.00 392.42,102.25 393.00,101.00 Z" fill="url(#pS)" stroke="none" stroke-width="0.6" />
<path d="M402.80,110.50 C403.65,109.42 406.67,108.55 408.60,108.30 C410.53,108.05 412.83,108.17 414.40,109.00 C415.97,109.83 417.77,111.85 418.00,113.30 C418.23,114.75 416.88,116.48 415.80,117.70 C414.72,118.92 412.47,119.17 411.50,120.60 C410.53,122.03 410.00,124.38 410.00,126.30 C410.00,128.22 411.97,130.90 411.50,132.10 C411.03,133.30 408.65,132.78 407.20,133.50 C405.75,134.22 404.25,136.15 402.80,136.40 C401.35,136.65 399.70,135.95 398.50,135.00 C397.30,134.05 395.37,131.90 395.60,130.70 C395.83,129.50 398.45,128.77 399.90,127.80 C401.35,126.83 403.33,126.35 404.30,124.90 C405.27,123.45 405.83,120.78 405.70,119.10 C405.57,117.42 403.98,116.23 403.50,114.80 C403.02,113.37 401.95,111.58 402.80,110.50 Z" fill="#6a60b0" stroke="#6a60b0" stroke-width="1.4" opacity="0.75" stroke-linejoin="round"/>
<path d="M402.80,110.50 C403.65,109.42 406.67,108.55 408.60,108.30 C410.53,108.05 412.83,108.17 414.40,109.00 C415.97,109.83 417.77,111.85 418.00,113.30 C418.23,114.75 416.88,116.48 415.80,117.70 C414.72,118.92 412.47,119.17 411.50,120.60 C410.53,122.03 410.00,124.38 410.00,126.30 C410.00,128.22 411.97,130.90 411.50,132.10 C411.03,133.30 408.65,132.78 407.20,133.50 C405.75,134.22 404.25,136.15 402.80,136.40 C401.35,136.65 399.70,135.95 398.50,135.00 C397.30,134.05 395.37,131.90 395.60,130.70 C395.83,129.50 398.45,128.77 399.90,127.80 C401.35,126.83 403.33,126.35 404.30,124.90 C405.27,123.45 405.83,120.78 405.70,119.10 C405.57,117.42 403.98,116.23 403.50,114.80 C403.02,113.37 401.95,111.58 402.80,110.50 Z" fill="url(#pS)" stroke="none" stroke-width="0.6" />
<path d="M410.00,120.60 C410.83,119.17 413.87,118.07 415.80,117.70 C417.73,117.33 420.03,117.68 421.60,118.40 C423.17,119.12 424.72,120.43 425.20,122.00 C425.68,123.57 425.35,126.60 424.50,127.80 C423.65,129.00 421.78,128.97 420.10,129.20 C418.42,129.43 415.95,129.68 414.40,129.20 C412.85,128.72 411.53,127.73 410.80,126.30 C410.07,124.87 409.17,122.03 410.00,120.60 Z" fill="#6a60b0" stroke="#6a60b0" stroke-width="1.4" opacity="0.75" stroke-linejoin="round"/>
<path d="M410.00,120.60 C410.83,119.17 413.87,118.07 415.80,117.70 C417.73,117.33 420.03,117.68 421.60,118.40 C423.17,119.12 424.72,120.43 425.20,122.00 C425.68,123.57 425.35,126.60 424.50,127.80 C423.65,129.00 421.78,128.97 420.10,129.20 C418.42,129.43 415.95,129.68 414.40,129.20 C412.85,128.72 411.53,127.73 410.80,126.30 C410.07,124.87 409.17,122.03 410.00,120.60 Z" fill="url(#pS)" stroke="none" stroke-width="0.6" />
<path d="M387.70,123.50 C388.20,122.33 389.68,121.92 391.00,122.00 C392.32,122.08 394.93,122.92 395.60,124.00 C396.27,125.08 395.68,127.38 395.00,128.50 C394.32,129.62 392.67,130.62 391.50,130.70 C390.33,130.78 388.63,130.20 388.00,129.00 C387.37,127.80 387.20,124.67 387.70,123.50 Z" fill="#6a60b0" stroke="#6a60b0" stroke-width="1.4" opacity="0.75" stroke-linejoin="round"/>
<path d="M387.70,123.50 C388.20,122.33 389.68,121.92 391.00,122.00 C392.32,122.08 394.93,122.92 395.60,124.00 C396.27,125.08 395.68,127.38 395.00,128.50 C394.32,129.62 392.67,130.62 391.50,130.70 C390.33,130.78 388.63,130.20 388.00,129.00 C387.37,127.80 387.20,124.67 387.70,123.50 Z" fill="url(#pS)" stroke="none" stroke-width="0.6" />
<path d="M389.10,135.00 C389.95,133.55 392.63,133.27 394.20,133.50 C395.77,133.73 397.42,134.95 398.50,136.40 C399.58,137.85 400.58,140.27 400.70,142.20 C400.82,144.13 400.17,146.68 399.20,148.00 C398.23,149.32 396.22,150.10 394.90,150.10 C393.58,150.10 392.27,149.32 391.30,148.00 C390.33,146.68 389.47,144.37 389.10,142.20 C388.73,140.03 388.25,136.45 389.10,135.00 Z" fill="#6a60b0" stroke="#6a60b0" stroke-width="1.4" opacity="0.75" stroke-linejoin="round"/>
<path d="M389.10,135.00 C389.95,133.55 392.63,133.27 394.20,133.50 C395.77,133.73 397.42,134.95 398.50,136.40 C399.58,137.85 400.58,140.27 400.70,142.20 C400.82,144.13 400.17,146.68 399.20,148.00 C398.23,149.32 396.22,150.10 394.90,150.10 C393.58,150.10 392.27,149.32 391.30,148.00 C390.33,146.68 389.47,144.37 389.10,142.20 C388.73,140.03 388.25,136.45 389.10,135.00 Z" fill="url(#pS)" stroke="none" stroke-width="0.6" />
<path d="M414.00,95.50 C414.33,94.50 416.17,93.83 417.00,94.00 C417.83,94.17 418.83,95.50 419.00,96.50 C419.17,97.50 418.67,99.42 418.00,100.00 C417.33,100.58 415.67,100.75 415.00,100.00 C414.33,99.25 413.67,96.50 414.00,95.50 Z" fill="#6a60b0" stroke="#6a60b0" stroke-width="1.4" opacity="0.75" stroke-linejoin="round"/>
<path d="M414.00,95.50 C414.33,94.50 416.17,93.83 417.00,94.00 C417.83,94.17 418.83,95.50 419.00,96.50 C419.17,97.50 418.67,99.42 418.00,100.00 C417.33,100.58 415.67,100.75 415.00,100.00 C414.33,99.25 413.67,96.50 414.00,95.50 Z" fill="url(#pS)" stroke="none" stroke-width="0.6" />
<path d="M424.50,114.00 C425.17,113.25 427.17,112.25 428.00,112.50 C428.83,112.75 429.67,114.58 429.50,115.50 C429.33,116.42 427.92,117.75 427.00,118.00 C426.08,118.25 424.42,117.67 424.00,117.00 C423.58,116.33 423.83,114.75 424.50,114.00 Z" fill="#6a60b0" stroke="#6a60b0" stroke-width="1.4" opacity="0.75" stroke-linejoin="round"/>
<path d="M424.50,114.00 C425.17,113.25 427.17,112.25 428.00,112.50 C428.83,112.75 429.67,114.58 429.50,115.50 C429.33,116.42 427.92,117.75 427.00,118.00 C426.08,118.25 424.42,117.67 424.00,117.00 C423.58,116.33 423.83,114.75 424.50,114.00 Z" fill="url(#pS)" stroke="none" stroke-width="0.6" />
<ellipse cx="393.5" cy="113.3" rx="14.2" ry="5.2" transform="rotate(41.8 393.5 113.3)" fill="#8a80c0" opacity="0.5"/>
<ellipse cx="393.5" cy="113.3" rx="14.2" ry="5.2" transform="rotate(41.8 393.5 113.3)" fill="url(#pS)"/>
<path d="M396.00,113.00 C397.50,111.58 401.33,110.67 404.00,110.50 C406.67,110.33 409.33,111.42 412.00,112.00 C414.67,112.58 417.83,113.00 420.00,114.00 C422.17,115.00 424.50,116.17 425.00,118.00 C425.50,119.83 424.67,123.33 423.00,125.00 C421.33,126.67 418.00,127.33 415.00,128.00 C412.00,128.67 407.83,129.50 405.00,129.00 C402.17,128.50 399.67,126.67 398.00,125.00 C396.33,123.33 395.33,121.00 395.00,119.00 C394.67,117.00 394.50,114.42 396.00,113.00 Z" fill="#4a58b8" stroke="#4a58b8" stroke-width="0.8" />
<path d="M390.00,134.00 C391.17,132.58 394.17,132.17 396.00,132.50 C397.83,132.83 400.00,134.25 401.00,136.00 C402.00,137.75 402.50,141.00 402.00,143.00 C401.50,145.00 399.67,147.25 398.00,148.00 C396.33,148.75 393.50,148.67 392.00,147.50 C390.50,146.33 389.33,143.25 389.00,141.00 C388.67,138.75 388.83,135.42 390.00,134.00 Z" fill="#4a54b0" stroke="#4a54b0" stroke-width="0.8" />
<path d="M396.00,113.00 C397.50,111.58 401.33,110.67 404.00,110.50 C406.67,110.33 409.33,111.42 412.00,112.00 C414.67,112.58 417.83,113.00 420.00,114.00 C422.17,115.00 424.50,116.17 425.00,118.00 C425.50,119.83 424.67,123.33 423.00,125.00 C421.33,126.67 418.00,127.33 415.00,128.00 C412.00,128.67 407.83,129.50 405.00,129.00 C402.17,128.50 399.67,126.67 398.00,125.00 C396.33,123.33 395.33,121.00 395.00,119.00 C394.67,117.00 394.50,114.42 396.00,113.00 Z" fill="url(#pU)" stroke="none" stroke-width="0.6" />
</g>
<circle cx="434.80" cy="90.10" r="1.70" fill="#b8303f" stroke="none" stroke-width="0.3" />
<text x="439.20" y="91.98" font-size="6.6" fill="#333" stroke="#333" stroke-width="0.05" textLength="41.8" lengthAdjust="spacingAndGlyphs" >APRIL-BB-1XX</text>
<circle cx="434.80" cy="100.60" r="1.70" fill="#3a3f98" stroke="none" stroke-width="0.3" />
<text x="439.20" y="102.98" font-size="6.6" fill="#333" stroke="#333" stroke-width="0.05" textLength="59.3" lengthAdjust="spacingAndGlyphs" >APRIL-BB-1XX/IL-18</text>
<text x="67.50" y="454.90" font-size="8.8" fill="#333" text-anchor="middle" textLength="97.0" lengthAdjust="spacingAndGlyphs" >T-cells: CD45.2 CITE-seq</text>
<defs><filter id="spk2" x="-5%" y="-5%" width="110%" height="110%" color-interpolation-filters="sRGB"><feTurbulence type="fractalNoise" baseFrequency="1.3" numOctaves="2" seed="7" result="n"/><feColorMatrix in="n" type="matrix" values="0 0 0 0 0  0 0 0 0 0  0 0 0 0 0  9 0 0 0 -2.9" result="m"/><feComposite in="SourceGraphic" in2="m" operator="in" result="c"/><feTurbulence type="fractalNoise" baseFrequency="0.4" numOctaves="1" seed="5" result="n2"/><feDisplacementMap in="c" in2="n2" scale="2.6" xChannelSelector="R" yChannelSelector="G"/></filter></defs>
<defs><pattern id="pH1" patternUnits="userSpaceOnUse" width="12" height="12"><circle cx="2.0" cy="8.3" r="0.45" fill="#2a788e"/><circle cx="5.7" cy="2.6" r="0.45" fill="#b5de2b"/><circle cx="9.7" cy="6.1" r="0.45" fill="#3b528b"/><circle cx="6.3" cy="9.5" r="0.45" fill="#7fd34e"/><circle cx="4.5" cy="7.0" r="0.45" fill="#7fd34e"/><circle cx="1.7" cy="9.0" r="0.45" fill="#22a884"/><circle cx="8.3" cy="5.2" r="0.45" fill="#b5de2b"/><circle cx="7.4" cy="0.4" r="0.45" fill="#2a788e"/><circle cx="6.5" cy="8.3" r="0.45" fill="#2a788e"/><circle cx="0.3" cy="8.9" r="0.45" fill="#7fd34e"/><circle cx="1.5" cy="11.1" r="0.45" fill="#b5de2b"/><circle cx="1.9" cy="8.7" r="0.45" fill="#b5de2b"/><circle cx="5.8" cy="2.2" r="0.45" fill="#7fd34e"/><circle cx="5.6" cy="9.8" r="0.45" fill="#7fd34e"/><circle cx="9.4" cy="2.5" r="0.45" fill="#3b528b"/><circle cx="11.9" cy="0.9" r="0.45" fill="#3b528b"/><circle cx="5.7" cy="9.9" r="0.45" fill="#22a884"/><circle cx="4.1" cy="1.8" r="0.45" fill="#3b528b"/><circle cx="4.9" cy="4.4" r="0.45" fill="#b5de2b"/><circle cx="6.0" cy="3.8" r="0.45" fill="#b5de2b"/><circle cx="4.6" cy="0.3" r="0.45" fill="#7fd34e"/><circle cx="1.9" cy="8.6" r="0.45" fill="#b5de2b"/><circle cx="0.0" cy="0.8" r="0.45" fill="#3b528b"/><circle cx="9.0" cy="2.7" r="0.45" fill="#3b528b"/><circle cx="3.8" cy="11.8" r="0.45" fill="#7fd34e"/><circle cx="2.2" cy="2.0" r="0.45" fill="#2a788e"/><circle cx="10.0" cy="4.0" r="0.45" fill="#3b528b"/><circle cx="11.2" cy="2.9" r="0.45" fill="#22a884"/><circle cx="0.8" cy="9.8" r="0.45" fill="#b5de2b"/><circle cx="4.5" cy="8.2" r="0.45" fill="#3b528b"/><circle cx="10.8" cy="11.5" r="0.45" fill="#b5de2b"/><circle cx="11.0" cy="2.0" r="0.45" fill="#3b528b"/><circle cx="0.2" cy="4.2" r="0.45" fill="#3b528b"/><circle cx="4.5" cy="3.0" r="0.45" fill="#22a884"/><circle cx="1.9" cy="0.8" r="0.45" fill="#b5de2b"/><circle cx="9.3" cy="5.8" r="0.45" fill="#2a788e"/><circle cx="0.6" cy="3.1" r="0.45" fill="#2a788e"/><circle cx="0.4" cy="3.0" r="0.45" fill="#b5de2b"/><circle cx="0.8" cy="4.1" r="0.45" fill="#22a884"/><circle cx="11.8" cy="9.0" r="0.45" fill="#b5de2b"/><circle cx="0.6" cy="1.7" r="0.45" fill="#3b528b"/><circle cx="10.9" cy="5.7" r="0.45" fill="#22a884"/><circle cx="10.8" cy="4.4" r="0.45" fill="#22a884"/><circle cx="10.6" cy="7.2" r="0.45" fill="#b5de2b"/><circle cx="5.8" cy="10.8" r="0.45" fill="#b5de2b"/><circle cx="3.7" cy="6.4" r="0.45" fill="#2a788e"/><circle cx="1.7" cy="8.6" r="0.45" fill="#b5de2b"/><circle cx="8.2" cy="11.4" r="0.45" fill="#7fd34e"/><circle cx="3.2" cy="3.9" r="0.45" fill="#22a884"/><circle cx="10.2" cy="7.0" r="0.45" fill="#2a788e"/><circle cx="8.2" cy="9.0" r="0.45" fill="#22a884"/><circle cx="1.6" cy="1.1" r="0.45" fill="#7fd34e"/><circle cx="2.2" cy="7.7" r="0.45" fill="#22a884"/><circle cx="0.9" cy="1.4" r="0.45" fill="#2a788e"/><circle cx="1.5" cy="6.5" r="0.45" fill="#2a788e"/><circle cx="4.8" cy="10.7" r="0.45" fill="#3b528b"/><circle cx="2.0" cy="2.2" r="0.45" fill="#b5de2b"/><circle cx="2.4" cy="8.9" r="0.45" fill="#7fd34e"/><circle cx="7.2" cy="6.1" r="0.45" fill="#7fd34e"/><circle cx="9.5" cy="0.1" r="0.45" fill="#b5de2b"/></pattern></defs>
<g filter="url(#spk2)">
<path d="M44.00,513.00 C45.67,511.33 52.00,513.17 56.00,513.00 C60.00,512.83 64.33,511.50 68.00,512.00 C71.67,512.50 76.00,514.33 78.00,516.00 C80.00,517.67 81.33,520.50 80.00,522.00 C78.67,523.50 74.00,524.50 70.00,525.00 C66.00,525.50 60.00,525.33 56.00,525.00 C52.00,524.67 48.00,525.00 46.00,523.00 C44.00,521.00 42.33,514.67 44.00,513.00 Z" fill="#8ad07a" stroke="#8ad07a" stroke-width="1.4" stroke-linejoin="round"/>
<path d="M30.00,496.50 C31.10,493.88 33.12,490.97 34.60,489.50 C36.08,488.03 37.60,487.42 38.90,487.70 C40.20,487.98 41.68,489.15 42.40,491.20 C43.12,493.25 43.27,496.80 43.20,500.00 C43.13,503.20 42.70,507.23 42.00,510.40 C41.30,513.57 40.37,517.23 39.00,519.00 C37.63,520.77 35.47,521.70 33.80,521.00 C32.13,520.30 29.97,517.43 29.00,514.80 C28.03,512.17 27.83,508.25 28.00,505.20 C28.17,502.15 28.90,499.12 30.00,496.50 Z" fill="#3fb57a" stroke="#3fb57a" stroke-width="1.4" stroke-linejoin="round"/>
<path d="M44.20,494.80 C45.07,491.77 47.52,492.78 49.40,492.20 C51.28,491.62 54.05,490.87 55.50,491.30 C56.95,491.73 57.82,492.20 58.10,494.80 C58.38,497.40 57.50,503.43 57.20,506.90 C56.90,510.37 57.17,513.43 56.30,515.60 C55.43,517.77 53.43,519.62 52.00,519.90 C50.57,520.18 49.00,518.88 47.70,517.30 C46.40,515.72 44.78,514.15 44.20,510.40 C43.62,506.65 43.33,497.83 44.20,494.80 Z" fill="#2ba37f" stroke="#2ba37f" stroke-width="1.4" stroke-linejoin="round"/>
<path d="M57.20,492.50 C58.07,490.30 60.52,490.37 62.40,490.30 C64.28,490.23 66.62,492.23 68.50,492.10 C70.38,491.97 72.12,489.37 73.70,489.50 C75.28,489.63 76.72,491.03 78.00,492.90 C79.28,494.77 80.68,498.37 81.40,500.70 C82.12,503.03 82.73,505.28 82.30,506.90 C81.87,508.52 80.53,509.53 78.80,510.40 C77.07,511.27 73.92,511.23 71.90,512.10 C69.88,512.97 68.43,514.75 66.70,515.60 C64.97,516.45 62.93,517.50 61.50,517.20 C60.07,516.90 58.82,516.08 58.10,513.80 C57.38,511.52 57.35,507.05 57.20,503.50 C57.05,499.95 56.33,494.70 57.20,492.50 Z" fill="#3d2a7a" stroke="#3d2a7a" stroke-width="1.4" stroke-linejoin="round"/>
<path d="M68.50,512.10 C69.65,509.80 73.53,509.82 75.40,510.40 C77.27,510.98 78.83,513.30 79.70,515.60 C80.57,517.90 79.88,521.90 80.60,524.20 C81.32,526.50 83.87,527.67 84.00,529.40 C84.13,531.13 82.83,533.45 81.40,534.60 C79.97,535.75 76.98,536.88 75.40,536.30 C73.82,535.72 73.05,533.12 71.90,531.10 C70.75,529.08 69.07,527.37 68.50,524.20 C67.93,521.03 67.35,514.40 68.50,512.10 Z" fill="#2f8a84" stroke="#2f8a84" stroke-width="1.4" stroke-linejoin="round"/>
<path d="M53.70,526.00 C54.85,524.85 57.77,524.35 59.80,524.20 C61.83,524.05 64.32,524.23 65.90,525.10 C67.48,525.97 69.02,527.53 69.30,529.40 C69.58,531.27 68.90,534.85 67.60,536.30 C66.30,537.75 63.52,538.10 61.50,538.10 C59.48,538.10 56.93,537.47 55.50,536.30 C54.07,535.13 53.20,532.82 52.90,531.10 C52.60,529.38 52.55,527.15 53.70,526.00 Z" fill="#d8e21f" stroke="#d8e21f" stroke-width="1.4" stroke-linejoin="round"/>
<path d="M41.60,521.00 C42.13,520.05 43.68,518.97 45.00,518.80 C46.32,518.63 48.47,519.13 49.50,520.00 C50.53,520.87 51.37,522.72 51.20,524.00 C51.03,525.28 49.70,527.20 48.50,527.70 C47.30,528.20 45.12,527.53 44.00,527.00 C42.88,526.47 42.20,525.50 41.80,524.50 C41.40,523.50 41.07,521.95 41.60,521.00 Z" fill="#b4dc30" stroke="#b4dc30" stroke-width="1.4" stroke-linejoin="round"/>
<path d="M94.40,481.00 C95.25,478.83 97.25,476.75 98.70,476.60 C100.15,476.45 101.93,478.22 103.10,480.10 C104.27,481.98 105.42,485.45 105.70,487.90 C105.98,490.35 105.53,492.78 104.80,494.80 C104.07,496.82 102.45,498.98 101.30,500.00 C100.15,501.02 99.05,501.48 97.90,500.90 C96.75,500.32 95.12,498.38 94.40,496.50 C93.68,494.62 93.60,492.18 93.60,489.60 C93.60,487.02 93.55,483.17 94.40,481.00 Z" fill="#35908f" stroke="#35908f" stroke-width="1.4" stroke-linejoin="round"/>
<path d="M30.00,496.50 C31.10,493.88 33.12,490.97 34.60,489.50 C36.08,488.03 37.60,487.42 38.90,487.70 C40.20,487.98 41.68,489.15 42.40,491.20 C43.12,493.25 43.27,496.80 43.20,500.00 C43.13,503.20 42.70,507.23 42.00,510.40 C41.30,513.57 40.37,517.23 39.00,519.00 C37.63,520.77 35.47,521.70 33.80,521.00 C32.13,520.30 29.97,517.43 29.00,514.80 C28.03,512.17 27.83,508.25 28.00,505.20 C28.17,502.15 28.90,499.12 30.00,496.50 Z" fill="url(#pH1)" stroke="none" stroke-width="0.6" />
<path d="M44.20,494.80 C45.07,491.77 47.52,492.78 49.40,492.20 C51.28,491.62 54.05,490.87 55.50,491.30 C56.95,491.73 57.82,492.20 58.10,494.80 C58.38,497.40 57.50,503.43 57.20,506.90 C56.90,510.37 57.17,513.43 56.30,515.60 C55.43,517.77 53.43,519.62 52.00,519.90 C50.57,520.18 49.00,518.88 47.70,517.30 C46.40,515.72 44.78,514.15 44.20,510.40 C43.62,506.65 43.33,497.83 44.20,494.80 Z" fill="url(#pH1)" stroke="none" stroke-width="0.6" />
<path d="M68.50,512.10 C69.65,509.80 73.53,509.82 75.40,510.40 C77.27,510.98 78.83,513.30 79.70,515.60 C80.57,517.90 79.88,521.90 80.60,524.20 C81.32,526.50 83.87,527.67 84.00,529.40 C84.13,531.13 82.83,533.45 81.40,534.60 C79.97,535.75 76.98,536.88 75.40,536.30 C73.82,535.72 73.05,533.12 71.90,531.10 C70.75,529.08 69.07,527.37 68.50,524.20 C67.93,521.03 67.35,514.40 68.50,512.10 Z" fill="url(#pH1)" stroke="none" stroke-width="0.6" />
<path d="M94.40,481.00 C95.25,478.83 97.25,476.75 98.70,476.60 C100.15,476.45 101.93,478.22 103.10,480.10 C104.27,481.98 105.42,485.45 105.70,487.90 C105.98,490.35 105.53,492.78 104.80,494.80 C104.07,496.82 102.45,498.98 101.30,500.00 C100.15,501.02 99.05,501.48 97.90,500.90 C96.75,500.32 95.12,498.38 94.40,496.50 C93.68,494.62 93.60,492.18 93.60,489.60 C93.60,487.02 93.55,483.17 94.40,481.00 Z" fill="url(#pH1)" stroke="none" stroke-width="0.6" />
</g>
<path d="M59.50,467.00 C59.87,466.20 60.78,465.40 61.50,465.40 C62.22,465.40 63.38,466.23 63.80,467.00 C64.22,467.77 64.33,469.23 64.00,470.00 C63.67,470.77 62.58,471.57 61.80,471.60 C61.02,471.63 59.68,470.97 59.30,470.20 C58.92,469.43 59.13,467.80 59.50,467.00 Z" fill="#2a8f84" stroke="#2a8f84" stroke-width="0.6" />
<defs><linearGradient id="vir" x1="0" x2="0" y1="1" y2="0"><stop offset="0" stop-color="#440154"/><stop offset="0.125" stop-color="#472d7b"/><stop offset="0.25" stop-color="#3b528b"/><stop offset="0.375" stop-color="#2c728e"/><stop offset="0.5" stop-color="#21918c"/><stop offset="0.625" stop-color="#28ae80"/><stop offset="0.75" stop-color="#5ec962"/><stop offset="0.875" stop-color="#addc30"/><stop offset="1" stop-color="#fde725"/></linearGradient></defs>
<rect x="110.90" y="466.20" width="3.20" height="76.30" fill="url(#vir)" stroke="#333" stroke-width="0.4" />
<line x1="114.10" y1="466.40" x2="116.20" y2="466.40" stroke="#333" stroke-width="0.6" />
<text x="118.80" y="468.58" font-size="6.6" fill="#444" stroke="#444" stroke-width="0.05" >200</text>
<line x1="114.10" y1="485.30" x2="116.20" y2="485.30" stroke="#333" stroke-width="0.6" />
<text x="118.80" y="487.48" font-size="6.6" fill="#444" stroke="#444" stroke-width="0.05" >150</text>
<line x1="114.10" y1="504.00" x2="116.20" y2="504.00" stroke="#333" stroke-width="0.6" />
<text x="118.80" y="506.18" font-size="6.6" fill="#444" stroke="#444" stroke-width="0.05" >100</text>
<line x1="114.10" y1="523.00" x2="116.20" y2="523.00" stroke="#333" stroke-width="0.6" />
<text x="118.80" y="525.18" font-size="6.6" fill="#444" stroke="#444" stroke-width="0.05" >50</text>
<line x1="114.10" y1="542.00" x2="116.20" y2="542.00" stroke="#333" stroke-width="0.6" />
<text x="118.80" y="544.18" font-size="6.6" fill="#444" stroke="#444" stroke-width="0.05" >0</text>
<text transform="translate(136.90,503.80) rotate(90)" x="0" y="2.31" font-size="7.0" fill="#444" stroke="#444" stroke-width="0.05" text-anchor="middle" textLength="82.5" lengthAdjust="spacingAndGlyphs" >CD45.2 total counts per cell</text>
<g filter="url(#spk2)">
<path d="M174.80,513.00 C176.47,511.33 182.80,513.17 186.80,513.00 C190.80,512.83 195.13,511.50 198.80,512.00 C202.47,512.50 206.80,514.33 208.80,516.00 C210.80,517.67 212.13,520.50 210.80,522.00 C209.47,523.50 204.80,524.50 200.80,525.00 C196.80,525.50 190.80,525.33 186.80,525.00 C182.80,524.67 178.80,525.00 176.80,523.00 C174.80,521.00 173.13,514.67 174.80,513.00 Z" fill="#7b2a9c" stroke="#7b2a9c" stroke-width="1.4" stroke-linejoin="round"/>
<path d="M160.80,496.50 C161.90,493.88 163.92,490.97 165.40,489.50 C166.88,488.03 168.40,487.42 169.70,487.70 C171.00,487.98 172.48,489.15 173.20,491.20 C173.92,493.25 174.07,496.80 174.00,500.00 C173.93,503.20 173.50,507.23 172.80,510.40 C172.10,513.57 171.17,517.23 169.80,519.00 C168.43,520.77 166.27,521.70 164.60,521.00 C162.93,520.30 160.77,517.43 159.80,514.80 C158.83,512.17 158.63,508.25 158.80,505.20 C158.97,502.15 159.70,499.12 160.80,496.50 Z" fill="#7b2a9c" stroke="#7b2a9c" stroke-width="1.4" stroke-linejoin="round"/>
<path d="M175.00,494.80 C175.87,491.77 178.32,492.78 180.20,492.20 C182.08,491.62 184.85,490.87 186.30,491.30 C187.75,491.73 188.62,492.20 188.90,494.80 C189.18,497.40 188.30,503.43 188.00,506.90 C187.70,510.37 187.97,513.43 187.10,515.60 C186.23,517.77 184.23,519.62 182.80,519.90 C181.37,520.18 179.80,518.88 178.50,517.30 C177.20,515.72 175.58,514.15 175.00,510.40 C174.42,506.65 174.13,497.83 175.00,494.80 Z" fill="#7b2a9c" stroke="#7b2a9c" stroke-width="1.4" stroke-linejoin="round"/>
<path d="M188.00,492.50 C188.87,490.30 191.32,490.37 193.20,490.30 C195.08,490.23 197.42,492.23 199.30,492.10 C201.18,491.97 202.92,489.37 204.50,489.50 C206.08,489.63 207.52,491.03 208.80,492.90 C210.08,494.77 211.48,498.37 212.20,500.70 C212.92,503.03 213.53,505.28 213.10,506.90 C212.67,508.52 211.33,509.53 209.60,510.40 C207.87,511.27 204.72,511.23 202.70,512.10 C200.68,512.97 199.23,514.75 197.50,515.60 C195.77,516.45 193.73,517.50 192.30,517.20 C190.87,516.90 189.62,516.08 188.90,513.80 C188.18,511.52 188.15,507.05 188.00,503.50 C187.85,499.95 187.13,494.70 188.00,492.50 Z" fill="#2f9a34" stroke="#2f9a34" stroke-width="1.4" stroke-linejoin="round"/>
<path d="M199.30,512.10 C200.45,509.80 204.33,509.82 206.20,510.40 C208.07,510.98 209.63,513.30 210.50,515.60 C211.37,517.90 210.68,521.90 211.40,524.20 C212.12,526.50 214.67,527.67 214.80,529.40 C214.93,531.13 213.63,533.45 212.20,534.60 C210.77,535.75 207.78,536.88 206.20,536.30 C204.62,535.72 203.85,533.12 202.70,531.10 C201.55,529.08 199.87,527.37 199.30,524.20 C198.73,521.03 198.15,514.40 199.30,512.10 Z" fill="#7b2a9c" stroke="#7b2a9c" stroke-width="1.4" stroke-linejoin="round"/>
<path d="M184.50,526.00 C185.65,524.85 188.57,524.35 190.60,524.20 C192.63,524.05 195.12,524.23 196.70,525.10 C198.28,525.97 199.82,527.53 200.10,529.40 C200.38,531.27 199.70,534.85 198.40,536.30 C197.10,537.75 194.32,538.10 192.30,538.10 C190.28,538.10 187.73,537.47 186.30,536.30 C184.87,535.13 184.00,532.82 183.70,531.10 C183.40,529.38 183.35,527.15 184.50,526.00 Z" fill="#7b2a9c" stroke="#7b2a9c" stroke-width="1.4" stroke-linejoin="round"/>
<path d="M172.40,521.00 C172.93,520.05 174.48,518.97 175.80,518.80 C177.12,518.63 179.27,519.13 180.30,520.00 C181.33,520.87 182.17,522.72 182.00,524.00 C181.83,525.28 180.50,527.20 179.30,527.70 C178.10,528.20 175.92,527.53 174.80,527.00 C173.68,526.47 173.00,525.50 172.60,524.50 C172.20,523.50 171.87,521.95 172.40,521.00 Z" fill="#7b2a9c" stroke="#7b2a9c" stroke-width="1.4" stroke-linejoin="round"/>
<path d="M225.20,481.00 C226.05,478.83 228.05,476.75 229.50,476.60 C230.95,476.45 232.73,478.22 233.90,480.10 C235.07,481.98 236.22,485.45 236.50,487.90 C236.78,490.35 236.33,492.78 235.60,494.80 C234.87,496.82 233.25,498.98 232.10,500.00 C230.95,501.02 229.85,501.48 228.70,500.90 C227.55,500.32 225.92,498.38 225.20,496.50 C224.48,494.62 224.40,492.18 224.40,489.60 C224.40,487.02 224.35,483.17 225.20,481.00 Z" fill="#7b2a9c" stroke="#7b2a9c" stroke-width="1.4" stroke-linejoin="round"/>
<path d="M200.80,492.00 C201.13,488.75 205.13,489.50 206.80,489.50 C208.47,489.50 209.38,490.17 210.80,492.00 C212.22,493.83 214.63,497.83 215.30,500.50 C215.97,503.17 215.55,506.25 214.80,508.00 C214.05,509.75 212.47,510.83 210.80,511.00 C209.13,511.17 206.47,512.17 204.80,509.00 C203.13,505.83 200.47,495.25 200.80,492.00 Z" fill="#2f9a34" stroke="#2f9a34" stroke-width="1.2" />
<path d="M196.50,494.00 C197.08,491.58 198.67,492.17 199.50,492.50 C200.33,492.83 201.17,493.92 201.50,496.00 C201.83,498.08 201.25,502.67 201.50,505.00 C201.75,507.33 203.42,508.83 203.00,510.00 C202.58,511.17 200.17,512.50 199.00,512.00 C197.83,511.50 196.42,510.00 196.00,507.00 C195.58,504.00 195.92,496.42 196.50,494.00 Z" fill="#7b2a9c" stroke="#7b2a9c" stroke-width="0.8" />
<path d="M196.00,512.00 C197.00,510.50 200.67,508.83 203.00,508.00 C205.33,507.17 208.33,506.33 210.00,507.00 C211.67,507.67 212.67,510.17 213.00,512.00 C213.33,513.83 213.50,516.83 212.00,518.00 C210.50,519.17 206.50,519.17 204.00,519.00 C201.50,518.83 198.33,518.17 197.00,517.00 C195.67,515.83 195.00,513.50 196.00,512.00 Z" fill="#7b2a9c" stroke="#7b2a9c" stroke-width="0.8" />
</g>
<path d="M190.30,467.00 C190.67,466.20 191.58,465.40 192.30,465.40 C193.02,465.40 194.18,466.23 194.60,467.00 C195.02,467.77 195.13,469.23 194.80,470.00 C194.47,470.77 193.38,471.57 192.60,471.60 C191.82,471.63 190.48,470.97 190.10,470.20 C189.72,469.43 189.93,467.80 190.30,467.00 Z" fill="#7b2a9c" stroke="#7b2a9c" stroke-width="0.6" />
<circle cx="249.40" cy="490.20" r="1.55" fill="#4a2066" stroke="none" stroke-width="0.3" />
<text x="253.80" y="492.68" font-size="6.6" fill="#333" stroke="#333" stroke-width="0.05" textLength="26.2" lengthAdjust="spacingAndGlyphs" >CD45.2+</text>
<text x="254.00" y="499.98" font-size="6.6" fill="#333" stroke="#333" stroke-width="0.05" textLength="32.0" lengthAdjust="spacingAndGlyphs" >host T-cells</text>
<circle cx="249.40" cy="510.80" r="1.55" fill="#2a5a30" stroke="none" stroke-width="0.3" />
<text x="253.80" y="512.98" font-size="6.6" fill="#333" stroke="#333" stroke-width="0.05" textLength="26.2" lengthAdjust="spacingAndGlyphs" >CD45.2–</text>
<text x="254.00" y="520.68" font-size="6.6" fill="#333" stroke="#333" stroke-width="0.05" textLength="52.0" lengthAdjust="spacingAndGlyphs" >donor CAR T-cells</text>
<text x="398.90" y="458.57" font-size="9.0" fill="#3fa552" text-anchor="middle" textLength="68.6" lengthAdjust="spacingAndGlyphs" >donor CAR T-cells</text>
<text x="398.70" y="468.57" font-size="9.0" fill="#231f20" text-anchor="middle" textLength="60.9" lengthAdjust="spacingAndGlyphs" >NF-κB signaling</text>
<rect x="357.80" y="473.90" width="80.70" height="49.30" fill="none" stroke="#222" stroke-width="1.1" />
<line x1="357.80" y1="521.00" x2="438.50" y2="521.00" stroke="#8a8a8a" stroke-width="0.6" />
<rect x="357.80" y="523.80" width="80.70" height="6.50" fill="#fff" stroke="#222" stroke-width="0.7" />
<line x1="366.27" y1="524.30" x2="366.27" y2="529.80" stroke="#7cc46a" stroke-width="1.2" opacity="0.68"/>
<line x1="368.24" y1="524.30" x2="368.24" y2="529.80" stroke="#7cc46a" stroke-width="1.2" opacity="0.83"/>
<line x1="363.94" y1="524.30" x2="363.94" y2="529.80" stroke="#7cc46a" stroke-width="0.8" opacity="0.89"/>
<line x1="359.53" y1="524.30" x2="359.53" y2="529.80" stroke="#7cc46a" stroke-width="0.5" opacity="0.95"/>
<line x1="358.68" y1="524.30" x2="358.68" y2="529.80" stroke="#7cc46a" stroke-width="0.8" opacity="0.93"/>
<line x1="361.13" y1="524.30" x2="361.13" y2="529.80" stroke="#7cc46a" stroke-width="0.5" opacity="0.79"/>
<line x1="358.50" y1="524.30" x2="358.50" y2="529.80" stroke="#7cc46a" stroke-width="0.5" opacity="0.70"/>
<line x1="359.02" y1="524.30" x2="359.02" y2="529.80" stroke="#7cc46a" stroke-width="0.8" opacity="0.58"/>
<line x1="371.86" y1="524.30" x2="371.86" y2="529.80" stroke="#7cc46a" stroke-width="0.5" opacity="0.81"/>
<line x1="362.20" y1="524.30" x2="362.20" y2="529.80" stroke="#7cc46a" stroke-width="0.5" opacity="0.50"/>
<line x1="374.75" y1="524.30" x2="374.75" y2="529.80" stroke="#7cc46a" stroke-width="0.5" opacity="0.89"/>
<line x1="378.62" y1="524.30" x2="378.62" y2="529.80" stroke="#7cc46a" stroke-width="0.5" opacity="0.94"/>
<line x1="359.94" y1="524.30" x2="359.94" y2="529.80" stroke="#7cc46a" stroke-width="0.5" opacity="0.77"/>
<line x1="367.85" y1="524.30" x2="367.85" y2="529.80" stroke="#7cc46a" stroke-width="0.5" opacity="0.59"/>
<line x1="379.01" y1="524.30" x2="379.01" y2="529.80" stroke="#7cc46a" stroke-width="0.5" opacity="0.98"/>
<line x1="375.68" y1="524.30" x2="375.68" y2="529.80" stroke="#7cc46a" stroke-width="0.8" opacity="0.51"/>
<line x1="361.68" y1="524.30" x2="361.68" y2="529.80" stroke="#7cc46a" stroke-width="0.5" opacity="0.63"/>
<line x1="360.44" y1="524.30" x2="360.44" y2="529.80" stroke="#7cc46a" stroke-width="1.2" opacity="0.79"/>
<line x1="365.55" y1="524.30" x2="365.55" y2="529.80" stroke="#7cc46a" stroke-width="1.2" opacity="0.67"/>
<line x1="360.17" y1="524.30" x2="360.17" y2="529.80" stroke="#7cc46a" stroke-width="0.8" opacity="0.74"/>
<line x1="360.24" y1="524.30" x2="360.24" y2="529.80" stroke="#7cc46a" stroke-width="0.8" opacity="0.74"/>
<line x1="358.98" y1="524.30" x2="358.98" y2="529.80" stroke="#7cc46a" stroke-width="0.8" opacity="0.99"/>
<line x1="358.51" y1="524.30" x2="358.51" y2="529.80" stroke="#7cc46a" stroke-width="1.2" opacity="0.68"/>
<line x1="361.50" y1="524.30" x2="361.50" y2="529.80" stroke="#7cc46a" stroke-width="1.2" opacity="0.89"/>
<line x1="360.91" y1="524.30" x2="360.91" y2="529.80" stroke="#7cc46a" stroke-width="1.2" opacity="0.92"/>
<line x1="362.35" y1="524.30" x2="362.35" y2="529.80" stroke="#7cc46a" stroke-width="1.2" opacity="0.59"/>
<line x1="378.39" y1="524.30" x2="378.39" y2="529.80" stroke="#7cc46a" stroke-width="0.5" opacity="0.56"/>
<line x1="359.51" y1="524.30" x2="359.51" y2="529.80" stroke="#7cc46a" stroke-width="0.8" opacity="0.67"/>
<line x1="360.75" y1="524.30" x2="360.75" y2="529.80" stroke="#7cc46a" stroke-width="1.2" opacity="0.63"/>
<line x1="362.54" y1="524.30" x2="362.54" y2="529.80" stroke="#7cc46a" stroke-width="1.2" opacity="0.87"/>
<line x1="371.86" y1="524.30" x2="371.86" y2="529.80" stroke="#7cc46a" stroke-width="0.8" opacity="0.52"/>
<line x1="377.96" y1="524.30" x2="377.96" y2="529.80" stroke="#7cc46a" stroke-width="0.5" opacity="0.60"/>
<line x1="363.56" y1="524.30" x2="363.56" y2="529.80" stroke="#7cc46a" stroke-width="0.8" opacity="0.96"/>
<line x1="360.55" y1="524.30" x2="360.55" y2="529.80" stroke="#7cc46a" stroke-width="1.2" opacity="0.77"/>
<line x1="360.20" y1="524.30" x2="360.20" y2="529.80" stroke="#7cc46a" stroke-width="0.8" opacity="0.65"/>
<line x1="371.92" y1="524.30" x2="371.92" y2="529.80" stroke="#7cc46a" stroke-width="1.2" opacity="0.57"/>
<line x1="368.20" y1="524.30" x2="368.20" y2="529.80" stroke="#7cc46a" stroke-width="0.8" opacity="0.58"/>
<line x1="358.53" y1="524.30" x2="358.53" y2="529.80" stroke="#7cc46a" stroke-width="1.2" opacity="0.77"/>
<line x1="361.53" y1="524.30" x2="361.53" y2="529.80" stroke="#7cc46a" stroke-width="0.5" opacity="0.87"/>
<line x1="360.60" y1="524.30" x2="360.60" y2="529.80" stroke="#7cc46a" stroke-width="0.8" opacity="0.73"/>
<line x1="403.62" y1="524.30" x2="403.62" y2="529.80" stroke="#9ed08e" stroke-width="0.5" opacity="0.43"/>
<line x1="431.30" y1="524.30" x2="431.30" y2="529.80" stroke="#9ed08e" stroke-width="0.5" opacity="0.42"/>
<line x1="407.64" y1="524.30" x2="407.64" y2="529.80" stroke="#9ed08e" stroke-width="0.5" opacity="0.82"/>
<line x1="387.31" y1="524.30" x2="387.31" y2="529.80" stroke="#9ed08e" stroke-width="0.5" opacity="0.77"/>
<line x1="433.19" y1="524.30" x2="433.19" y2="529.80" stroke="#9ed08e" stroke-width="0.5" opacity="0.72"/>
<line x1="424.13" y1="524.30" x2="424.13" y2="529.80" stroke="#9ed08e" stroke-width="0.5" opacity="0.45"/>
<line x1="404.34" y1="524.30" x2="404.34" y2="529.80" stroke="#9ed08e" stroke-width="0.5" opacity="0.47"/>
<line x1="427.31" y1="524.30" x2="427.31" y2="529.80" stroke="#9ed08e" stroke-width="0.5" opacity="0.55"/>
<line x1="405.38" y1="524.30" x2="405.38" y2="529.80" stroke="#9ed08e" stroke-width="0.5" opacity="0.90"/>
<line x1="427.73" y1="524.30" x2="427.73" y2="529.80" stroke="#9ed08e" stroke-width="0.5" opacity="0.89"/>
<line x1="405.40" y1="524.30" x2="405.40" y2="529.80" stroke="#9ed08e" stroke-width="0.5" opacity="0.64"/>
<line x1="420.85" y1="524.30" x2="420.85" y2="529.80" stroke="#9ed08e" stroke-width="0.5" opacity="0.64"/>
<line x1="354.60" y1="474.20" x2="357.80" y2="474.20" stroke="#222" stroke-width="0.8" />
<text x="352.80" y="476.51" font-size="7.0" fill="#444" stroke="#444" stroke-width="0.05" text-anchor="end" >0.8</text>
<line x1="354.60" y1="485.80" x2="357.80" y2="485.80" stroke="#222" stroke-width="0.8" />
<text x="352.80" y="488.11" font-size="7.0" fill="#444" stroke="#444" stroke-width="0.05" text-anchor="end" >0.6</text>
<line x1="354.60" y1="497.30" x2="357.80" y2="497.30" stroke="#222" stroke-width="0.8" />
<text x="352.80" y="499.61" font-size="7.0" fill="#444" stroke="#444" stroke-width="0.05" text-anchor="end" >0.4</text>
<line x1="354.60" y1="509.30" x2="357.80" y2="509.30" stroke="#222" stroke-width="0.8" />
<text x="352.80" y="511.61" font-size="7.0" fill="#444" stroke="#444" stroke-width="0.05" text-anchor="end" >0.2</text>
<line x1="354.60" y1="521.00" x2="357.80" y2="521.00" stroke="#222" stroke-width="0.8" />
<text x="352.80" y="523.31" font-size="7.0" fill="#444" stroke="#444" stroke-width="0.05" text-anchor="end" >0.0</text>
<text transform="translate(334.50,502.20) rotate(-90)" x="0" y="2.77" font-size="8.4" fill="#444" stroke="#444" stroke-width="0.05" text-anchor="middle" textLength="52.2" lengthAdjust="spacingAndGlyphs" >Enrichment score</text>
<path d="M360.2,521 L361.0,506 L361.9,493 L363.2,483 L365.0,478 L367.3,476.0 L372,477 L376,477.7 L382,480 L387.7,483.5 L393,488 L399.2,493.8 L405,499 L411,504.5 L417.7,511 L422,515.5 L427,519.2 L431,520.6 L436,521" fill="none" stroke="#8cc98a" stroke-width="0.8"/>
<text x="366.80" y="511.74" font-size="6.8" fill="#333" stroke="#333" stroke-width="0.05" font-style="italic" textLength="33.0" lengthAdjust="spacingAndGlyphs" >NES: 1.603</text>
<text x="366.80" y="519.24" font-size="6.8" fill="#333" stroke="#333" stroke-width="0.05" font-style="italic" textLength="52.5" lengthAdjust="spacingAndGlyphs" >FDR-q: 2.863e-02</text>
<text x="373.20" y="538.61" font-size="6.4" fill="#444" stroke="#444" stroke-width="0.05" text-anchor="middle" textLength="28.9" lengthAdjust="spacingAndGlyphs" >APRIL-BB-</text>
<text x="373.50" y="546.71" font-size="6.4" fill="#444" stroke="#444" stroke-width="0.05" text-anchor="middle" textLength="26.0" lengthAdjust="spacingAndGlyphs" >1XX/IL-18</text>
<text x="424.00" y="538.61" font-size="6.4" fill="#444" stroke="#444" stroke-width="0.05" text-anchor="middle" textLength="28.9" lengthAdjust="spacingAndGlyphs" >APRIL-BB-</text>
<text x="425.10" y="546.71" font-size="6.4" fill="#444" stroke="#444" stroke-width="0.05" text-anchor="middle" textLength="8.8" lengthAdjust="spacingAndGlyphs" >1XX</text>
<text x="114.70" y="567.97" font-size="9.0" fill="#9040b0" text-anchor="middle" textLength="86.7" lengthAdjust="spacingAndGlyphs" >host T-cells (CD45.2+)</text>
<text x="114.00" y="577.57" font-size="9.0" fill="#231f20" text-anchor="middle" textLength="148.0" lengthAdjust="spacingAndGlyphs" >APRIL-BB-1XX/IL-18 vs. APRIL-BB-1XX</text>
<text x="304.40" y="568.47" font-size="9.0" fill="#3fa552" text-anchor="middle" textLength="111.2" lengthAdjust="spacingAndGlyphs" >donor CAR T-cells (CD45.2–)</text>
<text x="303.80" y="577.97" font-size="9.0" fill="#231f20" text-anchor="middle" textLength="147.5" lengthAdjust="spacingAndGlyphs" >APRIL-BB-1XX/IL-18 vs. APRIL-BB-1XX</text>
<line x1="41.40" y1="587.70" x2="41.40" y2="672.80" stroke="#222" stroke-width="0.9" />
<line x1="41.00" y1="672.40" x2="179.20" y2="672.40" stroke="#222" stroke-width="0.9" />
<line x1="38.40" y1="665.60" x2="41.40" y2="665.60" stroke="#222" stroke-width="0.8" />
<text x="35.00" y="667.91" font-size="7.0" fill="#444" stroke="#444" stroke-width="0.05" text-anchor="end" >0</text>
<line x1="38.40" y1="650.40" x2="41.40" y2="650.40" stroke="#222" stroke-width="0.8" />
<text x="35.00" y="652.71" font-size="7.0" fill="#444" stroke="#444" stroke-width="0.05" text-anchor="end" >10</text>
<line x1="38.40" y1="635.20" x2="41.40" y2="635.20" stroke="#222" stroke-width="0.8" />
<text x="35.00" y="637.51" font-size="7.0" fill="#444" stroke="#444" stroke-width="0.05" text-anchor="end" >20</text>
<line x1="38.40" y1="620.00" x2="41.40" y2="620.00" stroke="#222" stroke-width="0.8" />
<text x="35.00" y="622.31" font-size="7.0" fill="#444" stroke="#444" stroke-width="0.05" text-anchor="end" >30</text>
<line x1="38.40" y1="604.80" x2="41.40" y2="604.80" stroke="#222" stroke-width="0.8" />
<text x="35.00" y="607.11" font-size="7.0" fill="#444" stroke="#444" stroke-width="0.05" text-anchor="end" >40</text>
<line x1="38.40" y1="589.60" x2="41.40" y2="589.60" stroke="#222" stroke-width="0.8" />
<text x="35.00" y="591.91" font-size="7.0" fill="#444" stroke="#444" stroke-width="0.05" text-anchor="end" >50</text>
<line x1="48.20" y1="672.40" x2="48.20" y2="675.20" stroke="#222" stroke-width="0.8" />
<text x="48.20" y="684.44" font-size="6.8" fill="#444" stroke="#444" stroke-width="0.05" text-anchor="middle" >−2</text>
<line x1="85.60" y1="672.40" x2="85.60" y2="675.20" stroke="#222" stroke-width="0.8" />
<text x="85.60" y="684.44" font-size="6.8" fill="#444" stroke="#444" stroke-width="0.05" text-anchor="middle" >0</text>
<line x1="123.00" y1="672.40" x2="123.00" y2="675.20" stroke="#222" stroke-width="0.8" />
<text x="123.00" y="684.44" font-size="6.8" fill="#444" stroke="#444" stroke-width="0.05" text-anchor="middle" >2</text>
<line x1="160.40" y1="672.40" x2="160.40" y2="675.20" stroke="#222" stroke-width="0.8" />
<text x="160.40" y="684.44" font-size="6.8" fill="#444" stroke="#444" stroke-width="0.05" text-anchor="middle" >4</text>
<text x="114.0" y="694.50" font-size="7.6" fill="#333" text-anchor="middle" textLength="53" lengthAdjust="spacingAndGlyphs">log<tspan font-size="4.6" dy="1.6">2</tspan><tspan dy="-1.6">(fold change)</tspan></text>
<text transform="translate(18.3,626.05) rotate(-90)" x="0" y="2.6" font-size="8.0" fill="#333" text-anchor="middle" textLength="61" lengthAdjust="spacingAndGlyphs">−log<tspan font-size="4.6" dy="1.6">10</tspan><tspan dy="-1.6">(adj. </tspan><tspan font-style="italic">P</tspan>-value)</text>
<line x1="79.99" y1="587.70" x2="79.99" y2="672.40" stroke="#666" stroke-width="0.6" stroke-dasharray="3,1.8"/>
<line x1="91.21" y1="587.70" x2="91.21" y2="672.40" stroke="#666" stroke-width="0.6" stroke-dasharray="3,1.8"/>
<line x1="41.40" y1="663.62" x2="179.20" y2="663.62" stroke="#555" stroke-width="0.8" stroke-dasharray="3.6,2"/>
<line x1="232.00" y1="587.70" x2="232.00" y2="672.70" stroke="#222" stroke-width="0.9" />
<line x1="231.60" y1="672.30" x2="375.80" y2="672.30" stroke="#222" stroke-width="0.9" />
<line x1="229.00" y1="666.00" x2="232.00" y2="666.00" stroke="#222" stroke-width="0.8" />
<text x="225.60" y="668.31" font-size="7.0" fill="#444" stroke="#444" stroke-width="0.05" text-anchor="end" >0</text>
<line x1="229.00" y1="647.15" x2="232.00" y2="647.15" stroke="#222" stroke-width="0.8" />
<text x="225.60" y="649.46" font-size="7.0" fill="#444" stroke="#444" stroke-width="0.05" text-anchor="end" >10</text>
<line x1="229.00" y1="628.30" x2="232.00" y2="628.30" stroke="#222" stroke-width="0.8" />
<text x="225.60" y="630.61" font-size="7.0" fill="#444" stroke="#444" stroke-width="0.05" text-anchor="end" >20</text>
<line x1="229.00" y1="609.45" x2="232.00" y2="609.45" stroke="#222" stroke-width="0.8" />
<text x="225.60" y="611.76" font-size="7.0" fill="#444" stroke="#444" stroke-width="0.05" text-anchor="end" >30</text>
<line x1="229.00" y1="590.60" x2="232.00" y2="590.60" stroke="#222" stroke-width="0.8" />
<text x="225.60" y="592.91" font-size="7.0" fill="#444" stroke="#444" stroke-width="0.05" text-anchor="end" >40</text>
<line x1="238.40" y1="672.30" x2="238.40" y2="675.10" stroke="#222" stroke-width="0.8" />
<text x="238.40" y="685.64" font-size="6.8" fill="#444" stroke="#444" stroke-width="0.05" text-anchor="middle" >−2</text>
<line x1="276.00" y1="672.30" x2="276.00" y2="675.10" stroke="#222" stroke-width="0.8" />
<text x="276.00" y="685.64" font-size="6.8" fill="#444" stroke="#444" stroke-width="0.05" text-anchor="middle" >0</text>
<line x1="313.60" y1="672.30" x2="313.60" y2="675.10" stroke="#222" stroke-width="0.8" />
<text x="313.60" y="685.64" font-size="6.8" fill="#444" stroke="#444" stroke-width="0.05" text-anchor="middle" >2</text>
<line x1="351.20" y1="672.30" x2="351.20" y2="675.10" stroke="#222" stroke-width="0.8" />
<text x="351.20" y="685.64" font-size="6.8" fill="#444" stroke="#444" stroke-width="0.05" text-anchor="middle" >4</text>
<text x="303.9" y="695.70" font-size="7.6" fill="#333" text-anchor="middle" textLength="53" lengthAdjust="spacingAndGlyphs">log<tspan font-size="4.6" dy="1.6">2</tspan><tspan dy="-1.6">(fold change)</tspan></text>
<text transform="translate(209.2,626.00) rotate(-90)" x="0" y="2.6" font-size="8.0" fill="#333" text-anchor="middle" textLength="61" lengthAdjust="spacingAndGlyphs">−log<tspan font-size="4.6" dy="1.6">10</tspan><tspan dy="-1.6">(adj. </tspan><tspan font-style="italic">P</tspan>-value)</text>
<line x1="270.36" y1="587.70" x2="270.36" y2="672.30" stroke="#666" stroke-width="0.6" stroke-dasharray="3,1.8"/>
<line x1="281.64" y1="587.70" x2="281.64" y2="672.30" stroke="#666" stroke-width="0.6" stroke-dasharray="3,1.8"/>
<line x1="232.00" y1="663.55" x2="375.80" y2="663.55" stroke="#555" stroke-width="0.8" stroke-dasharray="3.6,2"/>
<text x="65.40" y="622.31" font-size="5.8" fill="#222222" stroke="#222222" stroke-width="0.05" >Irf9</text>
<line x1="72.80" y1="622.00" x2="91.30" y2="657.50" stroke="#111" stroke-width="0.65" />
<text x="52.90" y="628.41" font-size="5.8" fill="#222222" stroke="#222222" stroke-width="0.05" >Aldoa</text>
<line x1="67.40" y1="628.00" x2="91.30" y2="657.50" stroke="#111" stroke-width="0.65" />
<text x="52.30" y="633.41" font-size="5.8" fill="#222222" stroke="#222222" stroke-width="0.05" >Cops9</text>
<line x1="67.40" y1="633.00" x2="91.30" y2="657.50" stroke="#111" stroke-width="0.65" />
<text x="59.60" y="639.61" font-size="5.8" fill="#222222" stroke="#222222" stroke-width="0.05" >Il2rg</text>
<line x1="69.80" y1="639.00" x2="91.30" y2="657.50" stroke="#111" stroke-width="0.65" />
<text x="49.60" y="644.41" font-size="5.8" fill="#222222" stroke="#222222" stroke-width="0.05" >Ifngr1</text>
<line x1="63.70" y1="644.00" x2="91.30" y2="657.50" stroke="#111" stroke-width="0.65" />
<text x="48.00" y="649.61" font-size="5.8" fill="#222222" stroke="#222222" stroke-width="0.05" >Hif1a</text>
<line x1="60.80" y1="649.00" x2="91.30" y2="657.50" stroke="#111" stroke-width="0.65" />
<text x="52.00" y="654.61" font-size="5.8" fill="#222222" stroke="#222222" stroke-width="0.05" >Irf1</text>
<line x1="59.80" y1="654.00" x2="91.30" y2="657.50" stroke="#111" stroke-width="0.65" />
<text x="43.30" y="659.81" font-size="5.8" fill="#222222" stroke="#222222" stroke-width="0.05" >Tnfrsf4</text>
<line x1="59.80" y1="659.00" x2="91.30" y2="657.50" stroke="#111" stroke-width="0.65" />
<text x="77.90" y="628.41" font-size="5.8" fill="#222222" stroke="#222222" stroke-width="0.05" >Ifi47</text>
<line x1="82.00" y1="628.00" x2="91.30" y2="657.50" stroke="#111" stroke-width="0.65" />
<text x="81.70" y="606.51" font-size="5.8" fill="#222222" stroke="#222222" stroke-width="0.05" >Psme1</text>
<line x1="88.00" y1="606.50" x2="91.30" y2="657.50" stroke="#111" stroke-width="0.65" />
<text x="92.50" y="611.71" font-size="5.8" fill="#222222" stroke="#222222" stroke-width="0.05" >Psmb8</text>
<line x1="98.00" y1="611.50" x2="91.30" y2="657.50" stroke="#111" stroke-width="0.65" />
<text x="104.00" y="595.71" font-size="5.8" fill="#222222" stroke="#222222" stroke-width="0.05" >Ifi27l2a</text>
<text x="111.70" y="602.71" font-size="5.8" fill="#222222" stroke="#222222" stroke-width="0.05" >Stat1</text>
<line x1="118.00" y1="602.50" x2="99.50" y2="631.00" stroke="#111" stroke-width="0.65" />
<text x="125.20" y="611.11" font-size="5.8" fill="#222222" stroke="#222222" stroke-width="0.05" >Igtp</text>
<line x1="132.00" y1="611.00" x2="101.00" y2="640.00" stroke="#111" stroke-width="0.65" />
<text x="128.00" y="619.91" font-size="5.8" fill="#222222" stroke="#222222" stroke-width="0.05" >Psme2</text>
<line x1="127.00" y1="619.50" x2="104.00" y2="635.00" stroke="#111" stroke-width="0.65" />
<text x="147.70" y="633.41" font-size="5.8" fill="#222222" stroke="#222222" stroke-width="0.05" >Ly6a</text>
<line x1="147.00" y1="631.50" x2="109.50" y2="632.50" stroke="#111" stroke-width="0.65" />
<text x="125.80" y="638.11" font-size="5.8" fill="#222222" stroke="#222222" stroke-width="0.05" >H2-T23</text>
<line x1="125.00" y1="637.00" x2="93.00" y2="644.00" stroke="#111" stroke-width="0.65" />
<text x="118.50" y="643.41" font-size="5.8" fill="#222222" stroke="#222222" stroke-width="0.05" >Irgm1</text>
<line x1="118.00" y1="643.00" x2="96.00" y2="648.00" stroke="#111" stroke-width="0.65" />
<text x="129.00" y="645.41" font-size="5.8" fill="#222222" stroke="#222222" stroke-width="0.05" >Isg15</text>
<line x1="128.50" y1="644.50" x2="100.00" y2="651.00" stroke="#111" stroke-width="0.65" />
<text x="121.30" y="649.91" font-size="5.8" fill="#222222" stroke="#222222" stroke-width="0.05" >Icos</text>
<line x1="121.00" y1="648.50" x2="97.00" y2="649.50" stroke="#111" stroke-width="0.65" />
<text x="134.80" y="653.11" font-size="5.8" fill="#222222" stroke="#222222" stroke-width="0.05" >Isg20</text>
<line x1="134.00" y1="651.50" x2="100.00" y2="651.00" stroke="#111" stroke-width="0.65" />
<text x="125.20" y="657.51" font-size="5.8" fill="#222222" stroke="#222222" stroke-width="0.05" >Irf7</text>
<line x1="125.00" y1="655.80" x2="97.00" y2="653.00" stroke="#111" stroke-width="0.65" />
<text x="170.40" y="660.41" font-size="5.8" fill="#222222" stroke="#222222" stroke-width="0.05" >Batf</text>
<line x1="169.00" y1="658.60" x2="97.00" y2="655.50" stroke="#111" stroke-width="0.65" />
<text x="139.60" y="663.61" font-size="5.8" fill="#222222" stroke="#222222" stroke-width="0.05" >Snx3</text>
<line x1="139.00" y1="661.20" x2="100.00" y2="659.50" stroke="#111" stroke-width="0.65" />
<text x="116.50" y="669.91" font-size="5.8" fill="#222222" stroke="#222222" stroke-width="0.05" >Cd40lg</text>
<line x1="116.00" y1="667.00" x2="100.00" y2="664.00" stroke="#111" stroke-width="0.65" />
<line x1="97.00" y1="609.00" x2="92.00" y2="648.00" stroke="#111" stroke-width="0.55" />
<line x1="87.50" y1="606.00" x2="91.50" y2="650.00" stroke="#111" stroke-width="0.55" />
<circle cx="87.90" cy="663.86" r="0.8" fill="#4a6888"/><circle cx="85.51" cy="664.15" r="0.8" fill="#2f4a66"/><circle cx="71.69" cy="663.28" r="0.8" fill="#3a5878"/><circle cx="91.90" cy="665.77" r="0.8" fill="#2f4a66"/><circle cx="90.48" cy="665.21" r="0.8" fill="#4a6888"/><circle cx="78.65" cy="663.63" r="0.8" fill="#2f4a66"/><circle cx="94.11" cy="665.54" r="0.8" fill="#4a6888"/><circle cx="81.04" cy="664.65" r="0.8" fill="#4a6888"/><circle cx="70.83" cy="666.60" r="0.8" fill="#3a5878"/><circle cx="82.65" cy="662.26" r="0.8" fill="#2f4a66"/><circle cx="98.64" cy="662.98" r="0.8" fill="#2a4460"/><circle cx="87.00" cy="664.44" r="0.8" fill="#4a6888"/><circle cx="96.80" cy="664.26" r="0.8" fill="#4a6888"/><circle cx="80.73" cy="662.94" r="0.8" fill="#4a6888"/><circle cx="83.34" cy="662.82" r="0.8" fill="#3a5878"/><circle cx="77.78" cy="663.93" r="0.8" fill="#2a4460"/><circle cx="79.94" cy="665.10" r="0.8" fill="#2a4460"/><circle cx="98.12" cy="663.69" r="0.8" fill="#2a4460"/><circle cx="92.15" cy="662.64" r="0.8" fill="#2a4460"/><circle cx="88.36" cy="664.34" r="0.8" fill="#2a4460"/><circle cx="82.79" cy="663.17" r="0.8" fill="#4a6888"/><circle cx="82.52" cy="665.05" r="0.8" fill="#3a5878"/><circle cx="88.06" cy="664.46" r="0.8" fill="#2a4460"/><circle cx="70.73" cy="664.70" r="0.8" fill="#2f4a66"/><circle cx="70.74" cy="660.90" r="0.8" fill="#3a5878"/><circle cx="77.55" cy="665.84" r="0.8" fill="#3a5878"/><circle cx="74.72" cy="664.07" r="0.8" fill="#2a4460"/><circle cx="98.44" cy="660.54" r="0.8" fill="#4a6888"/><circle cx="82.54" cy="663.48" r="0.8" fill="#2f4a66"/><circle cx="69.77" cy="664.05" r="0.8" fill="#4a6888"/><circle cx="97.47" cy="663.37" r="0.8" fill="#2a4460"/><circle cx="70.07" cy="663.97" r="0.8" fill="#4a6888"/><circle cx="83.30" cy="663.98" r="0.8" fill="#4a6888"/><circle cx="76.45" cy="662.99" r="0.8" fill="#2f4a66"/><circle cx="90.98" cy="665.23" r="0.8" fill="#2f4a66"/><circle cx="98.80" cy="662.35" r="0.8" fill="#3a5878"/><circle cx="99.16" cy="662.81" r="0.8" fill="#3a5878"/><circle cx="74.36" cy="663.16" r="0.8" fill="#4a6888"/><circle cx="84.76" cy="664.78" r="0.8" fill="#4a6888"/><circle cx="78.68" cy="666.39" r="0.8" fill="#2a4460"/><circle cx="86.74" cy="664.37" r="0.8" fill="#2a4460"/><circle cx="83.38" cy="660.21" r="0.8" fill="#4a6888"/><circle cx="79.77" cy="663.37" r="0.8" fill="#2f4a66"/><circle cx="83.41" cy="662.78" r="0.8" fill="#3a5878"/><circle cx="78.98" cy="664.68" r="0.8" fill="#4a6888"/><circle cx="89.29" cy="662.98" r="0.8" fill="#3a5878"/><circle cx="89.54" cy="663.22" r="0.8" fill="#2f4a66"/><circle cx="94.81" cy="664.23" r="0.8" fill="#2a4460"/><circle cx="83.70" cy="664.81" r="0.8" fill="#2a4460"/><circle cx="84.51" cy="664.18" r="0.8" fill="#4a6888"/><circle cx="80.03" cy="664.46" r="0.8" fill="#3a5878"/><circle cx="81.06" cy="664.93" r="0.8" fill="#2a4460"/><circle cx="88.25" cy="664.48" r="0.8" fill="#3a5878"/><circle cx="93.22" cy="662.27" r="0.8" fill="#4a6888"/><circle cx="72.90" cy="664.45" r="0.8" fill="#3a5878"/><circle cx="81.39" cy="664.08" r="0.8" fill="#3a5878"/><circle cx="81.35" cy="665.43" r="0.8" fill="#2f4a66"/><circle cx="90.40" cy="663.66" r="0.8" fill="#2a4460"/><circle cx="84.32" cy="662.53" r="0.8" fill="#3a5878"/><circle cx="76.86" cy="663.07" r="0.8" fill="#3a5878"/><circle cx="84.31" cy="664.63" r="0.8" fill="#2a4460"/><circle cx="91.00" cy="661.99" r="0.8" fill="#3a5878"/><circle cx="77.17" cy="663.86" r="0.8" fill="#4a6888"/><circle cx="68.30" cy="663.44" r="0.8" fill="#2a4460"/><circle cx="86.08" cy="662.34" r="0.8" fill="#3a5878"/><circle cx="78.66" cy="663.45" r="0.8" fill="#4a6888"/><circle cx="93.93" cy="664.38" r="0.8" fill="#3a5878"/><circle cx="81.15" cy="662.59" r="0.8" fill="#2f4a66"/><circle cx="84.82" cy="663.29" r="0.8" fill="#3a5878"/><circle cx="82.26" cy="661.29" r="0.8" fill="#4a6888"/><circle cx="85.59" cy="664.16" r="0.8" fill="#2a4460"/><circle cx="89.64" cy="660.46" r="0.8" fill="#3a5878"/><circle cx="75.63" cy="663.41" r="0.8" fill="#3a5878"/><circle cx="92.27" cy="664.61" r="0.8" fill="#4a6888"/><circle cx="75.49" cy="664.43" r="0.8" fill="#4a6888"/><circle cx="83.67" cy="663.69" r="0.8" fill="#2a4460"/><circle cx="76.64" cy="664.11" r="0.8" fill="#4a6888"/><circle cx="89.95" cy="663.09" r="0.8" fill="#4a6888"/><circle cx="85.66" cy="664.81" r="0.8" fill="#2f4a66"/><circle cx="77.86" cy="661.18" r="0.8" fill="#2f4a66"/><circle cx="90.11" cy="662.76" r="0.8" fill="#4a6888"/><circle cx="97.61" cy="666.73" r="0.8" fill="#2a4460"/><circle cx="74.83" cy="664.63" r="0.8" fill="#2f4a66"/><circle cx="79.84" cy="664.03" r="0.8" fill="#2a4460"/><circle cx="95.16" cy="661.60" r="0.8" fill="#3a5878"/><circle cx="78.47" cy="662.47" r="0.8" fill="#2a4460"/><circle cx="77.90" cy="664.42" r="0.8" fill="#2a4460"/><circle cx="71.88" cy="662.20" r="0.8" fill="#4a6888"/><circle cx="81.18" cy="664.60" r="0.8" fill="#3a5878"/><circle cx="95.68" cy="662.14" r="0.8" fill="#3a5878"/><circle cx="95.63" cy="665.76" r="0.8" fill="#2a4460"/><circle cx="82.61" cy="666.40" r="0.8" fill="#4a6888"/><circle cx="87.14" cy="665.49" r="0.8" fill="#2a4460"/><circle cx="87.08" cy="662.02" r="0.8" fill="#4a6888"/><circle cx="79.60" cy="663.92" r="0.8" fill="#4a6888"/><circle cx="81.15" cy="663.86" r="0.8" fill="#2a4460"/><circle cx="77.97" cy="666.48" r="0.8" fill="#2f4a66"/><circle cx="84.60" cy="663.05" r="0.8" fill="#3a5878"/><circle cx="73.84" cy="663.16" r="0.8" fill="#3a5878"/><circle cx="83.13" cy="665.68" r="0.8" fill="#4a6888"/><circle cx="75.71" cy="662.75" r="0.8" fill="#2a4460"/><circle cx="83.88" cy="661.64" r="0.8" fill="#3a5878"/><circle cx="74.24" cy="664.09" r="0.8" fill="#3a5878"/><circle cx="65.36" cy="665.56" r="0.8" fill="#3a5878"/><circle cx="79.85" cy="664.00" r="0.8" fill="#2a4460"/><circle cx="86.93" cy="662.15" r="0.8" fill="#3a5878"/><circle cx="87.22" cy="662.58" r="0.8" fill="#4a6888"/><circle cx="74.60" cy="665.63" r="0.8" fill="#3a5878"/><circle cx="77.17" cy="663.93" r="0.8" fill="#3a5878"/><circle cx="80.57" cy="661.43" r="0.8" fill="#4a6888"/><circle cx="75.05" cy="666.24" r="0.8" fill="#2f4a66"/><circle cx="84.40" cy="660.53" r="0.8" fill="#2a4460"/><circle cx="85.14" cy="663.29" r="0.8" fill="#2f4a66"/><circle cx="89.84" cy="661.10" r="0.8" fill="#2a4460"/><circle cx="78.61" cy="663.35" r="0.8" fill="#2a4460"/><circle cx="78.23" cy="664.45" r="0.8" fill="#2f4a66"/><circle cx="91.87" cy="663.45" r="0.8" fill="#2f4a66"/><circle cx="91.47" cy="664.41" r="0.8" fill="#2a4460"/><circle cx="85.15" cy="664.15" r="0.8" fill="#2f4a66"/><circle cx="76.26" cy="663.40" r="0.8" fill="#2a4460"/><circle cx="92.08" cy="662.01" r="0.8" fill="#2f4a66"/><circle cx="81.23" cy="664.81" r="0.8" fill="#4a6888"/><circle cx="90.69" cy="663.14" r="0.8" fill="#4a6888"/><circle cx="70.87" cy="660.50" r="0.8" fill="#2f4a66"/><circle cx="79.98" cy="662.98" r="0.8" fill="#3a5878"/><circle cx="79.87" cy="663.45" r="0.8" fill="#2f4a66"/><circle cx="89.20" cy="663.07" r="0.8" fill="#3a5878"/><circle cx="76.67" cy="663.88" r="0.8" fill="#3a5878"/><circle cx="81.05" cy="666.06" r="0.8" fill="#3a5878"/><circle cx="82.71" cy="665.19" r="0.8" fill="#2a4460"/><circle cx="92.79" cy="663.47" r="0.8" fill="#4a6888"/><circle cx="86.55" cy="665.28" r="0.8" fill="#2f4a66"/><circle cx="93.83" cy="663.99" r="0.8" fill="#4a6888"/><circle cx="75.57" cy="664.65" r="0.8" fill="#4a6888"/><circle cx="74.25" cy="663.90" r="0.8" fill="#2f4a66"/><circle cx="93.47" cy="663.81" r="0.8" fill="#2f4a66"/><circle cx="82.41" cy="665.42" r="0.8" fill="#3a5878"/><circle cx="78.36" cy="664.18" r="0.8" fill="#3a5878"/><circle cx="76.04" cy="660.34" r="0.8" fill="#3a5878"/><circle cx="73.26" cy="662.38" r="0.8" fill="#2a4460"/><circle cx="80.60" cy="664.77" r="0.8" fill="#2a4460"/><circle cx="80.21" cy="661.82" r="0.8" fill="#2f4a66"/><circle cx="91.93" cy="664.04" r="0.8" fill="#2f4a66"/><circle cx="74.04" cy="664.21" r="0.8" fill="#4a6888"/><circle cx="91.09" cy="664.99" r="0.8" fill="#4a6888"/><circle cx="86.66" cy="660.35" r="0.8" fill="#3a5878"/><circle cx="90.93" cy="664.43" r="0.8" fill="#3a5878"/><circle cx="77.93" cy="662.90" r="0.8" fill="#3a5878"/><circle cx="88.49" cy="664.58" r="0.8" fill="#2f4a66"/><circle cx="89.08" cy="664.24" r="0.8" fill="#2f4a66"/><circle cx="81.11" cy="665.32" r="0.8" fill="#2a4460"/><circle cx="86.11" cy="664.09" r="0.8" fill="#4a6888"/><circle cx="81.29" cy="663.73" r="0.8" fill="#2f4a66"/><circle cx="79.77" cy="663.45" r="0.8" fill="#2f4a66"/><circle cx="80.90" cy="664.00" r="0.8" fill="#2f4a66"/><circle cx="87.83" cy="664.16" r="0.8" fill="#4a6888"/><circle cx="88.55" cy="659.46" r="0.8" fill="#2a4460"/><circle cx="93.83" cy="665.58" r="0.8" fill="#2f4a66"/><circle cx="95.13" cy="661.54" r="0.8" fill="#4a6888"/><circle cx="85.46" cy="665.47" r="0.8" fill="#3a5878"/><circle cx="73.40" cy="662.96" r="0.8" fill="#2f4a66"/><circle cx="88.95" cy="661.68" r="0.8" fill="#2a4460"/><circle cx="94.90" cy="663.75" r="0.8" fill="#3a5878"/><circle cx="80.77" cy="663.20" r="0.8" fill="#4a6888"/><circle cx="93.09" cy="662.85" r="0.8" fill="#2f4a66"/><circle cx="81.10" cy="662.41" r="0.8" fill="#2a4460"/><circle cx="89.32" cy="664.37" r="0.8" fill="#2a4460"/><circle cx="77.46" cy="663.58" r="0.8" fill="#4a6888"/><circle cx="80.39" cy="663.78" r="0.8" fill="#2f4a66"/><circle cx="84.28" cy="663.87" r="0.8" fill="#3a5878"/><circle cx="86.41" cy="662.76" r="0.8" fill="#4a6888"/><circle cx="93.25" cy="665.74" r="0.8" fill="#2a4460"/><circle cx="91.79" cy="661.53" r="0.8" fill="#2a4460"/><circle cx="100.39" cy="664.17" r="0.8" fill="#2a4460"/><circle cx="78.72" cy="664.54" r="0.8" fill="#2a4460"/><circle cx="85.72" cy="665.07" r="0.8" fill="#2f4a66"/><circle cx="79.98" cy="661.65" r="0.8" fill="#2a4460"/><circle cx="91.45" cy="662.16" r="0.8" fill="#3a5878"/><circle cx="94.86" cy="662.98" r="0.8" fill="#3a5878"/><circle cx="72.14" cy="662.94" r="0.8" fill="#2f4a66"/><circle cx="68.41" cy="663.40" r="0.8" fill="#2a4460"/><circle cx="79.00" cy="663.15" r="0.8" fill="#2a4460"/><circle cx="92.07" cy="663.27" r="0.8" fill="#2f4a66"/><circle cx="73.72" cy="661.79" r="0.8" fill="#3a5878"/><circle cx="80.04" cy="665.46" r="0.8" fill="#2a4460"/><circle cx="89.27" cy="662.91" r="0.8" fill="#4a6888"/><circle cx="96.20" cy="663.07" r="0.8" fill="#4a6888"/><circle cx="95.03" cy="664.22" r="0.8" fill="#2f4a66"/><circle cx="73.06" cy="662.39" r="0.8" fill="#3a5878"/><circle cx="73.58" cy="665.10" r="0.8" fill="#4a6888"/><circle cx="77.53" cy="664.32" r="0.8" fill="#3a5878"/><circle cx="95.83" cy="665.54" r="0.8" fill="#2f4a66"/><circle cx="84.48" cy="664.42" r="0.8" fill="#3a5878"/><circle cx="77.62" cy="664.86" r="0.8" fill="#4a6888"/><circle cx="79.67" cy="662.14" r="0.8" fill="#2f4a66"/><circle cx="78.35" cy="663.48" r="0.8" fill="#2a4460"/><circle cx="63.86" cy="665.93" r="0.8" fill="#2a4460"/><circle cx="83.88" cy="664.76" r="0.8" fill="#2f4a66"/><circle cx="82.21" cy="660.80" r="0.8" fill="#2f4a66"/><circle cx="88.42" cy="662.52" r="0.8" fill="#3a5878"/><circle cx="79.25" cy="662.69" r="0.8" fill="#3a5878"/><circle cx="84.00" cy="661.65" r="0.8" fill="#4a6888"/><circle cx="75.26" cy="661.80" r="0.8" fill="#4a6888"/><circle cx="79.94" cy="663.31" r="0.8" fill="#2a4460"/><circle cx="84.93" cy="664.37" r="0.8" fill="#2f4a66"/><circle cx="80.61" cy="662.12" r="0.8" fill="#2a4460"/><circle cx="89.38" cy="666.02" r="0.8" fill="#4a6888"/><circle cx="87.32" cy="664.28" r="0.8" fill="#2f4a66"/><circle cx="88.93" cy="661.74" r="0.8" fill="#4a6888"/><circle cx="91.73" cy="663.84" r="0.8" fill="#2f4a66"/><circle cx="97.87" cy="663.36" r="0.8" fill="#2a4460"/><circle cx="83.03" cy="664.60" r="0.8" fill="#2f4a66"/><circle cx="85.38" cy="665.98" r="0.8" fill="#2f4a66"/><circle cx="72.82" cy="665.75" r="0.8" fill="#3a5878"/><circle cx="75.60" cy="661.45" r="0.8" fill="#2a4460"/><circle cx="91.33" cy="662.72" r="0.8" fill="#3a5878"/><circle cx="75.50" cy="665.93" r="0.8" fill="#3a5878"/><circle cx="84.34" cy="666.19" r="0.8" fill="#2a4460"/><circle cx="87.49" cy="661.53" r="0.8" fill="#2a4460"/><circle cx="81.43" cy="663.70" r="0.8" fill="#2a4460"/><circle cx="85.52" cy="665.81" r="0.8" fill="#3a5878"/><circle cx="77.55" cy="665.34" r="0.8" fill="#2f4a66"/><circle cx="81.41" cy="663.96" r="0.8" fill="#3a5878"/><circle cx="91.49" cy="663.89" r="0.8" fill="#4a6888"/><circle cx="85.86" cy="663.45" r="0.8" fill="#4a6888"/><circle cx="89.96" cy="662.86" r="0.8" fill="#4a6888"/><circle cx="77.99" cy="664.10" r="0.8" fill="#2a4460"/><circle cx="77.71" cy="663.02" r="0.8" fill="#3a5878"/><circle cx="89.85" cy="661.76" r="0.8" fill="#2a4460"/><circle cx="80.46" cy="663.33" r="0.8" fill="#3a5878"/><circle cx="81.48" cy="662.79" r="0.8" fill="#4a6888"/><circle cx="79.50" cy="664.64" r="0.8" fill="#2f4a66"/><circle cx="78.40" cy="665.25" r="0.8" fill="#2f4a66"/><circle cx="72.41" cy="663.92" r="0.8" fill="#2f4a66"/><circle cx="90.91" cy="663.29" r="0.8" fill="#2a4460"/><circle cx="83.40" cy="662.15" r="0.8" fill="#3a5878"/><circle cx="100.76" cy="663.09" r="0.8" fill="#2a4460"/><circle cx="73.81" cy="665.05" r="0.8" fill="#2a4460"/><circle cx="95.24" cy="664.51" r="0.8" fill="#4a6888"/><circle cx="73.19" cy="661.27" r="0.8" fill="#2a4460"/><circle cx="88.89" cy="663.40" r="0.8" fill="#3a5878"/><circle cx="79.51" cy="664.26" r="0.8" fill="#3a5878"/><circle cx="67.63" cy="664.44" r="0.8" fill="#3a5878"/><circle cx="91.93" cy="664.23" r="0.8" fill="#3a5878"/><circle cx="85.48" cy="664.41" r="0.8" fill="#4a6888"/><circle cx="86.51" cy="663.14" r="0.8" fill="#3a5878"/><circle cx="80.44" cy="661.94" r="0.8" fill="#2a4460"/><circle cx="90.34" cy="663.95" r="0.8" fill="#3a5878"/><circle cx="97.84" cy="664.87" r="0.8" fill="#2f4a66"/><circle cx="68.26" cy="663.43" r="0.8" fill="#4a6888"/><circle cx="86.09" cy="662.39" r="0.8" fill="#4a6888"/><circle cx="94.55" cy="663.52" r="0.8" fill="#3a5878"/><circle cx="92.30" cy="664.83" r="0.8" fill="#2a4460"/><circle cx="74.24" cy="663.42" r="0.8" fill="#3a5878"/><circle cx="89.04" cy="662.65" r="0.8" fill="#2f4a66"/><circle cx="83.31" cy="662.97" r="0.8" fill="#4a6888"/><circle cx="73.15" cy="662.47" r="0.8" fill="#3a5878"/><circle cx="85.44" cy="664.44" r="0.8" fill="#2f4a66"/><circle cx="80.50" cy="661.63" r="0.8" fill="#2f4a66"/><circle cx="76.78" cy="663.47" r="0.8" fill="#2f4a66"/><circle cx="88.32" cy="663.37" r="0.8" fill="#4a6888"/><circle cx="83.28" cy="663.47" r="0.8" fill="#3a5878"/><circle cx="84.47" cy="662.33" r="0.8" fill="#3a5878"/><circle cx="93.23" cy="663.44" r="0.8" fill="#2a4460"/><circle cx="74.89" cy="664.93" r="0.8" fill="#2f4a66"/><circle cx="94.03" cy="664.06" r="0.8" fill="#2a4460"/><circle cx="88.32" cy="663.00" r="0.8" fill="#2f4a66"/><circle cx="91.03" cy="663.01" r="0.8" fill="#2a4460"/><circle cx="84.98" cy="663.79" r="0.8" fill="#2a4460"/><circle cx="89.08" cy="662.51" r="0.8" fill="#2f4a66"/><circle cx="89.23" cy="662.58" r="0.8" fill="#2a4460"/><circle cx="95.18" cy="666.18" r="0.8" fill="#2a4460"/><circle cx="76.50" cy="663.13" r="0.8" fill="#2f4a66"/><circle cx="87.07" cy="662.68" r="0.8" fill="#4a6888"/><circle cx="96.65" cy="663.74" r="0.8" fill="#4a6888"/><circle cx="88.54" cy="664.51" r="0.8" fill="#2f4a66"/><circle cx="84.65" cy="664.82" r="0.8" fill="#4a6888"/><circle cx="87.19" cy="663.53" r="0.8" fill="#4a6888"/><circle cx="79.66" cy="664.02" r="0.8" fill="#4a6888"/><circle cx="65.26" cy="664.67" r="0.8" fill="#2a4460"/><circle cx="88.46" cy="663.61" r="0.8" fill="#3a5878"/><circle cx="84.71" cy="663.53" r="0.8" fill="#2a4460"/><circle cx="82.61" cy="663.90" r="0.8" fill="#2a4460"/><circle cx="87.62" cy="663.88" r="0.8" fill="#4a6888"/><circle cx="80.39" cy="665.58" r="0.8" fill="#2f4a66"/><circle cx="87.98" cy="664.49" r="0.8" fill="#2f4a66"/><circle cx="91.32" cy="664.03" r="0.8" fill="#4a6888"/><circle cx="83.29" cy="662.82" r="0.8" fill="#3a5878"/><circle cx="85.32" cy="663.75" r="0.8" fill="#4a6888"/><circle cx="79.30" cy="661.86" r="0.8" fill="#3a5878"/><circle cx="79.65" cy="661.23" r="0.8" fill="#4a6888"/><circle cx="92.93" cy="666.25" r="0.8" fill="#3a5878"/><circle cx="86.80" cy="664.61" r="0.8" fill="#2a4460"/><circle cx="70.72" cy="664.53" r="0.8" fill="#4a6888"/><circle cx="75.53" cy="663.76" r="0.8" fill="#4a6888"/><circle cx="84.22" cy="662.01" r="0.8" fill="#2f4a66"/><circle cx="68.75" cy="662.17" r="0.8" fill="#2f4a66"/><circle cx="91.57" cy="664.01" r="0.8" fill="#4a6888"/><circle cx="77.86" cy="663.93" r="0.8" fill="#3a5878"/><circle cx="95.85" cy="664.46" r="0.8" fill="#3a5878"/><circle cx="80.88" cy="665.13" r="0.8" fill="#3a5878"/><circle cx="82.93" cy="663.97" r="0.8" fill="#2a4460"/><circle cx="78.56" cy="662.58" r="0.8" fill="#2a4460"/><circle cx="83.45" cy="663.98" r="0.8" fill="#2f4a66"/><circle cx="96.41" cy="666.48" r="0.8" fill="#3a5878"/><circle cx="92.89" cy="665.02" r="0.8" fill="#2a4460"/><circle cx="88.15" cy="664.59" r="0.8" fill="#4a6888"/><circle cx="87.03" cy="661.95" r="0.8" fill="#2a4460"/><circle cx="82.77" cy="664.24" r="0.8" fill="#4a6888"/><circle cx="85.76" cy="663.93" r="0.8" fill="#2a4460"/><circle cx="78.66" cy="663.77" r="0.8" fill="#3a5878"/><circle cx="89.04" cy="666.50" r="0.8" fill="#2f4a66"/><circle cx="77.62" cy="663.13" r="0.8" fill="#2f4a66"/><circle cx="92.05" cy="662.96" r="0.8" fill="#4a6888"/><circle cx="94.92" cy="664.87" r="0.8" fill="#3a5878"/><circle cx="75.80" cy="664.06" r="0.8" fill="#3a5878"/><circle cx="85.18" cy="662.42" r="0.8" fill="#2f4a66"/><circle cx="93.06" cy="663.99" r="0.8" fill="#2a4460"/><circle cx="83.37" cy="663.56" r="0.8" fill="#2a4460"/><circle cx="73.72" cy="662.86" r="0.8" fill="#2f4a66"/><circle cx="91.77" cy="665.06" r="0.8" fill="#2a4460"/><circle cx="78.44" cy="662.57" r="0.8" fill="#2f4a66"/><circle cx="92.79" cy="666.77" r="0.8" fill="#3a5878"/><circle cx="83.66" cy="661.72" r="0.8" fill="#4a6888"/><circle cx="81.65" cy="662.28" r="0.8" fill="#2a4460"/><circle cx="78.36" cy="665.83" r="0.8" fill="#3a5878"/><circle cx="75.85" cy="664.49" r="0.8" fill="#4a6888"/><circle cx="88.24" cy="665.54" r="0.8" fill="#3a5878"/><circle cx="77.60" cy="664.57" r="0.8" fill="#3a5878"/><circle cx="85.61" cy="662.56" r="0.8" fill="#2f4a66"/><circle cx="91.76" cy="662.42" r="0.8" fill="#2f4a66"/><circle cx="84.63" cy="663.06" r="0.8" fill="#3a5878"/><circle cx="80.18" cy="663.91" r="0.8" fill="#2a4460"/><circle cx="75.61" cy="663.86" r="0.8" fill="#4a6888"/><circle cx="87.88" cy="662.77" r="0.8" fill="#3a5878"/><circle cx="85.81" cy="665.62" r="0.8" fill="#2a4460"/><circle cx="81.13" cy="666.22" r="0.8" fill="#2f4a66"/><circle cx="76.91" cy="663.84" r="0.8" fill="#3a5878"/><circle cx="81.61" cy="664.52" r="0.8" fill="#4a6888"/><circle cx="86.74" cy="662.27" r="0.8" fill="#4a6888"/><circle cx="93.86" cy="662.81" r="0.8" fill="#2f4a66"/><circle cx="96.13" cy="663.08" r="0.8" fill="#4a6888"/><circle cx="85.28" cy="662.06" r="0.8" fill="#2f4a66"/><circle cx="75.06" cy="662.52" r="0.8" fill="#4a6888"/><circle cx="87.63" cy="664.49" r="0.8" fill="#2a4460"/><circle cx="85.48" cy="661.38" r="0.8" fill="#3a5878"/><circle cx="81.61" cy="663.00" r="0.8" fill="#4a6888"/><circle cx="85.66" cy="663.67" r="0.8" fill="#2f4a66"/><circle cx="99.91" cy="663.57" r="0.8" fill="#2a4460"/><circle cx="88.75" cy="665.20" r="0.8" fill="#2f4a66"/><circle cx="81.14" cy="663.90" r="0.8" fill="#2f4a66"/><circle cx="80.68" cy="664.82" r="0.8" fill="#3a5878"/><circle cx="79.75" cy="665.21" r="0.8" fill="#3a5878"/><circle cx="96.82" cy="663.78" r="0.8" fill="#3a5878"/><circle cx="87.64" cy="664.08" r="0.8" fill="#4a6888"/><circle cx="82.29" cy="664.86" r="0.8" fill="#3a5878"/><circle cx="89.38" cy="663.82" r="0.8" fill="#3a5878"/><circle cx="75.13" cy="662.28" r="0.8" fill="#4a6888"/><circle cx="88.13" cy="662.43" r="0.8" fill="#2f4a66"/><circle cx="78.04" cy="665.05" r="0.8" fill="#4a6888"/><circle cx="87.53" cy="664.77" r="0.8" fill="#2a4460"/><circle cx="74.07" cy="663.70" r="0.8" fill="#2f4a66"/><circle cx="82.55" cy="666.21" r="0.8" fill="#3a5878"/><circle cx="91.20" cy="664.63" r="0.8" fill="#3a5878"/><circle cx="81.46" cy="662.90" r="0.8" fill="#4a6888"/><circle cx="74.45" cy="662.72" r="0.8" fill="#4a6888"/><circle cx="86.13" cy="664.69" r="0.8" fill="#4a6888"/><circle cx="90.15" cy="663.04" r="0.8" fill="#2f4a66"/><circle cx="80.06" cy="663.42" r="0.8" fill="#2a4460"/><circle cx="87.00" cy="666.56" r="0.8" fill="#3a5878"/><circle cx="82.08" cy="665.20" r="0.8" fill="#2a4460"/><circle cx="79.45" cy="665.75" r="0.8" fill="#4a6888"/><circle cx="88.80" cy="665.97" r="0.8" fill="#2f4a66"/><circle cx="81.96" cy="666.71" r="0.8" fill="#4a6888"/><circle cx="97.51" cy="666.07" r="0.8" fill="#2a4460"/><circle cx="87.00" cy="664.64" r="0.8" fill="#4a6888"/><circle cx="78.91" cy="664.17" r="0.8" fill="#2a4460"/><circle cx="90.42" cy="664.41" r="0.8" fill="#4a6888"/><circle cx="80.62" cy="662.34" r="0.8" fill="#2f4a66"/><circle cx="74.21" cy="664.28" r="0.8" fill="#2f4a66"/><circle cx="84.35" cy="662.57" r="0.8" fill="#4a6888"/><circle cx="75.93" cy="664.16" r="0.8" fill="#2f4a66"/><circle cx="87.97" cy="662.34" r="0.8" fill="#2f4a66"/><circle cx="90.20" cy="665.05" r="0.8" fill="#2a4460"/><circle cx="98.86" cy="662.15" r="0.8" fill="#2f4a66"/><circle cx="93.26" cy="664.35" r="0.8" fill="#2f4a66"/><circle cx="85.81" cy="665.90" r="0.8" fill="#2f4a66"/><circle cx="79.32" cy="661.92" r="0.8" fill="#3a5878"/><circle cx="83.57" cy="666.15" r="0.8" fill="#3a5878"/><circle cx="86.01" cy="662.77" r="0.8" fill="#2a4460"/><circle cx="86.16" cy="663.26" r="0.8" fill="#4a6888"/><circle cx="86.13" cy="666.31" r="0.8" fill="#2a4460"/><circle cx="77.73" cy="665.43" r="0.8" fill="#4a6888"/><circle cx="89.25" cy="662.64" r="0.8" fill="#4a6888"/><circle cx="84.15" cy="664.94" r="0.8" fill="#2a4460"/><circle cx="80.84" cy="662.89" r="0.8" fill="#4a6888"/><circle cx="85.19" cy="665.06" r="0.8" fill="#4a6888"/><circle cx="80.08" cy="665.44" r="0.8" fill="#3a5878"/><circle cx="82.79" cy="666.18" r="0.8" fill="#2f4a66"/><circle cx="89.85" cy="662.58" r="0.8" fill="#3a5878"/><circle cx="76.38" cy="662.58" r="0.8" fill="#4a6888"/><circle cx="84.80" cy="663.65" r="0.8" fill="#2a4460"/><circle cx="96.25" cy="664.44" r="0.8" fill="#3a5878"/><circle cx="96.42" cy="664.24" r="0.8" fill="#4a6888"/><circle cx="90.84" cy="661.43" r="0.8" fill="#4a6888"/><circle cx="78.45" cy="662.35" r="0.8" fill="#2a4460"/><circle cx="90.09" cy="664.96" r="0.8" fill="#2a4460"/><circle cx="89.00" cy="663.25" r="0.8" fill="#3a5878"/><circle cx="92.50" cy="663.81" r="0.8" fill="#2f4a66"/><circle cx="93.91" cy="663.57" r="0.8" fill="#2f4a66"/><circle cx="89.08" cy="664.64" r="0.8" fill="#2f4a66"/><circle cx="87.09" cy="663.25" r="0.8" fill="#2f4a66"/><circle cx="78.66" cy="662.45" r="0.8" fill="#2a4460"/><circle cx="87.46" cy="662.48" r="0.8" fill="#4a6888"/><circle cx="83.39" cy="665.54" r="0.8" fill="#2f4a66"/><circle cx="70.90" cy="665.27" r="0.8" fill="#3a5878"/><circle cx="82.29" cy="664.16" r="0.8" fill="#3a5878"/><circle cx="79.62" cy="665.91" r="0.8" fill="#2f4a66"/><circle cx="88.13" cy="663.31" r="0.8" fill="#3a5878"/><circle cx="83.93" cy="662.07" r="0.8" fill="#2f4a66"/><circle cx="88.15" cy="663.87" r="0.8" fill="#3a5878"/><circle cx="95.03" cy="662.26" r="0.8" fill="#3a5878"/><circle cx="78.38" cy="663.99" r="0.8" fill="#4a6888"/><circle cx="68.37" cy="663.17" r="0.8" fill="#4a6888"/><circle cx="96.64" cy="661.92" r="0.8" fill="#2a4460"/><circle cx="89.13" cy="660.26" r="0.8" fill="#3a5878"/><circle cx="78.88" cy="662.29" r="0.8" fill="#2a4460"/><circle cx="97.16" cy="662.84" r="0.8" fill="#2a4460"/><circle cx="76.26" cy="661.15" r="0.8" fill="#3a5878"/><circle cx="78.53" cy="662.20" r="0.8" fill="#3a5878"/><circle cx="81.49" cy="662.08" r="0.8" fill="#4a6888"/><circle cx="73.06" cy="660.92" r="0.8" fill="#2f4a66"/><circle cx="73.37" cy="663.81" r="0.8" fill="#3a5878"/><circle cx="89.75" cy="664.31" r="0.8" fill="#3a5878"/><circle cx="88.38" cy="664.42" r="0.8" fill="#2f4a66"/><circle cx="71.18" cy="665.26" r="0.8" fill="#2f4a66"/><circle cx="84.25" cy="665.70" r="0.8" fill="#2a4460"/><circle cx="85.02" cy="663.70" r="0.8" fill="#2f4a66"/><circle cx="81.62" cy="661.15" r="0.8" fill="#4a6888"/><circle cx="93.92" cy="662.45" r="0.8" fill="#3a5878"/><circle cx="83.74" cy="662.73" r="0.8" fill="#2f4a66"/><circle cx="74.93" cy="663.39" r="0.8" fill="#3a5878"/><circle cx="96.39" cy="664.77" r="0.8" fill="#2f4a66"/><circle cx="78.22" cy="662.94" r="0.8" fill="#2a4460"/><circle cx="80.24" cy="663.60" r="0.8" fill="#4a6888"/><circle cx="74.60" cy="664.77" r="0.8" fill="#2f4a66"/><circle cx="79.84" cy="666.10" r="0.8" fill="#3a5878"/><circle cx="73.39" cy="663.61" r="0.8" fill="#2f4a66"/><circle cx="89.09" cy="661.77" r="0.8" fill="#3a5878"/><circle cx="77.07" cy="665.54" r="0.8" fill="#2f4a66"/><circle cx="92.32" cy="662.50" r="0.8" fill="#4a6888"/><circle cx="82.69" cy="665.70" r="0.8" fill="#2a4460"/><circle cx="81.39" cy="663.91" r="0.8" fill="#3a5878"/><circle cx="85.50" cy="663.05" r="0.8" fill="#2f4a66"/><circle cx="96.75" cy="663.66" r="0.8" fill="#2a4460"/><circle cx="86.82" cy="664.53" r="0.8" fill="#4a6888"/><circle cx="91.57" cy="663.67" r="0.8" fill="#2f4a66"/><circle cx="83.76" cy="662.63" r="0.8" fill="#2a4460"/><circle cx="83.74" cy="664.33" r="0.8" fill="#3a5878"/><circle cx="97.01" cy="664.93" r="0.8" fill="#2f4a66"/><circle cx="76.23" cy="661.68" r="0.8" fill="#3a5878"/><circle cx="87.37" cy="663.83" r="0.8" fill="#4a6888"/><circle cx="84.77" cy="661.94" r="0.8" fill="#2f4a66"/><circle cx="74.87" cy="663.85" r="0.8" fill="#3a5878"/><circle cx="81.73" cy="662.50" r="0.8" fill="#2f4a66"/><circle cx="94.38" cy="663.68" r="0.8" fill="#4a6888"/><circle cx="78.50" cy="662.89" r="0.8" fill="#4a6888"/><circle cx="97.36" cy="665.14" r="0.8" fill="#3a5878"/><circle cx="87.85" cy="663.10" r="0.8" fill="#4a6888"/><circle cx="68.29" cy="663.94" r="0.8" fill="#3a5878"/><circle cx="81.94" cy="664.10" r="0.8" fill="#2f4a66"/><circle cx="86.38" cy="665.92" r="0.8" fill="#4a6888"/><circle cx="95.84" cy="662.26" r="0.8" fill="#2f4a66"/><circle cx="86.46" cy="664.32" r="0.8" fill="#4a6888"/><circle cx="87.97" cy="664.58" r="0.8" fill="#3a5878"/><circle cx="98.62" cy="664.38" r="0.8" fill="#4a6888"/><circle cx="97.52" cy="664.30" r="0.8" fill="#4a6888"/><circle cx="84.77" cy="662.68" r="0.8" fill="#2a4460"/><circle cx="85.70" cy="665.73" r="0.8" fill="#2f4a66"/><circle cx="89.33" cy="660.97" r="0.8" fill="#2a4460"/><circle cx="72.86" cy="664.03" r="0.8" fill="#4a6888"/><circle cx="93.23" cy="665.55" r="0.8" fill="#3a5878"/><circle cx="67.56" cy="661.76" r="0.8" fill="#4a6888"/><circle cx="96.77" cy="663.35" r="0.8" fill="#4a6888"/><circle cx="89.56" cy="663.51" r="0.8" fill="#4a6888"/><circle cx="80.48" cy="665.49" r="0.8" fill="#2a4460"/><circle cx="83.57" cy="664.38" r="0.8" fill="#2a4460"/><circle cx="80.46" cy="660.64" r="0.8" fill="#4a6888"/><circle cx="88.48" cy="661.69" r="0.8" fill="#2f4a66"/><circle cx="63.03" cy="662.60" r="0.8" fill="#2a4460"/><circle cx="94.32" cy="663.16" r="0.8" fill="#2a4460"/><circle cx="83.25" cy="662.40" r="0.8" fill="#4a6888"/><circle cx="79.35" cy="662.49" r="0.8" fill="#4a6888"/><circle cx="79.02" cy="664.53" r="0.8" fill="#3a5878"/><circle cx="90.37" cy="662.80" r="0.8" fill="#2a4460"/><circle cx="81.38" cy="665.34" r="0.8" fill="#4a6888"/><circle cx="75.08" cy="663.76" r="0.8" fill="#4a6888"/>
<circle cx="75.06" cy="661.02" r="0.75" fill="#7aa3d8"/><circle cx="70.83" cy="659.38" r="0.75" fill="#5f8ccc"/><circle cx="71.57" cy="659.78" r="0.75" fill="#4a78b8"/><circle cx="71.17" cy="660.98" r="0.75" fill="#4a78b8"/><circle cx="81.72" cy="659.37" r="0.75" fill="#7aa3d8"/><circle cx="66.97" cy="659.31" r="0.75" fill="#5f8ccc"/><circle cx="66.30" cy="660.22" r="0.75" fill="#5f8ccc"/><circle cx="78.41" cy="657.11" r="0.75" fill="#5f8ccc"/><circle cx="67.74" cy="660.98" r="0.75" fill="#5f8ccc"/><circle cx="74.41" cy="660.39" r="0.75" fill="#5f8ccc"/><circle cx="67.07" cy="661.14" r="0.75" fill="#5f8ccc"/><circle cx="68.63" cy="660.11" r="0.75" fill="#7aa3d8"/><circle cx="76.55" cy="663.05" r="0.75" fill="#4a78b8"/><circle cx="70.00" cy="662.50" r="0.75" fill="#5f8ccc"/><circle cx="72.84" cy="658.39" r="0.75" fill="#5f8ccc"/><circle cx="71.52" cy="661.13" r="0.75" fill="#4a78b8"/><circle cx="60.02" cy="663.26" r="0.75" fill="#7aa3d8"/><circle cx="69.08" cy="657.82" r="0.75" fill="#5f8ccc"/><circle cx="74.08" cy="658.90" r="0.75" fill="#4a78b8"/><circle cx="81.96" cy="660.33" r="0.75" fill="#5f8ccc"/><circle cx="71.17" cy="660.07" r="0.75" fill="#7aa3d8"/><circle cx="73.04" cy="660.93" r="0.75" fill="#4a78b8"/><circle cx="72.57" cy="660.54" r="0.75" fill="#4a78b8"/><circle cx="67.37" cy="656.85" r="0.75" fill="#7aa3d8"/><circle cx="60.38" cy="661.00" r="0.75" fill="#5f8ccc"/><circle cx="67.50" cy="659.18" r="0.75" fill="#4a78b8"/><circle cx="72.52" cy="662.06" r="0.75" fill="#4a78b8"/><circle cx="71.44" cy="659.46" r="0.75" fill="#4a78b8"/><circle cx="77.25" cy="662.26" r="0.75" fill="#7aa3d8"/><circle cx="70.35" cy="659.81" r="0.75" fill="#5f8ccc"/><circle cx="77.76" cy="660.12" r="0.75" fill="#5f8ccc"/><circle cx="78.40" cy="659.86" r="0.75" fill="#5f8ccc"/><circle cx="72.83" cy="659.13" r="0.75" fill="#7aa3d8"/><circle cx="76.88" cy="659.67" r="0.75" fill="#5f8ccc"/><circle cx="77.28" cy="660.27" r="0.75" fill="#7aa3d8"/><circle cx="63.28" cy="660.46" r="0.75" fill="#5f8ccc"/><circle cx="73.24" cy="658.42" r="0.75" fill="#7aa3d8"/><circle cx="69.98" cy="659.12" r="0.75" fill="#5f8ccc"/><circle cx="72.57" cy="660.12" r="0.75" fill="#5f8ccc"/><circle cx="73.17" cy="660.16" r="0.75" fill="#4a78b8"/><circle cx="70.66" cy="658.14" r="0.75" fill="#7aa3d8"/><circle cx="70.23" cy="661.05" r="0.75" fill="#7aa3d8"/><circle cx="74.66" cy="662.67" r="0.75" fill="#5f8ccc"/>
<circle cx="90.92" cy="648.37" r="0.85" fill="#e83a3a"/><circle cx="91.14" cy="650.50" r="0.85" fill="#e83a3a"/><circle cx="97.86" cy="650.45" r="0.85" fill="#b81818"/><circle cx="93.66" cy="660.79" r="0.85" fill="#e02828"/><circle cx="93.74" cy="656.90" r="0.85" fill="#b81818"/><circle cx="98.21" cy="646.13" r="0.85" fill="#b81818"/><circle cx="95.41" cy="647.53" r="0.85" fill="#e83a3a"/><circle cx="90.52" cy="648.89" r="0.85" fill="#e02828"/><circle cx="96.12" cy="648.04" r="0.85" fill="#e83a3a"/><circle cx="96.94" cy="654.31" r="0.85" fill="#e83a3a"/><circle cx="94.91" cy="644.86" r="0.85" fill="#e83a3a"/><circle cx="97.91" cy="652.29" r="0.85" fill="#e83a3a"/><circle cx="91.89" cy="649.98" r="0.85" fill="#e02828"/><circle cx="96.43" cy="648.07" r="0.85" fill="#e02828"/><circle cx="95.64" cy="653.03" r="0.85" fill="#e83a3a"/><circle cx="97.38" cy="652.12" r="0.85" fill="#e83a3a"/><circle cx="95.03" cy="655.76" r="0.85" fill="#b81818"/><circle cx="91.44" cy="653.78" r="0.85" fill="#e83a3a"/><circle cx="91.89" cy="648.47" r="0.85" fill="#e83a3a"/><circle cx="94.11" cy="652.07" r="0.85" fill="#b81818"/><circle cx="90.96" cy="659.19" r="0.85" fill="#e02828"/><circle cx="93.46" cy="648.10" r="0.85" fill="#b81818"/><circle cx="93.54" cy="639.99" r="0.85" fill="#c81e1e"/><circle cx="98.32" cy="646.79" r="0.85" fill="#b81818"/><circle cx="95.67" cy="652.54" r="0.85" fill="#e83a3a"/><circle cx="91.65" cy="653.46" r="0.85" fill="#b81818"/><circle cx="97.62" cy="650.36" r="0.85" fill="#e02828"/><circle cx="94.64" cy="646.76" r="0.85" fill="#e83a3a"/><circle cx="96.62" cy="649.32" r="0.85" fill="#e83a3a"/><circle cx="95.94" cy="649.98" r="0.85" fill="#e83a3a"/><circle cx="95.96" cy="646.42" r="0.85" fill="#e83a3a"/><circle cx="99.54" cy="646.54" r="0.85" fill="#e02828"/><circle cx="96.81" cy="645.21" r="0.85" fill="#e02828"/><circle cx="94.67" cy="654.61" r="0.85" fill="#e83a3a"/><circle cx="95.15" cy="650.02" r="0.85" fill="#e02828"/><circle cx="95.07" cy="655.68" r="0.85" fill="#e02828"/><circle cx="98.38" cy="655.57" r="0.85" fill="#e02828"/><circle cx="94.36" cy="651.37" r="0.85" fill="#c81e1e"/><circle cx="95.10" cy="648.99" r="0.85" fill="#e02828"/><circle cx="95.21" cy="644.15" r="0.85" fill="#c81e1e"/><circle cx="95.02" cy="647.83" r="0.85" fill="#e02828"/><circle cx="93.89" cy="654.23" r="0.85" fill="#b81818"/><circle cx="99.43" cy="640.33" r="0.85" fill="#e02828"/><circle cx="95.62" cy="645.38" r="0.85" fill="#e83a3a"/><circle cx="92.67" cy="648.38" r="0.85" fill="#c81e1e"/><circle cx="94.25" cy="649.33" r="0.85" fill="#b81818"/><circle cx="91.44" cy="652.18" r="0.85" fill="#c81e1e"/><circle cx="96.81" cy="646.57" r="0.85" fill="#c81e1e"/><circle cx="94.41" cy="655.70" r="0.85" fill="#c81e1e"/><circle cx="96.59" cy="657.22" r="0.85" fill="#b81818"/><circle cx="90.63" cy="654.13" r="0.85" fill="#c81e1e"/><circle cx="95.11" cy="652.06" r="0.85" fill="#c81e1e"/><circle cx="93.12" cy="656.85" r="0.85" fill="#e83a3a"/><circle cx="94.80" cy="660.26" r="0.85" fill="#e02828"/><circle cx="90.72" cy="652.21" r="0.85" fill="#e83a3a"/><circle cx="96.64" cy="650.75" r="0.85" fill="#e02828"/><circle cx="93.87" cy="657.85" r="0.85" fill="#e02828"/><circle cx="93.71" cy="654.47" r="0.85" fill="#c81e1e"/><circle cx="90.20" cy="640.13" r="0.85" fill="#e83a3a"/><circle cx="94.66" cy="657.86" r="0.85" fill="#c81e1e"/><circle cx="93.81" cy="649.21" r="0.85" fill="#c81e1e"/><circle cx="95.18" cy="646.26" r="0.85" fill="#e02828"/><circle cx="96.36" cy="646.19" r="0.85" fill="#c81e1e"/><circle cx="98.12" cy="644.08" r="0.85" fill="#e83a3a"/><circle cx="93.95" cy="657.80" r="0.85" fill="#e83a3a"/><circle cx="93.07" cy="648.86" r="0.85" fill="#b81818"/><circle cx="95.46" cy="645.83" r="0.85" fill="#b81818"/><circle cx="97.12" cy="650.73" r="0.85" fill="#b81818"/><circle cx="95.57" cy="655.53" r="0.85" fill="#e02828"/><circle cx="95.93" cy="654.34" r="0.85" fill="#e83a3a"/><circle cx="92.78" cy="652.54" r="0.85" fill="#b81818"/><circle cx="95.89" cy="655.24" r="0.85" fill="#c81e1e"/><circle cx="97.23" cy="649.96" r="0.85" fill="#c81e1e"/><circle cx="97.66" cy="648.15" r="0.85" fill="#e02828"/><circle cx="95.28" cy="646.19" r="0.85" fill="#e02828"/><circle cx="97.28" cy="647.63" r="0.85" fill="#b81818"/><circle cx="95.76" cy="652.06" r="0.85" fill="#b81818"/><circle cx="91.17" cy="652.29" r="0.85" fill="#e83a3a"/><circle cx="91.06" cy="655.31" r="0.85" fill="#c81e1e"/><circle cx="94.10" cy="652.52" r="0.85" fill="#c81e1e"/><circle cx="96.00" cy="648.04" r="0.85" fill="#e02828"/><circle cx="99.66" cy="646.71" r="0.85" fill="#c81e1e"/><circle cx="94.23" cy="653.60" r="0.85" fill="#c81e1e"/><circle cx="94.46" cy="658.40" r="0.85" fill="#e83a3a"/><circle cx="93.67" cy="654.44" r="0.85" fill="#e02828"/><circle cx="92.60" cy="653.86" r="0.85" fill="#e83a3a"/><circle cx="90.11" cy="646.02" r="0.85" fill="#e83a3a"/><circle cx="93.13" cy="656.00" r="0.85" fill="#e02828"/><circle cx="95.87" cy="658.59" r="0.85" fill="#c81e1e"/><circle cx="98.86" cy="653.85" r="0.85" fill="#e02828"/><circle cx="96.02" cy="645.52" r="0.85" fill="#e83a3a"/><circle cx="96.94" cy="648.33" r="0.85" fill="#e83a3a"/><circle cx="95.33" cy="646.71" r="0.85" fill="#e02828"/><circle cx="91.66" cy="647.82" r="0.85" fill="#b81818"/><circle cx="94.20" cy="643.08" r="0.85" fill="#e83a3a"/><circle cx="92.24" cy="653.61" r="0.85" fill="#e83a3a"/><circle cx="92.21" cy="654.25" r="0.85" fill="#c81e1e"/><circle cx="93.31" cy="654.18" r="0.85" fill="#e83a3a"/><circle cx="95.68" cy="654.75" r="0.85" fill="#e83a3a"/><circle cx="91.74" cy="660.05" r="0.85" fill="#e83a3a"/><circle cx="92.80" cy="659.12" r="0.85" fill="#e83a3a"/><circle cx="90.59" cy="656.95" r="0.85" fill="#e83a3a"/><circle cx="95.15" cy="655.12" r="0.85" fill="#b81818"/><circle cx="92.91" cy="646.84" r="0.85" fill="#c81e1e"/><circle cx="100.00" cy="649.40" r="0.85" fill="#c81e1e"/><circle cx="93.07" cy="645.75" r="0.85" fill="#e02828"/><circle cx="98.45" cy="652.62" r="0.85" fill="#c81e1e"/><circle cx="96.43" cy="658.35" r="0.85" fill="#e83a3a"/><circle cx="96.87" cy="650.87" r="0.85" fill="#e83a3a"/><circle cx="95.56" cy="656.25" r="0.85" fill="#e02828"/><circle cx="95.30" cy="653.47" r="0.85" fill="#e02828"/><circle cx="98.58" cy="646.70" r="0.85" fill="#b81818"/><circle cx="93.10" cy="651.23" r="0.85" fill="#b81818"/><circle cx="91.11" cy="645.89" r="0.85" fill="#b81818"/><circle cx="90.82" cy="659.39" r="0.85" fill="#e83a3a"/><circle cx="97.54" cy="652.84" r="0.85" fill="#e02828"/><circle cx="99.40" cy="644.05" r="0.85" fill="#c81e1e"/><circle cx="92.19" cy="652.06" r="0.85" fill="#e83a3a"/><circle cx="96.56" cy="648.47" r="0.85" fill="#c81e1e"/><circle cx="90.48" cy="651.06" r="0.85" fill="#c81e1e"/><circle cx="94.92" cy="655.16" r="0.85" fill="#e02828"/><circle cx="95.37" cy="654.05" r="0.85" fill="#c81e1e"/><circle cx="90.23" cy="652.36" r="0.85" fill="#e83a3a"/><circle cx="94.33" cy="657.44" r="0.85" fill="#e02828"/><circle cx="99.25" cy="656.30" r="0.85" fill="#c81e1e"/><circle cx="93.47" cy="648.70" r="0.85" fill="#c81e1e"/><circle cx="95.59" cy="653.89" r="0.85" fill="#e83a3a"/><circle cx="90.35" cy="657.57" r="0.85" fill="#e02828"/><circle cx="95.96" cy="644.99" r="0.85" fill="#e02828"/><circle cx="97.96" cy="653.44" r="0.85" fill="#e83a3a"/><circle cx="94.40" cy="657.71" r="0.85" fill="#e83a3a"/><circle cx="94.74" cy="654.91" r="0.85" fill="#e83a3a"/><circle cx="93.56" cy="653.89" r="0.85" fill="#e83a3a"/><circle cx="93.88" cy="651.59" r="0.85" fill="#c81e1e"/><circle cx="91.80" cy="649.36" r="0.85" fill="#b81818"/><circle cx="90.59" cy="658.29" r="0.85" fill="#b81818"/><circle cx="93.95" cy="648.20" r="0.85" fill="#b81818"/><circle cx="91.31" cy="658.38" r="0.85" fill="#e02828"/><circle cx="99.53" cy="646.45" r="0.85" fill="#e83a3a"/><circle cx="93.19" cy="656.49" r="0.85" fill="#e83a3a"/><circle cx="96.25" cy="655.52" r="0.85" fill="#e83a3a"/><circle cx="95.24" cy="639.09" r="0.85" fill="#e83a3a"/><circle cx="92.15" cy="648.69" r="0.85" fill="#c81e1e"/><circle cx="95.20" cy="661.00" r="0.85" fill="#e02828"/><circle cx="94.64" cy="644.51" r="0.85" fill="#e83a3a"/><circle cx="91.97" cy="643.51" r="0.85" fill="#c81e1e"/><circle cx="91.56" cy="656.97" r="0.85" fill="#e83a3a"/><circle cx="93.03" cy="654.20" r="0.85" fill="#b81818"/><circle cx="98.51" cy="644.97" r="0.85" fill="#e83a3a"/><circle cx="94.84" cy="652.03" r="0.85" fill="#b81818"/><circle cx="97.80" cy="648.58" r="0.85" fill="#c81e1e"/><circle cx="95.05" cy="650.06" r="0.85" fill="#c81e1e"/><circle cx="93.57" cy="648.85" r="0.85" fill="#e83a3a"/><circle cx="98.38" cy="652.62" r="0.85" fill="#b81818"/><circle cx="96.70" cy="649.39" r="0.85" fill="#e83a3a"/><circle cx="96.21" cy="648.91" r="0.85" fill="#e83a3a"/><circle cx="95.98" cy="651.58" r="0.85" fill="#b81818"/><circle cx="97.47" cy="645.42" r="0.85" fill="#e02828"/><circle cx="95.19" cy="642.13" r="0.85" fill="#e83a3a"/><circle cx="92.84" cy="639.80" r="0.85" fill="#c81e1e"/><circle cx="95.20" cy="646.64" r="0.85" fill="#e02828"/><circle cx="93.82" cy="652.19" r="0.85" fill="#e02828"/><circle cx="94.46" cy="649.56" r="0.85" fill="#b81818"/><circle cx="94.49" cy="649.30" r="0.85" fill="#e83a3a"/><circle cx="95.66" cy="656.75" r="0.85" fill="#b81818"/><circle cx="96.62" cy="658.72" r="0.85" fill="#e02828"/><circle cx="98.38" cy="652.08" r="0.85" fill="#c81e1e"/><circle cx="96.22" cy="642.98" r="0.85" fill="#b81818"/><circle cx="100.00" cy="644.42" r="0.85" fill="#c81e1e"/><circle cx="92.83" cy="648.50" r="0.85" fill="#b81818"/><circle cx="96.17" cy="657.68" r="0.85" fill="#b81818"/><circle cx="99.27" cy="649.50" r="0.85" fill="#b81818"/><circle cx="99.56" cy="640.81" r="0.85" fill="#e02828"/><circle cx="94.36" cy="648.83" r="0.85" fill="#c81e1e"/><circle cx="96.70" cy="648.66" r="0.85" fill="#b81818"/><circle cx="95.05" cy="655.41" r="0.85" fill="#e83a3a"/><circle cx="100.40" cy="653.99" r="0.85" fill="#e83a3a"/><circle cx="94.23" cy="651.57" r="0.85" fill="#e83a3a"/><circle cx="95.81" cy="654.01" r="0.85" fill="#b81818"/><circle cx="90.05" cy="661.38" r="0.85" fill="#e83a3a"/><circle cx="94.88" cy="648.12" r="0.85" fill="#e02828"/><circle cx="98.65" cy="641.07" r="0.85" fill="#e02828"/><circle cx="93.30" cy="654.91" r="0.85" fill="#b81818"/><circle cx="93.81" cy="654.41" r="0.85" fill="#e02828"/><circle cx="93.62" cy="654.21" r="0.85" fill="#b81818"/><circle cx="96.20" cy="651.75" r="0.85" fill="#e83a3a"/><circle cx="100.73" cy="651.32" r="0.85" fill="#c81e1e"/><circle cx="96.02" cy="657.44" r="0.85" fill="#b81818"/><circle cx="97.14" cy="660.28" r="0.85" fill="#b81818"/><circle cx="94.42" cy="650.22" r="0.85" fill="#c81e1e"/><circle cx="97.01" cy="650.46" r="0.85" fill="#e83a3a"/><circle cx="97.25" cy="649.58" r="0.85" fill="#e83a3a"/><circle cx="93.65" cy="648.68" r="0.85" fill="#e02828"/><circle cx="90.80" cy="656.85" r="0.85" fill="#b81818"/><circle cx="90.18" cy="661.37" r="0.85" fill="#c81e1e"/><circle cx="92.81" cy="645.53" r="0.85" fill="#c81e1e"/><circle cx="92.61" cy="654.75" r="0.85" fill="#e83a3a"/><circle cx="94.24" cy="662.12" r="0.85" fill="#e02828"/><circle cx="92.70" cy="654.31" r="0.85" fill="#c81e1e"/><circle cx="94.88" cy="656.61" r="0.85" fill="#b81818"/><circle cx="100.30" cy="660.14" r="0.85" fill="#e02828"/><circle cx="96.51" cy="661.42" r="0.85" fill="#b81818"/>
<circle cx="70.10" cy="594.70" r="1.00" fill="#5a7cb0" stroke="none" stroke-width="0.3" />
<circle cx="72.10" cy="595.80" r="1.00" fill="#5a7cb0" stroke="none" stroke-width="0.3" />
<circle cx="70.10" cy="597.80" r="1.00" fill="#5a7cb0" stroke="none" stroke-width="0.3" />
<circle cx="73.50" cy="596.40" r="1.00" fill="#5a7cb0" stroke="none" stroke-width="0.3" />
<circle cx="70.10" cy="604.50" r="1.00" fill="#5a7cb0" stroke="none" stroke-width="0.3" />
<circle cx="101.70" cy="594.70" r="0.80" fill="#d04050" stroke="none" stroke-width="0.3" />
<circle cx="80.90" cy="616.00" r="0.70" fill="#8a8a8a" stroke="none" stroke-width="0.3" />
<circle cx="81.50" cy="634.80" r="0.70" fill="#8a8a8a" stroke="none" stroke-width="0.3" />
<circle cx="84.00" cy="640.00" r="0.70" fill="#8a8a8a" stroke="none" stroke-width="0.3" />
<circle cx="82.00" cy="645.00" r="0.70" fill="#8a8a8a" stroke="none" stroke-width="0.3" />
<circle cx="100.40" cy="631.40" r="0.80" fill="#d83838" stroke="none" stroke-width="0.3" />
<circle cx="103.00" cy="643.00" r="0.80" fill="#d83838" stroke="none" stroke-width="0.3" />
<circle cx="101.70" cy="651.00" r="0.80" fill="#d83838" stroke="none" stroke-width="0.3" />
<circle cx="104.40" cy="664.40" r="0.80" fill="#d83838" stroke="none" stroke-width="0.3" />
<circle cx="106.00" cy="656.00" r="0.80" fill="#d83838" stroke="none" stroke-width="0.3" />
<circle cx="99.50" cy="646.00" r="0.80" fill="#d83838" stroke="none" stroke-width="0.3" />
<circle cx="108.00" cy="662.00" r="0.80" fill="#d83838" stroke="none" stroke-width="0.3" />
<text x="263.00" y="619.41" font-size="5.8" fill="#222222" stroke="#222222" stroke-width="0.05" >Cops9</text>
<line x1="270.00" y1="620.00" x2="279.00" y2="652.00" stroke="#111" stroke-width="0.65" />
<text x="277.50" y="612.11" font-size="5.8" fill="#222222" stroke="#222222" stroke-width="0.05" >Psmb9</text>
<line x1="287.00" y1="613.00" x2="281.00" y2="650.00" stroke="#111" stroke-width="0.65" />
<text x="294.60" y="619.81" font-size="5.8" fill="#222222" stroke="#222222" stroke-width="0.05" >H2-T23</text>
<line x1="296.00" y1="620.00" x2="283.00" y2="650.00" stroke="#111" stroke-width="0.65" />
<text x="310.00" y="626.91" font-size="5.8" fill="#222222" stroke="#222222" stroke-width="0.05" >Ifi27l2a</text>
<line x1="310.00" y1="626.50" x2="291.00" y2="639.00" stroke="#111" stroke-width="0.65" />
<text x="298.80" y="639.01" font-size="5.8" fill="#222222" stroke="#222222" stroke-width="0.05" >Stat1</text>
<line x1="298.00" y1="639.00" x2="287.00" y2="646.00" stroke="#111" stroke-width="0.65" />
<text x="318.00" y="634.61" font-size="5.8" fill="#222222" stroke="#222222" stroke-width="0.05" >Ly6a</text>
<line x1="317.00" y1="634.00" x2="293.00" y2="645.00" stroke="#111" stroke-width="0.65" />
<text x="325.80" y="640.91" font-size="5.8" fill="#222222" stroke="#222222" stroke-width="0.05" >Iigp1</text>
<line x1="325.00" y1="640.50" x2="296.00" y2="652.00" stroke="#111" stroke-width="0.65" />
<text x="319.00" y="649.21" font-size="5.8" fill="#222222" stroke="#222222" stroke-width="0.05" >Irgm1</text>
<line x1="318.00" y1="648.50" x2="290.00" y2="654.00" stroke="#111" stroke-width="0.65" />
<text x="337.30" y="651.51" font-size="5.8" fill="#222222" stroke="#222222" stroke-width="0.05" >Igtp</text>
<line x1="336.00" y1="651.00" x2="291.00" y2="656.00" stroke="#111" stroke-width="0.65" />
<text x="324.80" y="658.91" font-size="5.8" fill="#222222" stroke="#222222" stroke-width="0.05" >Batf</text>
<line x1="324.00" y1="658.00" x2="290.00" y2="658.00" stroke="#111" stroke-width="0.65" />
<text x="338.30" y="662.71" font-size="5.8" fill="#222222" stroke="#222222" stroke-width="0.05" >Cdk6</text>
<line x1="337.00" y1="661.00" x2="292.00" y2="660.00" stroke="#111" stroke-width="0.65" />
<text x="262.00" y="638.11" font-size="5.8" fill="#222222" stroke="#222222" stroke-width="0.05" >Tap1</text>
<line x1="270.00" y1="638.50" x2="281.00" y2="657.00" stroke="#111" stroke-width="0.65" />
<text x="256.30" y="643.11" font-size="5.8" fill="#222222" stroke="#222222" stroke-width="0.05" >Tap2</text>
<line x1="266.00" y1="643.00" x2="280.00" y2="657.00" stroke="#111" stroke-width="0.65" />
<text x="233.80" y="654.61" font-size="5.8" fill="#222222" stroke="#222222" stroke-width="0.05" >Cd27</text>
<line x1="246.00" y1="653.50" x2="279.00" y2="660.00" stroke="#111" stroke-width="0.65" />
<text x="362.00" y="655.48" font-size="6.0" fill="#e04848" stroke="#e04848" stroke-width="0.05" >Il18</text>
<circle cx="363.30" cy="657.70" r="0.80" fill="#d83838" stroke="none" stroke-width="0.3" />
<circle cx="264.69" cy="664.74" r="0.75" fill="#5a7490"/><circle cx="278.06" cy="663.14" r="0.75" fill="#3a5470"/><circle cx="260.71" cy="663.52" r="0.75" fill="#4a6480"/><circle cx="272.87" cy="661.83" r="0.75" fill="#4a6480"/><circle cx="264.61" cy="664.32" r="0.75" fill="#5a7490"/><circle cx="278.69" cy="663.84" r="0.75" fill="#3a5470"/><circle cx="262.15" cy="662.27" r="0.75" fill="#4a6480"/><circle cx="279.71" cy="665.37" r="0.75" fill="#6a84a0"/><circle cx="282.85" cy="661.86" r="0.75" fill="#5a7490"/><circle cx="278.48" cy="664.63" r="0.75" fill="#6a84a0"/><circle cx="280.53" cy="665.58" r="0.75" fill="#4a6480"/><circle cx="274.53" cy="664.49" r="0.75" fill="#5a7490"/><circle cx="278.26" cy="664.43" r="0.75" fill="#4a6480"/><circle cx="265.07" cy="663.40" r="0.75" fill="#4a6480"/><circle cx="268.22" cy="664.80" r="0.75" fill="#4a6480"/><circle cx="257.68" cy="665.22" r="0.75" fill="#6a84a0"/><circle cx="274.60" cy="663.16" r="0.75" fill="#4a6480"/><circle cx="277.33" cy="665.25" r="0.75" fill="#6a84a0"/><circle cx="255.25" cy="665.12" r="0.75" fill="#4a6480"/><circle cx="280.66" cy="662.51" r="0.75" fill="#3a5470"/><circle cx="278.10" cy="666.44" r="0.75" fill="#4a6480"/><circle cx="267.19" cy="661.77" r="0.75" fill="#4a6480"/><circle cx="285.57" cy="663.80" r="0.75" fill="#6a84a0"/><circle cx="260.68" cy="661.93" r="0.75" fill="#6a84a0"/><circle cx="266.32" cy="663.59" r="0.75" fill="#5a7490"/><circle cx="271.74" cy="665.40" r="0.75" fill="#6a84a0"/><circle cx="265.62" cy="662.60" r="0.75" fill="#6a84a0"/><circle cx="282.89" cy="665.11" r="0.75" fill="#5a7490"/><circle cx="276.83" cy="663.51" r="0.75" fill="#6a84a0"/><circle cx="277.10" cy="663.20" r="0.75" fill="#6a84a0"/><circle cx="271.96" cy="662.78" r="0.75" fill="#6a84a0"/><circle cx="269.22" cy="662.96" r="0.75" fill="#5a7490"/><circle cx="271.61" cy="665.04" r="0.75" fill="#6a84a0"/><circle cx="268.17" cy="663.53" r="0.75" fill="#5a7490"/><circle cx="256.66" cy="663.38" r="0.75" fill="#6a84a0"/><circle cx="266.57" cy="664.95" r="0.75" fill="#4a6480"/><circle cx="274.80" cy="662.53" r="0.75" fill="#5a7490"/><circle cx="258.90" cy="663.43" r="0.75" fill="#3a5470"/><circle cx="284.59" cy="662.27" r="0.75" fill="#4a6480"/><circle cx="276.81" cy="666.12" r="0.75" fill="#5a7490"/><circle cx="262.26" cy="662.63" r="0.75" fill="#5a7490"/><circle cx="247.23" cy="666.13" r="0.75" fill="#4a6480"/><circle cx="284.31" cy="664.58" r="0.75" fill="#3a5470"/><circle cx="272.26" cy="665.48" r="0.75" fill="#3a5470"/><circle cx="268.36" cy="665.14" r="0.75" fill="#6a84a0"/><circle cx="255.66" cy="662.17" r="0.75" fill="#3a5470"/><circle cx="262.51" cy="662.92" r="0.75" fill="#6a84a0"/><circle cx="274.51" cy="661.80" r="0.75" fill="#5a7490"/><circle cx="279.21" cy="664.97" r="0.75" fill="#6a84a0"/><circle cx="270.68" cy="664.95" r="0.75" fill="#6a84a0"/><circle cx="268.06" cy="665.09" r="0.75" fill="#6a84a0"/><circle cx="287.39" cy="662.97" r="0.75" fill="#4a6480"/><circle cx="275.06" cy="662.31" r="0.75" fill="#5a7490"/><circle cx="259.98" cy="664.92" r="0.75" fill="#3a5470"/><circle cx="260.73" cy="663.24" r="0.75" fill="#4a6480"/><circle cx="264.35" cy="663.93" r="0.75" fill="#6a84a0"/><circle cx="288.36" cy="664.47" r="0.75" fill="#3a5470"/><circle cx="260.81" cy="662.67" r="0.75" fill="#5a7490"/><circle cx="265.16" cy="664.63" r="0.75" fill="#3a5470"/><circle cx="256.91" cy="662.81" r="0.75" fill="#6a84a0"/><circle cx="281.44" cy="664.73" r="0.75" fill="#4a6480"/><circle cx="272.34" cy="664.88" r="0.75" fill="#6a84a0"/><circle cx="282.51" cy="665.15" r="0.75" fill="#6a84a0"/><circle cx="278.57" cy="664.14" r="0.75" fill="#3a5470"/><circle cx="267.15" cy="664.36" r="0.75" fill="#3a5470"/><circle cx="261.92" cy="661.81" r="0.75" fill="#3a5470"/><circle cx="263.74" cy="663.93" r="0.75" fill="#4a6480"/><circle cx="263.61" cy="665.01" r="0.75" fill="#6a84a0"/><circle cx="272.74" cy="664.78" r="0.75" fill="#4a6480"/><circle cx="271.57" cy="664.10" r="0.75" fill="#3a5470"/><circle cx="277.11" cy="663.26" r="0.75" fill="#4a6480"/><circle cx="290.25" cy="663.49" r="0.75" fill="#4a6480"/><circle cx="287.63" cy="661.98" r="0.75" fill="#3a5470"/><circle cx="270.37" cy="660.95" r="0.75" fill="#6a84a0"/><circle cx="262.41" cy="664.12" r="0.75" fill="#3a5470"/><circle cx="264.67" cy="663.61" r="0.75" fill="#5a7490"/><circle cx="270.75" cy="663.68" r="0.75" fill="#3a5470"/><circle cx="263.51" cy="663.86" r="0.75" fill="#3a5470"/><circle cx="268.51" cy="665.12" r="0.75" fill="#3a5470"/><circle cx="269.43" cy="664.66" r="0.75" fill="#3a5470"/><circle cx="278.53" cy="663.96" r="0.75" fill="#6a84a0"/><circle cx="278.97" cy="662.68" r="0.75" fill="#4a6480"/><circle cx="257.65" cy="665.88" r="0.75" fill="#6a84a0"/><circle cx="263.81" cy="664.51" r="0.75" fill="#5a7490"/><circle cx="282.73" cy="664.78" r="0.75" fill="#4a6480"/><circle cx="274.86" cy="665.39" r="0.75" fill="#4a6480"/><circle cx="257.19" cy="663.88" r="0.75" fill="#6a84a0"/><circle cx="278.70" cy="662.36" r="0.75" fill="#4a6480"/><circle cx="262.65" cy="662.76" r="0.75" fill="#4a6480"/><circle cx="254.57" cy="663.25" r="0.75" fill="#4a6480"/><circle cx="279.68" cy="660.50" r="0.75" fill="#4a6480"/><circle cx="282.94" cy="665.18" r="0.75" fill="#3a5470"/><circle cx="259.86" cy="664.47" r="0.75" fill="#3a5470"/><circle cx="274.56" cy="663.47" r="0.75" fill="#4a6480"/><circle cx="286.42" cy="662.77" r="0.75" fill="#6a84a0"/><circle cx="261.55" cy="665.12" r="0.75" fill="#3a5470"/><circle cx="268.98" cy="662.01" r="0.75" fill="#4a6480"/><circle cx="279.73" cy="662.92" r="0.75" fill="#5a7490"/><circle cx="266.82" cy="662.86" r="0.75" fill="#5a7490"/><circle cx="283.33" cy="663.26" r="0.75" fill="#3a5470"/><circle cx="253.75" cy="664.22" r="0.75" fill="#5a7490"/><circle cx="264.16" cy="663.87" r="0.75" fill="#4a6480"/><circle cx="288.20" cy="665.68" r="0.75" fill="#3a5470"/><circle cx="277.81" cy="660.45" r="0.75" fill="#5a7490"/><circle cx="275.26" cy="664.83" r="0.75" fill="#5a7490"/><circle cx="269.28" cy="664.15" r="0.75" fill="#6a84a0"/><circle cx="273.40" cy="664.28" r="0.75" fill="#4a6480"/><circle cx="272.86" cy="661.88" r="0.75" fill="#4a6480"/><circle cx="272.49" cy="665.16" r="0.75" fill="#5a7490"/><circle cx="275.33" cy="663.74" r="0.75" fill="#3a5470"/><circle cx="275.13" cy="664.44" r="0.75" fill="#4a6480"/><circle cx="274.31" cy="665.53" r="0.75" fill="#5a7490"/><circle cx="269.92" cy="665.05" r="0.75" fill="#4a6480"/><circle cx="258.82" cy="666.37" r="0.75" fill="#6a84a0"/><circle cx="263.29" cy="665.39" r="0.75" fill="#3a5470"/><circle cx="272.85" cy="661.94" r="0.75" fill="#3a5470"/><circle cx="272.67" cy="664.54" r="0.75" fill="#6a84a0"/><circle cx="276.18" cy="665.30" r="0.75" fill="#6a84a0"/><circle cx="285.38" cy="661.20" r="0.75" fill="#3a5470"/><circle cx="271.12" cy="665.37" r="0.75" fill="#4a6480"/><circle cx="262.02" cy="663.69" r="0.75" fill="#5a7490"/><circle cx="276.89" cy="663.88" r="0.75" fill="#4a6480"/><circle cx="248.65" cy="663.69" r="0.75" fill="#6a84a0"/><circle cx="269.90" cy="661.77" r="0.75" fill="#6a84a0"/><circle cx="281.94" cy="663.08" r="0.75" fill="#6a84a0"/><circle cx="270.59" cy="664.68" r="0.75" fill="#6a84a0"/><circle cx="278.06" cy="665.77" r="0.75" fill="#4a6480"/><circle cx="280.73" cy="664.18" r="0.75" fill="#5a7490"/><circle cx="259.80" cy="666.36" r="0.75" fill="#5a7490"/><circle cx="265.00" cy="660.92" r="0.75" fill="#3a5470"/><circle cx="269.56" cy="664.39" r="0.75" fill="#3a5470"/><circle cx="272.81" cy="665.31" r="0.75" fill="#5a7490"/><circle cx="278.70" cy="664.28" r="0.75" fill="#6a84a0"/><circle cx="264.06" cy="661.12" r="0.75" fill="#4a6480"/><circle cx="259.11" cy="663.57" r="0.75" fill="#6a84a0"/><circle cx="268.90" cy="664.89" r="0.75" fill="#6a84a0"/><circle cx="276.83" cy="665.22" r="0.75" fill="#4a6480"/><circle cx="270.85" cy="665.72" r="0.75" fill="#4a6480"/><circle cx="274.77" cy="664.46" r="0.75" fill="#4a6480"/><circle cx="278.78" cy="664.50" r="0.75" fill="#4a6480"/><circle cx="288.17" cy="663.30" r="0.75" fill="#3a5470"/><circle cx="265.04" cy="664.78" r="0.75" fill="#4a6480"/><circle cx="276.15" cy="663.57" r="0.75" fill="#4a6480"/><circle cx="260.74" cy="664.62" r="0.75" fill="#4a6480"/><circle cx="266.99" cy="662.40" r="0.75" fill="#4a6480"/><circle cx="256.61" cy="663.58" r="0.75" fill="#5a7490"/><circle cx="259.97" cy="664.08" r="0.75" fill="#4a6480"/><circle cx="291.74" cy="666.13" r="0.75" fill="#6a84a0"/><circle cx="263.34" cy="662.19" r="0.75" fill="#5a7490"/><circle cx="283.36" cy="665.59" r="0.75" fill="#6a84a0"/><circle cx="270.56" cy="663.13" r="0.75" fill="#4a6480"/><circle cx="271.80" cy="664.06" r="0.75" fill="#6a84a0"/><circle cx="263.70" cy="665.65" r="0.75" fill="#3a5470"/><circle cx="277.02" cy="663.51" r="0.75" fill="#5a7490"/><circle cx="259.15" cy="666.24" r="0.75" fill="#4a6480"/><circle cx="248.67" cy="664.71" r="0.75" fill="#3a5470"/><circle cx="270.95" cy="665.62" r="0.75" fill="#4a6480"/><circle cx="279.76" cy="664.66" r="0.75" fill="#6a84a0"/><circle cx="266.00" cy="665.00" r="0.75" fill="#4a6480"/><circle cx="255.30" cy="661.48" r="0.75" fill="#3a5470"/><circle cx="286.11" cy="664.14" r="0.75" fill="#6a84a0"/><circle cx="265.95" cy="663.41" r="0.75" fill="#3a5470"/><circle cx="270.33" cy="663.04" r="0.75" fill="#6a84a0"/><circle cx="260.39" cy="661.86" r="0.75" fill="#5a7490"/><circle cx="258.53" cy="663.94" r="0.75" fill="#4a6480"/><circle cx="266.34" cy="663.35" r="0.75" fill="#5a7490"/><circle cx="266.90" cy="663.07" r="0.75" fill="#4a6480"/><circle cx="264.87" cy="663.04" r="0.75" fill="#5a7490"/><circle cx="271.28" cy="663.67" r="0.75" fill="#5a7490"/><circle cx="270.34" cy="660.09" r="0.75" fill="#3a5470"/><circle cx="261.38" cy="663.01" r="0.75" fill="#3a5470"/><circle cx="286.00" cy="662.91" r="0.75" fill="#6a84a0"/><circle cx="280.00" cy="664.50" r="0.75" fill="#5a7490"/><circle cx="260.31" cy="661.01" r="0.75" fill="#3a5470"/><circle cx="273.64" cy="660.82" r="0.75" fill="#4a6480"/><circle cx="268.15" cy="663.93" r="0.75" fill="#3a5470"/><circle cx="261.19" cy="664.30" r="0.75" fill="#3a5470"/><circle cx="276.54" cy="666.49" r="0.75" fill="#5a7490"/><circle cx="268.56" cy="662.66" r="0.75" fill="#3a5470"/><circle cx="266.46" cy="663.02" r="0.75" fill="#4a6480"/><circle cx="274.31" cy="661.00" r="0.75" fill="#5a7490"/><circle cx="256.99" cy="665.59" r="0.75" fill="#3a5470"/><circle cx="273.06" cy="663.06" r="0.75" fill="#5a7490"/><circle cx="280.13" cy="663.02" r="0.75" fill="#4a6480"/><circle cx="267.04" cy="665.68" r="0.75" fill="#3a5470"/><circle cx="279.67" cy="664.16" r="0.75" fill="#4a6480"/><circle cx="272.90" cy="662.22" r="0.75" fill="#6a84a0"/><circle cx="263.17" cy="662.83" r="0.75" fill="#4a6480"/><circle cx="254.69" cy="662.43" r="0.75" fill="#4a6480"/><circle cx="260.48" cy="663.49" r="0.75" fill="#4a6480"/><circle cx="281.38" cy="665.32" r="0.75" fill="#4a6480"/>
<circle cx="261.35" cy="658.33" r="0.7" fill="#8ab0dc"/><circle cx="262.08" cy="659.05" r="0.7" fill="#6f9ad0"/><circle cx="257.78" cy="656.61" r="0.7" fill="#6f9ad0"/><circle cx="261.04" cy="658.36" r="0.7" fill="#6f9ad0"/><circle cx="263.05" cy="659.66" r="0.7" fill="#6f9ad0"/><circle cx="255.38" cy="657.90" r="0.7" fill="#5a88c0"/><circle cx="258.95" cy="658.30" r="0.7" fill="#5a88c0"/><circle cx="260.40" cy="660.49" r="0.7" fill="#6f9ad0"/><circle cx="260.69" cy="657.64" r="0.7" fill="#6f9ad0"/><circle cx="263.65" cy="660.16" r="0.7" fill="#6f9ad0"/><circle cx="263.69" cy="658.75" r="0.7" fill="#8ab0dc"/><circle cx="255.51" cy="657.40" r="0.7" fill="#5a88c0"/><circle cx="259.75" cy="658.63" r="0.7" fill="#8ab0dc"/><circle cx="265.30" cy="658.90" r="0.7" fill="#5a88c0"/><circle cx="255.42" cy="657.15" r="0.7" fill="#5a88c0"/><circle cx="262.61" cy="658.86" r="0.7" fill="#5a88c0"/><circle cx="262.51" cy="659.32" r="0.7" fill="#6f9ad0"/><circle cx="267.55" cy="656.92" r="0.7" fill="#8ab0dc"/><circle cx="260.88" cy="659.90" r="0.7" fill="#8ab0dc"/><circle cx="264.20" cy="659.30" r="0.7" fill="#5a88c0"/><circle cx="260.87" cy="660.84" r="0.7" fill="#5a88c0"/><circle cx="267.76" cy="659.12" r="0.7" fill="#5a88c0"/><circle cx="261.65" cy="657.91" r="0.7" fill="#8ab0dc"/><circle cx="260.72" cy="660.76" r="0.7" fill="#5a88c0"/><circle cx="255.60" cy="657.97" r="0.7" fill="#6f9ad0"/><circle cx="262.15" cy="658.75" r="0.7" fill="#8ab0dc"/><circle cx="260.65" cy="658.72" r="0.7" fill="#5a88c0"/><circle cx="264.79" cy="657.89" r="0.7" fill="#5a88c0"/><circle cx="260.44" cy="658.07" r="0.7" fill="#6f9ad0"/>
<circle cx="289.30" cy="658.18" r="0.7" fill="#e86a6a"/><circle cx="287.48" cy="656.22" r="0.7" fill="#e04848"/><circle cx="280.90" cy="658.09" r="0.7" fill="#e04848"/><circle cx="280.32" cy="656.63" r="0.7" fill="#d83030"/><circle cx="283.63" cy="657.68" r="0.7" fill="#e04848"/><circle cx="285.83" cy="654.19" r="0.7" fill="#e04848"/><circle cx="287.73" cy="662.14" r="0.7" fill="#e86a6a"/><circle cx="285.10" cy="652.73" r="0.7" fill="#f09090"/><circle cx="281.73" cy="655.58" r="0.7" fill="#e04848"/><circle cx="282.69" cy="656.02" r="0.7" fill="#e04848"/><circle cx="285.92" cy="654.73" r="0.7" fill="#e04848"/><circle cx="283.02" cy="656.79" r="0.7" fill="#e04848"/><circle cx="288.21" cy="659.49" r="0.7" fill="#f09090"/><circle cx="282.22" cy="661.14" r="0.7" fill="#d83030"/><circle cx="287.60" cy="662.39" r="0.7" fill="#f09090"/><circle cx="288.57" cy="658.33" r="0.7" fill="#f09090"/><circle cx="283.85" cy="652.27" r="0.7" fill="#e04848"/><circle cx="288.48" cy="656.22" r="0.7" fill="#e04848"/><circle cx="282.50" cy="663.56" r="0.7" fill="#f09090"/><circle cx="284.30" cy="656.09" r="0.7" fill="#d83030"/><circle cx="283.43" cy="656.20" r="0.7" fill="#e86a6a"/><circle cx="280.51" cy="651.86" r="0.7" fill="#e86a6a"/><circle cx="282.05" cy="655.77" r="0.7" fill="#d83030"/><circle cx="283.67" cy="657.31" r="0.7" fill="#e04848"/><circle cx="288.96" cy="660.49" r="0.7" fill="#e04848"/><circle cx="284.92" cy="657.42" r="0.7" fill="#f09090"/><circle cx="287.40" cy="659.67" r="0.7" fill="#f09090"/><circle cx="289.10" cy="655.09" r="0.7" fill="#f09090"/><circle cx="286.47" cy="654.53" r="0.7" fill="#e04848"/><circle cx="286.31" cy="658.20" r="0.7" fill="#d83030"/><circle cx="280.97" cy="659.45" r="0.7" fill="#d83030"/><circle cx="286.93" cy="655.51" r="0.7" fill="#f09090"/><circle cx="288.27" cy="658.27" r="0.7" fill="#e86a6a"/><circle cx="282.25" cy="649.03" r="0.7" fill="#e86a6a"/><circle cx="286.69" cy="656.42" r="0.7" fill="#e86a6a"/><circle cx="285.90" cy="654.15" r="0.7" fill="#e04848"/><circle cx="283.40" cy="657.29" r="0.7" fill="#e04848"/><circle cx="290.79" cy="657.94" r="0.7" fill="#e04848"/><circle cx="282.30" cy="655.81" r="0.7" fill="#e86a6a"/><circle cx="281.48" cy="658.01" r="0.7" fill="#e86a6a"/><circle cx="289.46" cy="657.19" r="0.7" fill="#e04848"/><circle cx="281.47" cy="655.66" r="0.7" fill="#d83030"/><circle cx="284.01" cy="657.25" r="0.7" fill="#d83030"/><circle cx="286.56" cy="658.85" r="0.7" fill="#e86a6a"/><circle cx="282.73" cy="656.53" r="0.7" fill="#e86a6a"/><circle cx="284.80" cy="657.91" r="0.7" fill="#f09090"/><circle cx="287.46" cy="652.14" r="0.7" fill="#d83030"/><circle cx="283.99" cy="655.30" r="0.7" fill="#e86a6a"/><circle cx="286.68" cy="657.14" r="0.7" fill="#e86a6a"/><circle cx="283.43" cy="661.63" r="0.7" fill="#f09090"/><circle cx="284.42" cy="653.30" r="0.7" fill="#d83030"/><circle cx="283.87" cy="653.19" r="0.7" fill="#e04848"/><circle cx="280.70" cy="652.46" r="0.7" fill="#e04848"/><circle cx="281.03" cy="652.44" r="0.7" fill="#e04848"/><circle cx="290.09" cy="653.17" r="0.7" fill="#e86a6a"/><circle cx="285.31" cy="658.96" r="0.7" fill="#e04848"/><circle cx="284.36" cy="660.69" r="0.7" fill="#d83030"/><circle cx="283.48" cy="657.57" r="0.7" fill="#d83030"/><circle cx="282.14" cy="657.89" r="0.7" fill="#e86a6a"/><circle cx="286.62" cy="658.86" r="0.7" fill="#f09090"/><circle cx="280.80" cy="661.20" r="0.7" fill="#d83030"/><circle cx="281.69" cy="662.40" r="0.7" fill="#e86a6a"/><circle cx="284.80" cy="660.56" r="0.7" fill="#f09090"/><circle cx="283.42" cy="660.24" r="0.7" fill="#f09090"/><circle cx="283.50" cy="656.83" r="0.7" fill="#e86a6a"/><circle cx="283.95" cy="658.60" r="0.7" fill="#e86a6a"/><circle cx="284.96" cy="658.95" r="0.7" fill="#e86a6a"/><circle cx="284.24" cy="660.76" r="0.7" fill="#e86a6a"/><circle cx="290.55" cy="656.73" r="0.7" fill="#e04848"/><circle cx="286.60" cy="653.77" r="0.7" fill="#e86a6a"/><circle cx="287.23" cy="659.07" r="0.7" fill="#f09090"/><circle cx="287.93" cy="659.35" r="0.7" fill="#d83030"/><circle cx="288.47" cy="658.33" r="0.7" fill="#d83030"/><circle cx="280.80" cy="655.48" r="0.7" fill="#e04848"/>
<circle cx="261.50" cy="592.00" r="1.10" fill="#50688a" stroke="none" stroke-width="0.3" />
<circle cx="252.00" cy="612.70" r="1.10" fill="#50688a" stroke="none" stroke-width="0.3" />
<circle cx="256.30" cy="607.00" r="1.10" fill="#50688a" stroke="none" stroke-width="0.3" />
<circle cx="261.00" cy="609.80" r="1.10" fill="#50688a" stroke="none" stroke-width="0.3" />
<circle cx="268.00" cy="608.00" r="1.10" fill="#50688a" stroke="none" stroke-width="0.3" />
<circle cx="268.00" cy="613.70" r="1.10" fill="#50688a" stroke="none" stroke-width="0.3" />
<circle cx="262.00" cy="626.00" r="1.10" fill="#50688a" stroke="none" stroke-width="0.3" />
<circle cx="260.00" cy="630.40" r="1.10" fill="#50688a" stroke="none" stroke-width="0.3" />
<circle cx="268.80" cy="628.00" r="1.10" fill="#50688a" stroke="none" stroke-width="0.3" />
<circle cx="251.00" cy="638.30" r="1.10" fill="#50688a" stroke="none" stroke-width="0.3" />
<circle cx="260.80" cy="647.00" r="1.10" fill="#50688a" stroke="none" stroke-width="0.3" />
<circle cx="266.00" cy="641.00" r="1.10" fill="#50688a" stroke="none" stroke-width="0.3" />
<circle cx="268.00" cy="617.00" r="1.10" fill="#50688a" stroke="none" stroke-width="0.3" />
<circle cx="283.00" cy="645.00" r="0.75" fill="#e06060" stroke="none" stroke-width="0.3" />
<circle cx="286.00" cy="641.00" r="0.75" fill="#e06060" stroke="none" stroke-width="0.3" />
<circle cx="289.00" cy="648.00" r="0.75" fill="#e06060" stroke="none" stroke-width="0.3" />
<circle cx="292.00" cy="652.00" r="0.75" fill="#e06060" stroke="none" stroke-width="0.3" />
<circle cx="295.00" cy="655.00" r="0.75" fill="#e06060" stroke="none" stroke-width="0.3" />
<circle cx="300.00" cy="662.00" r="0.75" fill="#e06060" stroke="none" stroke-width="0.3" />
<circle cx="305.00" cy="663.00" r="0.75" fill="#e06060" stroke="none" stroke-width="0.3" />
<circle cx="288.00" cy="636.00" r="0.75" fill="#e06060" stroke="none" stroke-width="0.3" />
<circle cx="284.00" cy="630.00" r="0.75" fill="#e06060" stroke="none" stroke-width="0.3" />
</svg>
</body></html>
